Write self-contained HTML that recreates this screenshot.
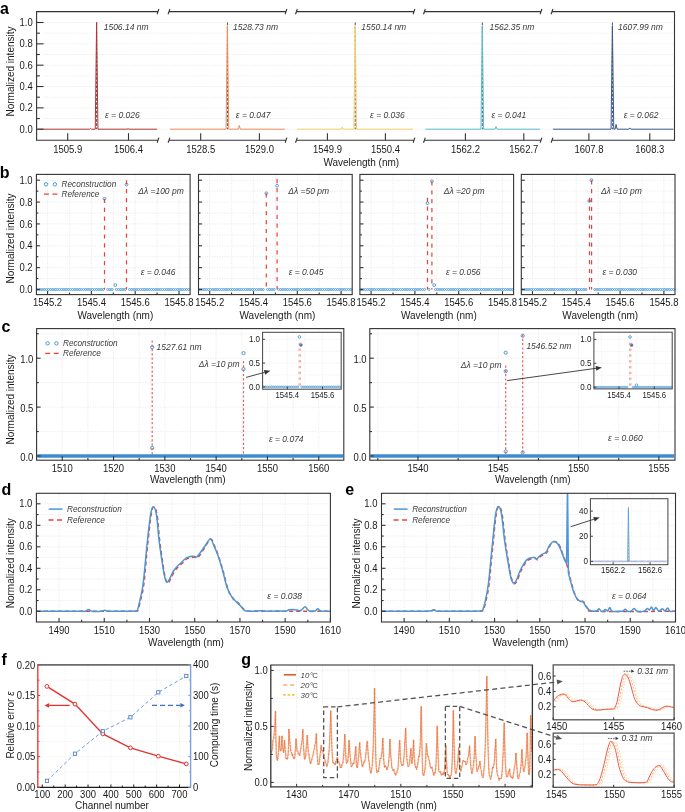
<!DOCTYPE html>
<html><head><meta charset="utf-8"><style>
html,body{margin:0;padding:0;background:#fff;}
svg{display:block;font-family:"Liberation Sans", sans-serif;will-change:transform;}
</style></head><body>
<svg width="685" height="812" viewBox="0 0 685 812">
<rect width="685" height="812" fill="#fff"/>
<line x1="44.6" y1="129.2" x2="673.5" y2="129.2" stroke="#d8d8d8" stroke-width="0.6" stroke-dasharray="1 1.5" />
<line x1="44.6" y1="118.53" x2="673.5" y2="118.53" stroke="#d8d8d8" stroke-width="0.6" stroke-dasharray="1 1.5" />
<line x1="44.6" y1="107.86" x2="673.5" y2="107.86" stroke="#d8d8d8" stroke-width="0.6" stroke-dasharray="1 1.5" />
<line x1="44.6" y1="97.19" x2="673.5" y2="97.19" stroke="#d8d8d8" stroke-width="0.6" stroke-dasharray="1 1.5" />
<line x1="44.6" y1="86.52" x2="673.5" y2="86.52" stroke="#d8d8d8" stroke-width="0.6" stroke-dasharray="1 1.5" />
<line x1="44.6" y1="75.85" x2="673.5" y2="75.85" stroke="#d8d8d8" stroke-width="0.6" stroke-dasharray="1 1.5" />
<line x1="44.6" y1="65.18" x2="673.5" y2="65.18" stroke="#d8d8d8" stroke-width="0.6" stroke-dasharray="1 1.5" />
<line x1="44.6" y1="54.51" x2="673.5" y2="54.51" stroke="#d8d8d8" stroke-width="0.6" stroke-dasharray="1 1.5" />
<line x1="44.6" y1="43.84" x2="673.5" y2="43.84" stroke="#d8d8d8" stroke-width="0.6" stroke-dasharray="1 1.5" />
<line x1="44.6" y1="33.17" x2="673.5" y2="33.17" stroke="#d8d8d8" stroke-width="0.6" stroke-dasharray="1 1.5" />
<line x1="44.6" y1="22.5" x2="673.5" y2="22.5" stroke="#d8d8d8" stroke-width="0.6" stroke-dasharray="1 1.5" />
<line x1="96.6" y1="22.5" x2="96.6" y2="129.2" stroke="#3a3a3a" stroke-width="0.9" stroke-dasharray="2.6 1.6" />
<line x1="227.4" y1="22.5" x2="227.4" y2="129.2" stroke="#3a3a3a" stroke-width="0.9" stroke-dasharray="2.6 1.6" />
<line x1="355.2" y1="22.5" x2="355.2" y2="129.2" stroke="#3a3a3a" stroke-width="0.9" stroke-dasharray="2.6 1.6" />
<line x1="482.3" y1="22.5" x2="482.3" y2="129.2" stroke="#3a3a3a" stroke-width="0.9" stroke-dasharray="2.6 1.6" />
<line x1="612.4" y1="22.5" x2="612.4" y2="129.2" stroke="#3a3a3a" stroke-width="0.9" stroke-dasharray="2.6 1.6" />
<path d="M37.6 129.2 L89.4 129.2 L90.4 128.35 L91.4 129.2 L95.25 129.2 L96.6 22.5 L97.95 129.2 L127 129.2 L128 128.77 L129 129.2 L157 129.2" stroke="#b23535" stroke-width="1.0" fill="none" stroke-linejoin="miter" stroke-miterlimit="30"/>
<path d="M170 129.2 L226.05 129.2 L227.4 25.7 L228.75 129.2 L238.3 129.2 L239.3 125.47 L240.3 129.2 L285 129.2" stroke="#f28c5a" stroke-width="1.0" fill="none" stroke-linejoin="miter" stroke-miterlimit="30"/>
<path d="M297.4 129.2 L341.3 129.2 L342.3 127.07 L343.3 129.2 L353.85 129.2 L355.2 25.7 L356.55 129.2 L413 129.2" stroke="#f6cd6a" stroke-width="1.0" fill="none" stroke-linejoin="miter" stroke-miterlimit="30"/>
<path d="M425.4 129.2 L480.95 129.2 L482.3 25.7 L483.65 129.2 L495 129.2 L496 126.53 L497 129.2 L540 129.2" stroke="#5bbad6" stroke-width="1.0" fill="none" stroke-linejoin="miter" stroke-miterlimit="30"/>
<path d="M553 129.2 L611.05 129.2 L612.4 25.7 L613.75 129.2 L615.1 129.2 L616.1 124.4 L617.1 129.2 L628.8 129.2 L629.8 127.92 L630.8 129.2 L673.5 129.2" stroke="#3a5894" stroke-width="1.0" fill="none" stroke-linejoin="miter" stroke-miterlimit="30"/>
<text x="103.7" y="30.46" font-size="8.5" text-anchor="start" fill="#3a3a3a" font-style="italic" >1506.14 nm</text>
<text x="233.1" y="30.46" font-size="8.5" text-anchor="start" fill="#3a3a3a" font-style="italic" >1528.73 nm</text>
<text x="361.3" y="30.46" font-size="8.5" text-anchor="start" fill="#3a3a3a" font-style="italic" >1550.14 nm</text>
<text x="489.5" y="30.46" font-size="8.5" text-anchor="start" fill="#3a3a3a" font-style="italic" >1562.35 nm</text>
<text x="618" y="30.46" font-size="8.5" text-anchor="start" fill="#3a3a3a" font-style="italic" >1607.99 nm</text>
<text x="105" y="117.66" font-size="8.5" text-anchor="start" fill="#3a3a3a" font-style="italic" >&#949; = 0.026</text>
<text x="235.8" y="117.66" font-size="8.5" text-anchor="start" fill="#3a3a3a" font-style="italic" >&#949; = 0.047</text>
<text x="370.1" y="117.66" font-size="8.5" text-anchor="start" fill="#3a3a3a" font-style="italic" >&#949; = 0.036</text>
<text x="491.5" y="117.66" font-size="8.5" text-anchor="start" fill="#3a3a3a" font-style="italic" >&#949; = 0.041</text>
<text x="623.7" y="117.66" font-size="8.5" text-anchor="start" fill="#3a3a3a" font-style="italic" >&#949; = 0.062</text>
<line x1="36.6" y1="11.1" x2="36.6" y2="140.7" stroke="#333333" stroke-width="1.1" />
<line x1="674.5" y1="11.1" x2="674.5" y2="140.7" stroke="#333333" stroke-width="1.1" />
<line x1="36.6" y1="11.6" x2="158" y2="11.6" stroke="#333333" stroke-width="1.1" />
<line x1="36.6" y1="140.2" x2="158" y2="140.2" stroke="#333333" stroke-width="1.1" />
<line x1="169" y1="11.6" x2="286" y2="11.6" stroke="#333333" stroke-width="1.1" />
<line x1="169" y1="140.2" x2="286" y2="140.2" stroke="#333333" stroke-width="1.1" />
<line x1="296.4" y1="11.6" x2="414" y2="11.6" stroke="#333333" stroke-width="1.1" />
<line x1="296.4" y1="140.2" x2="414" y2="140.2" stroke="#333333" stroke-width="1.1" />
<line x1="424.4" y1="11.6" x2="541" y2="11.6" stroke="#333333" stroke-width="1.1" />
<line x1="424.4" y1="140.2" x2="541" y2="140.2" stroke="#333333" stroke-width="1.1" />
<line x1="552" y1="11.6" x2="674.5" y2="11.6" stroke="#333333" stroke-width="1.1" />
<line x1="552" y1="140.2" x2="674.5" y2="140.2" stroke="#333333" stroke-width="1.1" />
<line x1="157.1" y1="14.2" x2="158.9" y2="9" stroke="#333333" stroke-width="1.1" />
<line x1="157.1" y1="142.8" x2="158.9" y2="137.6" stroke="#333333" stroke-width="1.1" />
<line x1="168.1" y1="14.2" x2="169.9" y2="9" stroke="#333333" stroke-width="1.1" />
<line x1="168.1" y1="142.8" x2="169.9" y2="137.6" stroke="#333333" stroke-width="1.1" />
<line x1="285.1" y1="14.2" x2="286.9" y2="9" stroke="#333333" stroke-width="1.1" />
<line x1="285.1" y1="142.8" x2="286.9" y2="137.6" stroke="#333333" stroke-width="1.1" />
<line x1="295.5" y1="14.2" x2="297.3" y2="9" stroke="#333333" stroke-width="1.1" />
<line x1="295.5" y1="142.8" x2="297.3" y2="137.6" stroke="#333333" stroke-width="1.1" />
<line x1="413.1" y1="14.2" x2="414.9" y2="9" stroke="#333333" stroke-width="1.1" />
<line x1="413.1" y1="142.8" x2="414.9" y2="137.6" stroke="#333333" stroke-width="1.1" />
<line x1="423.5" y1="14.2" x2="425.3" y2="9" stroke="#333333" stroke-width="1.1" />
<line x1="423.5" y1="142.8" x2="425.3" y2="137.6" stroke="#333333" stroke-width="1.1" />
<line x1="540.1" y1="14.2" x2="541.9" y2="9" stroke="#333333" stroke-width="1.1" />
<line x1="540.1" y1="142.8" x2="541.9" y2="137.6" stroke="#333333" stroke-width="1.1" />
<line x1="551.1" y1="14.2" x2="552.9" y2="9" stroke="#333333" stroke-width="1.1" />
<line x1="551.1" y1="142.8" x2="552.9" y2="137.6" stroke="#333333" stroke-width="1.1" />
<line x1="36.6" y1="129.2" x2="43.6" y2="129.2" stroke="#333333" stroke-width="1.1" />
<text transform="translate(32.8 132.8) scale(0.95 1)" font-size="10.0" text-anchor="end" fill="#1a1a1a" >0.0</text>
<line x1="36.6" y1="118.53" x2="39.9" y2="118.53" stroke="#333333" stroke-width="1.1" />
<line x1="36.6" y1="107.86" x2="43.6" y2="107.86" stroke="#333333" stroke-width="1.1" />
<text transform="translate(32.8 111.46) scale(0.95 1)" font-size="10.0" text-anchor="end" fill="#1a1a1a" >0.2</text>
<line x1="36.6" y1="97.19" x2="39.9" y2="97.19" stroke="#333333" stroke-width="1.1" />
<line x1="36.6" y1="86.52" x2="43.6" y2="86.52" stroke="#333333" stroke-width="1.1" />
<text transform="translate(32.8 90.12) scale(0.95 1)" font-size="10.0" text-anchor="end" fill="#1a1a1a" >0.4</text>
<line x1="36.6" y1="75.85" x2="39.9" y2="75.85" stroke="#333333" stroke-width="1.1" />
<line x1="36.6" y1="65.18" x2="43.6" y2="65.18" stroke="#333333" stroke-width="1.1" />
<text transform="translate(32.8 68.78) scale(0.95 1)" font-size="10.0" text-anchor="end" fill="#1a1a1a" >0.6</text>
<line x1="36.6" y1="54.51" x2="39.9" y2="54.51" stroke="#333333" stroke-width="1.1" />
<line x1="36.6" y1="43.84" x2="43.6" y2="43.84" stroke="#333333" stroke-width="1.1" />
<text transform="translate(32.8 47.44) scale(0.95 1)" font-size="10.0" text-anchor="end" fill="#1a1a1a" >0.8</text>
<line x1="36.6" y1="33.17" x2="39.9" y2="33.17" stroke="#333333" stroke-width="1.1" />
<line x1="36.6" y1="22.5" x2="43.6" y2="22.5" stroke="#333333" stroke-width="1.1" />
<text transform="translate(32.8 26.1) scale(0.95 1)" font-size="10.0" text-anchor="end" fill="#1a1a1a" >1.0</text>
<line x1="67.7" y1="140.2" x2="67.7" y2="133.2" stroke="#333333" stroke-width="1.1" />
<text transform="translate(67.7 152.7) scale(0.95 1)" font-size="10.0" text-anchor="middle" fill="#1a1a1a" >1505.9</text>
<line x1="128.5" y1="140.2" x2="128.5" y2="133.2" stroke="#333333" stroke-width="1.1" />
<text transform="translate(128.5 152.7) scale(0.95 1)" font-size="10.0" text-anchor="middle" fill="#1a1a1a" >1506.4</text>
<line x1="200.7" y1="140.2" x2="200.7" y2="133.2" stroke="#333333" stroke-width="1.1" />
<text transform="translate(200.7 152.7) scale(0.95 1)" font-size="10.0" text-anchor="middle" fill="#1a1a1a" >1528.5</text>
<line x1="259.4" y1="140.2" x2="259.4" y2="133.2" stroke="#333333" stroke-width="1.1" />
<text transform="translate(259.4 152.7) scale(0.95 1)" font-size="10.0" text-anchor="middle" fill="#1a1a1a" >1529.0</text>
<line x1="327.4" y1="140.2" x2="327.4" y2="133.2" stroke="#333333" stroke-width="1.1" />
<text transform="translate(327.4 152.7) scale(0.95 1)" font-size="10.0" text-anchor="middle" fill="#1a1a1a" >1549.9</text>
<line x1="385.4" y1="140.2" x2="385.4" y2="133.2" stroke="#333333" stroke-width="1.1" />
<text transform="translate(385.4 152.7) scale(0.95 1)" font-size="10.0" text-anchor="middle" fill="#1a1a1a" >1550.4</text>
<line x1="465.4" y1="140.2" x2="465.4" y2="133.2" stroke="#333333" stroke-width="1.1" />
<text transform="translate(465.4 152.7) scale(0.95 1)" font-size="10.0" text-anchor="middle" fill="#1a1a1a" >1562.2</text>
<line x1="523.8" y1="140.2" x2="523.8" y2="133.2" stroke="#333333" stroke-width="1.1" />
<text transform="translate(523.8 152.7) scale(0.95 1)" font-size="10.0" text-anchor="middle" fill="#1a1a1a" >1562.7</text>
<line x1="588.9" y1="140.2" x2="588.9" y2="133.2" stroke="#333333" stroke-width="1.1" />
<text transform="translate(588.9 152.7) scale(0.95 1)" font-size="10.0" text-anchor="middle" fill="#1a1a1a" >1607.8</text>
<line x1="649.8" y1="140.2" x2="649.8" y2="133.2" stroke="#333333" stroke-width="1.1" />
<text transform="translate(649.8 152.7) scale(0.95 1)" font-size="10.0" text-anchor="middle" fill="#1a1a1a" >1608.3</text>
<text x="361.3" y="165.8" font-size="10" text-anchor="middle" fill="#1a1a1a" >Wavelength (nm)</text>
<text transform="translate(13.8 71.5) rotate(-90)" x="0" y="0" font-size="10" text-anchor="middle" fill="#1a1a1a">Normalized intensity</text>
<text x="0" y="14" font-size="16" text-anchor="start" fill="#000" font-weight="bold" >a</text>
<line x1="47.6" y1="175.4" x2="47.6" y2="293.6" stroke="#d8d8d8" stroke-width="0.6" stroke-dasharray="1 1.5" />
<line x1="69.5" y1="175.4" x2="69.5" y2="293.6" stroke="#d8d8d8" stroke-width="0.6" stroke-dasharray="1 1.5" />
<line x1="91.4" y1="175.4" x2="91.4" y2="293.6" stroke="#d8d8d8" stroke-width="0.6" stroke-dasharray="1 1.5" />
<line x1="113.3" y1="175.4" x2="113.3" y2="293.6" stroke="#d8d8d8" stroke-width="0.6" stroke-dasharray="1 1.5" />
<line x1="135.2" y1="175.4" x2="135.2" y2="293.6" stroke="#d8d8d8" stroke-width="0.6" stroke-dasharray="1 1.5" />
<line x1="157.1" y1="175.4" x2="157.1" y2="293.6" stroke="#d8d8d8" stroke-width="0.6" stroke-dasharray="1 1.5" />
<line x1="179" y1="175.4" x2="179" y2="293.6" stroke="#d8d8d8" stroke-width="0.6" stroke-dasharray="1 1.5" />
<line x1="37.4" y1="278.57" x2="189.1" y2="278.57" stroke="#d8d8d8" stroke-width="0.6" stroke-dasharray="1 1.5" />
<line x1="37.4" y1="267.64" x2="189.1" y2="267.64" stroke="#d8d8d8" stroke-width="0.6" stroke-dasharray="1 1.5" />
<line x1="37.4" y1="256.71" x2="189.1" y2="256.71" stroke="#d8d8d8" stroke-width="0.6" stroke-dasharray="1 1.5" />
<line x1="37.4" y1="245.78" x2="189.1" y2="245.78" stroke="#d8d8d8" stroke-width="0.6" stroke-dasharray="1 1.5" />
<line x1="37.4" y1="234.85" x2="189.1" y2="234.85" stroke="#d8d8d8" stroke-width="0.6" stroke-dasharray="1 1.5" />
<line x1="37.4" y1="223.92" x2="189.1" y2="223.92" stroke="#d8d8d8" stroke-width="0.6" stroke-dasharray="1 1.5" />
<line x1="37.4" y1="212.99" x2="189.1" y2="212.99" stroke="#d8d8d8" stroke-width="0.6" stroke-dasharray="1 1.5" />
<line x1="37.4" y1="202.06" x2="189.1" y2="202.06" stroke="#d8d8d8" stroke-width="0.6" stroke-dasharray="1 1.5" />
<line x1="37.4" y1="191.13" x2="189.1" y2="191.13" stroke="#d8d8d8" stroke-width="0.6" stroke-dasharray="1 1.5" />
<line x1="37.4" y1="180.2" x2="189.1" y2="180.2" stroke="#d8d8d8" stroke-width="0.6" stroke-dasharray="1 1.5" />
<circle cx="37.6" cy="289.5" r="1.05" stroke="#4a98d8" stroke-width="0.85" fill="none"/>
<circle cx="39.79" cy="289.5" r="1.05" stroke="#4a98d8" stroke-width="0.85" fill="none"/>
<circle cx="41.98" cy="289.5" r="1.05" stroke="#4a98d8" stroke-width="0.85" fill="none"/>
<circle cx="44.17" cy="289.5" r="1.05" stroke="#4a98d8" stroke-width="0.85" fill="none"/>
<circle cx="46.36" cy="289.5" r="1.05" stroke="#4a98d8" stroke-width="0.85" fill="none"/>
<circle cx="48.55" cy="289.5" r="1.05" stroke="#4a98d8" stroke-width="0.85" fill="none"/>
<circle cx="50.74" cy="289.5" r="1.05" stroke="#4a98d8" stroke-width="0.85" fill="none"/>
<circle cx="52.93" cy="289.5" r="1.05" stroke="#4a98d8" stroke-width="0.85" fill="none"/>
<circle cx="55.12" cy="289.5" r="1.05" stroke="#4a98d8" stroke-width="0.85" fill="none"/>
<circle cx="57.31" cy="289.5" r="1.05" stroke="#4a98d8" stroke-width="0.85" fill="none"/>
<circle cx="59.5" cy="289.5" r="1.05" stroke="#4a98d8" stroke-width="0.85" fill="none"/>
<circle cx="61.69" cy="289.5" r="1.05" stroke="#4a98d8" stroke-width="0.85" fill="none"/>
<circle cx="63.88" cy="289.5" r="1.05" stroke="#4a98d8" stroke-width="0.85" fill="none"/>
<circle cx="66.07" cy="289.5" r="1.05" stroke="#4a98d8" stroke-width="0.85" fill="none"/>
<circle cx="68.26" cy="289.5" r="1.05" stroke="#4a98d8" stroke-width="0.85" fill="none"/>
<circle cx="70.45" cy="289.5" r="1.05" stroke="#4a98d8" stroke-width="0.85" fill="none"/>
<circle cx="72.64" cy="289.5" r="1.05" stroke="#4a98d8" stroke-width="0.85" fill="none"/>
<circle cx="74.83" cy="289.5" r="1.05" stroke="#4a98d8" stroke-width="0.85" fill="none"/>
<circle cx="77.02" cy="289.5" r="1.05" stroke="#4a98d8" stroke-width="0.85" fill="none"/>
<circle cx="79.21" cy="289.5" r="1.05" stroke="#4a98d8" stroke-width="0.85" fill="none"/>
<circle cx="81.4" cy="289.5" r="1.05" stroke="#4a98d8" stroke-width="0.85" fill="none"/>
<circle cx="83.59" cy="289.5" r="1.05" stroke="#4a98d8" stroke-width="0.85" fill="none"/>
<circle cx="85.78" cy="289.5" r="1.05" stroke="#4a98d8" stroke-width="0.85" fill="none"/>
<circle cx="87.97" cy="289.5" r="1.05" stroke="#4a98d8" stroke-width="0.85" fill="none"/>
<circle cx="90.16" cy="289.5" r="1.05" stroke="#4a98d8" stroke-width="0.85" fill="none"/>
<circle cx="92.35" cy="289.5" r="1.05" stroke="#4a98d8" stroke-width="0.85" fill="none"/>
<circle cx="94.54" cy="289.5" r="1.05" stroke="#4a98d8" stroke-width="0.85" fill="none"/>
<circle cx="96.73" cy="289.5" r="1.05" stroke="#4a98d8" stroke-width="0.85" fill="none"/>
<circle cx="98.92" cy="289.5" r="1.05" stroke="#4a98d8" stroke-width="0.85" fill="none"/>
<circle cx="101.11" cy="289.5" r="1.05" stroke="#4a98d8" stroke-width="0.85" fill="none"/>
<circle cx="103.3" cy="289.5" r="1.05" stroke="#4a98d8" stroke-width="0.85" fill="none"/>
<circle cx="107.68" cy="289.5" r="1.05" stroke="#4a98d8" stroke-width="0.85" fill="none"/>
<circle cx="109.87" cy="289.5" r="1.05" stroke="#4a98d8" stroke-width="0.85" fill="none"/>
<circle cx="112.06" cy="289.5" r="1.05" stroke="#4a98d8" stroke-width="0.85" fill="none"/>
<circle cx="116.44" cy="289.5" r="1.05" stroke="#4a98d8" stroke-width="0.85" fill="none"/>
<circle cx="118.63" cy="289.5" r="1.05" stroke="#4a98d8" stroke-width="0.85" fill="none"/>
<circle cx="120.82" cy="289.5" r="1.05" stroke="#4a98d8" stroke-width="0.85" fill="none"/>
<circle cx="123.01" cy="289.5" r="1.05" stroke="#4a98d8" stroke-width="0.85" fill="none"/>
<circle cx="125.2" cy="289.5" r="1.05" stroke="#4a98d8" stroke-width="0.85" fill="none"/>
<circle cx="129.58" cy="289.5" r="1.05" stroke="#4a98d8" stroke-width="0.85" fill="none"/>
<circle cx="131.77" cy="289.5" r="1.05" stroke="#4a98d8" stroke-width="0.85" fill="none"/>
<circle cx="133.96" cy="289.5" r="1.05" stroke="#4a98d8" stroke-width="0.85" fill="none"/>
<circle cx="136.15" cy="289.5" r="1.05" stroke="#4a98d8" stroke-width="0.85" fill="none"/>
<circle cx="138.34" cy="289.5" r="1.05" stroke="#4a98d8" stroke-width="0.85" fill="none"/>
<circle cx="140.53" cy="289.5" r="1.05" stroke="#4a98d8" stroke-width="0.85" fill="none"/>
<circle cx="142.72" cy="289.5" r="1.05" stroke="#4a98d8" stroke-width="0.85" fill="none"/>
<circle cx="144.91" cy="289.5" r="1.05" stroke="#4a98d8" stroke-width="0.85" fill="none"/>
<circle cx="147.1" cy="289.5" r="1.05" stroke="#4a98d8" stroke-width="0.85" fill="none"/>
<circle cx="149.29" cy="289.5" r="1.05" stroke="#4a98d8" stroke-width="0.85" fill="none"/>
<circle cx="151.48" cy="289.5" r="1.05" stroke="#4a98d8" stroke-width="0.85" fill="none"/>
<circle cx="153.67" cy="289.5" r="1.05" stroke="#4a98d8" stroke-width="0.85" fill="none"/>
<circle cx="155.86" cy="289.5" r="1.05" stroke="#4a98d8" stroke-width="0.85" fill="none"/>
<circle cx="158.05" cy="289.5" r="1.05" stroke="#4a98d8" stroke-width="0.85" fill="none"/>
<circle cx="160.24" cy="289.5" r="1.05" stroke="#4a98d8" stroke-width="0.85" fill="none"/>
<circle cx="162.43" cy="289.5" r="1.05" stroke="#4a98d8" stroke-width="0.85" fill="none"/>
<circle cx="164.62" cy="289.5" r="1.05" stroke="#4a98d8" stroke-width="0.85" fill="none"/>
<circle cx="166.81" cy="289.5" r="1.05" stroke="#4a98d8" stroke-width="0.85" fill="none"/>
<circle cx="169" cy="289.5" r="1.05" stroke="#4a98d8" stroke-width="0.85" fill="none"/>
<circle cx="171.19" cy="289.5" r="1.05" stroke="#4a98d8" stroke-width="0.85" fill="none"/>
<circle cx="173.38" cy="289.5" r="1.05" stroke="#4a98d8" stroke-width="0.85" fill="none"/>
<circle cx="175.57" cy="289.5" r="1.05" stroke="#4a98d8" stroke-width="0.85" fill="none"/>
<circle cx="177.76" cy="289.5" r="1.05" stroke="#4a98d8" stroke-width="0.85" fill="none"/>
<circle cx="179.95" cy="289.5" r="1.05" stroke="#4a98d8" stroke-width="0.85" fill="none"/>
<circle cx="182.14" cy="289.5" r="1.05" stroke="#4a98d8" stroke-width="0.85" fill="none"/>
<circle cx="184.33" cy="289.5" r="1.05" stroke="#4a98d8" stroke-width="0.85" fill="none"/>
<circle cx="186.52" cy="289.5" r="1.05" stroke="#4a98d8" stroke-width="0.85" fill="none"/>
<circle cx="188.71" cy="289.5" r="1.05" stroke="#4a98d8" stroke-width="0.85" fill="none"/>
<circle cx="104.5" cy="198.78" r="1.4" stroke="#4a98d8" stroke-width="0.95" fill="none"/>
<circle cx="126.5" cy="184.57" r="1.4" stroke="#4a98d8" stroke-width="0.95" fill="none"/>
<circle cx="115.3" cy="285.13" r="1.4" stroke="#4a98d8" stroke-width="0.95" fill="none"/>
<line x1="104.5" y1="198.78" x2="104.5" y2="289.5" stroke="#e8413c" stroke-width="1.2" stroke-dasharray="4.2 4.7" />
<line x1="126.5" y1="180.2" x2="126.5" y2="289.5" stroke="#e8413c" stroke-width="1.2" stroke-dasharray="4.2 4.7" />
<text x="138.2" y="194.26" font-size="8.5" text-anchor="start" fill="#3a3a3a" font-style="italic" >&#916;&#955; =100 pm</text>
<text x="140.7" y="274.56" font-size="8.5" text-anchor="start" fill="#3a3a3a" font-style="italic" >&#949; = 0.046</text>
<rect x="36.4" y="174.4" width="153.7" height="120.2" stroke="#333333" stroke-width="1.1" fill="none"/>
<line x1="36.4" y1="289.5" x2="39.9" y2="289.5" stroke="#333333" stroke-width="1.1" />
<line x1="36.4" y1="278.57" x2="38.4" y2="278.57" stroke="#333333" stroke-width="1.1" />
<line x1="36.4" y1="267.64" x2="39.9" y2="267.64" stroke="#333333" stroke-width="1.1" />
<line x1="36.4" y1="256.71" x2="38.4" y2="256.71" stroke="#333333" stroke-width="1.1" />
<line x1="36.4" y1="245.78" x2="39.9" y2="245.78" stroke="#333333" stroke-width="1.1" />
<line x1="36.4" y1="234.85" x2="38.4" y2="234.85" stroke="#333333" stroke-width="1.1" />
<line x1="36.4" y1="223.92" x2="39.9" y2="223.92" stroke="#333333" stroke-width="1.1" />
<line x1="36.4" y1="212.99" x2="38.4" y2="212.99" stroke="#333333" stroke-width="1.1" />
<line x1="36.4" y1="202.06" x2="39.9" y2="202.06" stroke="#333333" stroke-width="1.1" />
<line x1="36.4" y1="191.13" x2="38.4" y2="191.13" stroke="#333333" stroke-width="1.1" />
<line x1="36.4" y1="180.2" x2="39.9" y2="180.2" stroke="#333333" stroke-width="1.1" />
<line x1="47.6" y1="294.6" x2="47.6" y2="291.1" stroke="#333333" stroke-width="1.1" />
<line x1="69.5" y1="294.6" x2="69.5" y2="292.6" stroke="#333333" stroke-width="1.1" />
<line x1="91.4" y1="294.6" x2="91.4" y2="291.1" stroke="#333333" stroke-width="1.1" />
<line x1="113.3" y1="294.6" x2="113.3" y2="292.6" stroke="#333333" stroke-width="1.1" />
<line x1="135.2" y1="294.6" x2="135.2" y2="291.1" stroke="#333333" stroke-width="1.1" />
<line x1="157.1" y1="294.6" x2="157.1" y2="292.6" stroke="#333333" stroke-width="1.1" />
<line x1="179" y1="294.6" x2="179" y2="291.1" stroke="#333333" stroke-width="1.1" />
<text transform="translate(47.6 306.2) scale(0.95 1)" font-size="10.0" text-anchor="middle" fill="#1a1a1a" >1545.2</text>
<text transform="translate(91.4 306.2) scale(0.95 1)" font-size="10.0" text-anchor="middle" fill="#1a1a1a" >1545.4</text>
<text transform="translate(135.2 306.2) scale(0.95 1)" font-size="10.0" text-anchor="middle" fill="#1a1a1a" >1545.6</text>
<text transform="translate(179 306.2) scale(0.95 1)" font-size="10.0" text-anchor="middle" fill="#1a1a1a" >1545.8</text>
<text x="115.35" y="318.8" font-size="10" text-anchor="middle" fill="#1a1a1a" >Wavelength (nm)</text>
<line x1="209.7" y1="175.4" x2="209.7" y2="293.6" stroke="#d8d8d8" stroke-width="0.6" stroke-dasharray="1 1.5" />
<line x1="231.6" y1="175.4" x2="231.6" y2="293.6" stroke="#d8d8d8" stroke-width="0.6" stroke-dasharray="1 1.5" />
<line x1="253.5" y1="175.4" x2="253.5" y2="293.6" stroke="#d8d8d8" stroke-width="0.6" stroke-dasharray="1 1.5" />
<line x1="275.4" y1="175.4" x2="275.4" y2="293.6" stroke="#d8d8d8" stroke-width="0.6" stroke-dasharray="1 1.5" />
<line x1="297.3" y1="175.4" x2="297.3" y2="293.6" stroke="#d8d8d8" stroke-width="0.6" stroke-dasharray="1 1.5" />
<line x1="319.2" y1="175.4" x2="319.2" y2="293.6" stroke="#d8d8d8" stroke-width="0.6" stroke-dasharray="1 1.5" />
<line x1="341.1" y1="175.4" x2="341.1" y2="293.6" stroke="#d8d8d8" stroke-width="0.6" stroke-dasharray="1 1.5" />
<line x1="199.5" y1="278.57" x2="351.2" y2="278.57" stroke="#d8d8d8" stroke-width="0.6" stroke-dasharray="1 1.5" />
<line x1="199.5" y1="267.64" x2="351.2" y2="267.64" stroke="#d8d8d8" stroke-width="0.6" stroke-dasharray="1 1.5" />
<line x1="199.5" y1="256.71" x2="351.2" y2="256.71" stroke="#d8d8d8" stroke-width="0.6" stroke-dasharray="1 1.5" />
<line x1="199.5" y1="245.78" x2="351.2" y2="245.78" stroke="#d8d8d8" stroke-width="0.6" stroke-dasharray="1 1.5" />
<line x1="199.5" y1="234.85" x2="351.2" y2="234.85" stroke="#d8d8d8" stroke-width="0.6" stroke-dasharray="1 1.5" />
<line x1="199.5" y1="223.92" x2="351.2" y2="223.92" stroke="#d8d8d8" stroke-width="0.6" stroke-dasharray="1 1.5" />
<line x1="199.5" y1="212.99" x2="351.2" y2="212.99" stroke="#d8d8d8" stroke-width="0.6" stroke-dasharray="1 1.5" />
<line x1="199.5" y1="202.06" x2="351.2" y2="202.06" stroke="#d8d8d8" stroke-width="0.6" stroke-dasharray="1 1.5" />
<line x1="199.5" y1="191.13" x2="351.2" y2="191.13" stroke="#d8d8d8" stroke-width="0.6" stroke-dasharray="1 1.5" />
<line x1="199.5" y1="180.2" x2="351.2" y2="180.2" stroke="#d8d8d8" stroke-width="0.6" stroke-dasharray="1 1.5" />
<circle cx="199.7" cy="289.5" r="1.05" stroke="#4a98d8" stroke-width="0.85" fill="none"/>
<circle cx="201.89" cy="289.5" r="1.05" stroke="#4a98d8" stroke-width="0.85" fill="none"/>
<circle cx="204.08" cy="289.5" r="1.05" stroke="#4a98d8" stroke-width="0.85" fill="none"/>
<circle cx="206.27" cy="289.5" r="1.05" stroke="#4a98d8" stroke-width="0.85" fill="none"/>
<circle cx="208.46" cy="289.5" r="1.05" stroke="#4a98d8" stroke-width="0.85" fill="none"/>
<circle cx="210.65" cy="289.5" r="1.05" stroke="#4a98d8" stroke-width="0.85" fill="none"/>
<circle cx="212.84" cy="289.5" r="1.05" stroke="#4a98d8" stroke-width="0.85" fill="none"/>
<circle cx="215.03" cy="289.5" r="1.05" stroke="#4a98d8" stroke-width="0.85" fill="none"/>
<circle cx="217.22" cy="289.5" r="1.05" stroke="#4a98d8" stroke-width="0.85" fill="none"/>
<circle cx="219.41" cy="289.5" r="1.05" stroke="#4a98d8" stroke-width="0.85" fill="none"/>
<circle cx="221.6" cy="289.5" r="1.05" stroke="#4a98d8" stroke-width="0.85" fill="none"/>
<circle cx="223.79" cy="289.5" r="1.05" stroke="#4a98d8" stroke-width="0.85" fill="none"/>
<circle cx="225.98" cy="289.5" r="1.05" stroke="#4a98d8" stroke-width="0.85" fill="none"/>
<circle cx="228.17" cy="289.5" r="1.05" stroke="#4a98d8" stroke-width="0.85" fill="none"/>
<circle cx="230.36" cy="289.5" r="1.05" stroke="#4a98d8" stroke-width="0.85" fill="none"/>
<circle cx="232.55" cy="289.5" r="1.05" stroke="#4a98d8" stroke-width="0.85" fill="none"/>
<circle cx="234.74" cy="289.5" r="1.05" stroke="#4a98d8" stroke-width="0.85" fill="none"/>
<circle cx="236.93" cy="289.5" r="1.05" stroke="#4a98d8" stroke-width="0.85" fill="none"/>
<circle cx="239.12" cy="289.5" r="1.05" stroke="#4a98d8" stroke-width="0.85" fill="none"/>
<circle cx="241.31" cy="289.5" r="1.05" stroke="#4a98d8" stroke-width="0.85" fill="none"/>
<circle cx="243.5" cy="289.5" r="1.05" stroke="#4a98d8" stroke-width="0.85" fill="none"/>
<circle cx="245.69" cy="289.5" r="1.05" stroke="#4a98d8" stroke-width="0.85" fill="none"/>
<circle cx="247.88" cy="289.5" r="1.05" stroke="#4a98d8" stroke-width="0.85" fill="none"/>
<circle cx="250.07" cy="289.5" r="1.05" stroke="#4a98d8" stroke-width="0.85" fill="none"/>
<circle cx="252.26" cy="289.5" r="1.05" stroke="#4a98d8" stroke-width="0.85" fill="none"/>
<circle cx="254.45" cy="289.5" r="1.05" stroke="#4a98d8" stroke-width="0.85" fill="none"/>
<circle cx="256.64" cy="289.5" r="1.05" stroke="#4a98d8" stroke-width="0.85" fill="none"/>
<circle cx="258.83" cy="289.5" r="1.05" stroke="#4a98d8" stroke-width="0.85" fill="none"/>
<circle cx="261.02" cy="289.5" r="1.05" stroke="#4a98d8" stroke-width="0.85" fill="none"/>
<circle cx="263.21" cy="289.5" r="1.05" stroke="#4a98d8" stroke-width="0.85" fill="none"/>
<circle cx="267.59" cy="289.5" r="1.05" stroke="#4a98d8" stroke-width="0.85" fill="none"/>
<circle cx="269.78" cy="289.5" r="1.05" stroke="#4a98d8" stroke-width="0.85" fill="none"/>
<circle cx="271.97" cy="289.5" r="1.05" stroke="#4a98d8" stroke-width="0.85" fill="none"/>
<circle cx="274.16" cy="289.5" r="1.05" stroke="#4a98d8" stroke-width="0.85" fill="none"/>
<circle cx="278.54" cy="289.5" r="1.05" stroke="#4a98d8" stroke-width="0.85" fill="none"/>
<circle cx="280.73" cy="289.5" r="1.05" stroke="#4a98d8" stroke-width="0.85" fill="none"/>
<circle cx="282.92" cy="289.5" r="1.05" stroke="#4a98d8" stroke-width="0.85" fill="none"/>
<circle cx="285.11" cy="289.5" r="1.05" stroke="#4a98d8" stroke-width="0.85" fill="none"/>
<circle cx="287.3" cy="289.5" r="1.05" stroke="#4a98d8" stroke-width="0.85" fill="none"/>
<circle cx="289.49" cy="289.5" r="1.05" stroke="#4a98d8" stroke-width="0.85" fill="none"/>
<circle cx="291.68" cy="289.5" r="1.05" stroke="#4a98d8" stroke-width="0.85" fill="none"/>
<circle cx="293.87" cy="289.5" r="1.05" stroke="#4a98d8" stroke-width="0.85" fill="none"/>
<circle cx="296.06" cy="289.5" r="1.05" stroke="#4a98d8" stroke-width="0.85" fill="none"/>
<circle cx="298.25" cy="289.5" r="1.05" stroke="#4a98d8" stroke-width="0.85" fill="none"/>
<circle cx="300.44" cy="289.5" r="1.05" stroke="#4a98d8" stroke-width="0.85" fill="none"/>
<circle cx="302.63" cy="289.5" r="1.05" stroke="#4a98d8" stroke-width="0.85" fill="none"/>
<circle cx="304.82" cy="289.5" r="1.05" stroke="#4a98d8" stroke-width="0.85" fill="none"/>
<circle cx="307.01" cy="289.5" r="1.05" stroke="#4a98d8" stroke-width="0.85" fill="none"/>
<circle cx="309.2" cy="289.5" r="1.05" stroke="#4a98d8" stroke-width="0.85" fill="none"/>
<circle cx="311.39" cy="289.5" r="1.05" stroke="#4a98d8" stroke-width="0.85" fill="none"/>
<circle cx="313.58" cy="289.5" r="1.05" stroke="#4a98d8" stroke-width="0.85" fill="none"/>
<circle cx="315.77" cy="289.5" r="1.05" stroke="#4a98d8" stroke-width="0.85" fill="none"/>
<circle cx="317.96" cy="289.5" r="1.05" stroke="#4a98d8" stroke-width="0.85" fill="none"/>
<circle cx="320.15" cy="289.5" r="1.05" stroke="#4a98d8" stroke-width="0.85" fill="none"/>
<circle cx="322.34" cy="289.5" r="1.05" stroke="#4a98d8" stroke-width="0.85" fill="none"/>
<circle cx="324.53" cy="289.5" r="1.05" stroke="#4a98d8" stroke-width="0.85" fill="none"/>
<circle cx="326.72" cy="289.5" r="1.05" stroke="#4a98d8" stroke-width="0.85" fill="none"/>
<circle cx="328.91" cy="289.5" r="1.05" stroke="#4a98d8" stroke-width="0.85" fill="none"/>
<circle cx="331.1" cy="289.5" r="1.05" stroke="#4a98d8" stroke-width="0.85" fill="none"/>
<circle cx="333.29" cy="289.5" r="1.05" stroke="#4a98d8" stroke-width="0.85" fill="none"/>
<circle cx="335.48" cy="289.5" r="1.05" stroke="#4a98d8" stroke-width="0.85" fill="none"/>
<circle cx="337.67" cy="289.5" r="1.05" stroke="#4a98d8" stroke-width="0.85" fill="none"/>
<circle cx="339.86" cy="289.5" r="1.05" stroke="#4a98d8" stroke-width="0.85" fill="none"/>
<circle cx="342.05" cy="289.5" r="1.05" stroke="#4a98d8" stroke-width="0.85" fill="none"/>
<circle cx="344.24" cy="289.5" r="1.05" stroke="#4a98d8" stroke-width="0.85" fill="none"/>
<circle cx="346.43" cy="289.5" r="1.05" stroke="#4a98d8" stroke-width="0.85" fill="none"/>
<circle cx="348.62" cy="289.5" r="1.05" stroke="#4a98d8" stroke-width="0.85" fill="none"/>
<circle cx="350.81" cy="289.5" r="1.05" stroke="#4a98d8" stroke-width="0.85" fill="none"/>
<circle cx="266.3" cy="193.32" r="1.4" stroke="#4a98d8" stroke-width="0.95" fill="none"/>
<circle cx="277.1" cy="185.67" r="1.4" stroke="#4a98d8" stroke-width="0.95" fill="none"/>
<line x1="266.3" y1="193.32" x2="266.3" y2="289.5" stroke="#e8413c" stroke-width="1.2" stroke-dasharray="4.2 4.7" />
<line x1="277.1" y1="179.11" x2="277.1" y2="289.5" stroke="#e8413c" stroke-width="1.2" stroke-dasharray="4.2 4.7" />
<text x="288.2" y="194.26" font-size="8.5" text-anchor="start" fill="#3a3a3a" font-style="italic" >&#916;&#955; =50 pm</text>
<text x="288.7" y="274.56" font-size="8.5" text-anchor="start" fill="#3a3a3a" font-style="italic" >&#949; = 0.045</text>
<rect x="198.5" y="174.4" width="153.7" height="120.2" stroke="#333333" stroke-width="1.1" fill="none"/>
<line x1="198.5" y1="289.5" x2="202" y2="289.5" stroke="#333333" stroke-width="1.1" />
<line x1="198.5" y1="278.57" x2="200.5" y2="278.57" stroke="#333333" stroke-width="1.1" />
<line x1="198.5" y1="267.64" x2="202" y2="267.64" stroke="#333333" stroke-width="1.1" />
<line x1="198.5" y1="256.71" x2="200.5" y2="256.71" stroke="#333333" stroke-width="1.1" />
<line x1="198.5" y1="245.78" x2="202" y2="245.78" stroke="#333333" stroke-width="1.1" />
<line x1="198.5" y1="234.85" x2="200.5" y2="234.85" stroke="#333333" stroke-width="1.1" />
<line x1="198.5" y1="223.92" x2="202" y2="223.92" stroke="#333333" stroke-width="1.1" />
<line x1="198.5" y1="212.99" x2="200.5" y2="212.99" stroke="#333333" stroke-width="1.1" />
<line x1="198.5" y1="202.06" x2="202" y2="202.06" stroke="#333333" stroke-width="1.1" />
<line x1="198.5" y1="191.13" x2="200.5" y2="191.13" stroke="#333333" stroke-width="1.1" />
<line x1="198.5" y1="180.2" x2="202" y2="180.2" stroke="#333333" stroke-width="1.1" />
<line x1="209.7" y1="294.6" x2="209.7" y2="291.1" stroke="#333333" stroke-width="1.1" />
<line x1="231.6" y1="294.6" x2="231.6" y2="292.6" stroke="#333333" stroke-width="1.1" />
<line x1="253.5" y1="294.6" x2="253.5" y2="291.1" stroke="#333333" stroke-width="1.1" />
<line x1="275.4" y1="294.6" x2="275.4" y2="292.6" stroke="#333333" stroke-width="1.1" />
<line x1="297.3" y1="294.6" x2="297.3" y2="291.1" stroke="#333333" stroke-width="1.1" />
<line x1="319.2" y1="294.6" x2="319.2" y2="292.6" stroke="#333333" stroke-width="1.1" />
<line x1="341.1" y1="294.6" x2="341.1" y2="291.1" stroke="#333333" stroke-width="1.1" />
<text transform="translate(209.7 306.2) scale(0.95 1)" font-size="10.0" text-anchor="middle" fill="#1a1a1a" >1545.2</text>
<text transform="translate(253.5 306.2) scale(0.95 1)" font-size="10.0" text-anchor="middle" fill="#1a1a1a" >1545.4</text>
<text transform="translate(297.3 306.2) scale(0.95 1)" font-size="10.0" text-anchor="middle" fill="#1a1a1a" >1545.6</text>
<text transform="translate(341.1 306.2) scale(0.95 1)" font-size="10.0" text-anchor="middle" fill="#1a1a1a" >1545.8</text>
<text x="277.45" y="318.8" font-size="10" text-anchor="middle" fill="#1a1a1a" >Wavelength (nm)</text>
<line x1="371.1" y1="175.4" x2="371.1" y2="293.6" stroke="#d8d8d8" stroke-width="0.6" stroke-dasharray="1 1.5" />
<line x1="393" y1="175.4" x2="393" y2="293.6" stroke="#d8d8d8" stroke-width="0.6" stroke-dasharray="1 1.5" />
<line x1="414.9" y1="175.4" x2="414.9" y2="293.6" stroke="#d8d8d8" stroke-width="0.6" stroke-dasharray="1 1.5" />
<line x1="436.8" y1="175.4" x2="436.8" y2="293.6" stroke="#d8d8d8" stroke-width="0.6" stroke-dasharray="1 1.5" />
<line x1="458.7" y1="175.4" x2="458.7" y2="293.6" stroke="#d8d8d8" stroke-width="0.6" stroke-dasharray="1 1.5" />
<line x1="480.6" y1="175.4" x2="480.6" y2="293.6" stroke="#d8d8d8" stroke-width="0.6" stroke-dasharray="1 1.5" />
<line x1="502.5" y1="175.4" x2="502.5" y2="293.6" stroke="#d8d8d8" stroke-width="0.6" stroke-dasharray="1 1.5" />
<line x1="360.9" y1="278.57" x2="512.6" y2="278.57" stroke="#d8d8d8" stroke-width="0.6" stroke-dasharray="1 1.5" />
<line x1="360.9" y1="267.64" x2="512.6" y2="267.64" stroke="#d8d8d8" stroke-width="0.6" stroke-dasharray="1 1.5" />
<line x1="360.9" y1="256.71" x2="512.6" y2="256.71" stroke="#d8d8d8" stroke-width="0.6" stroke-dasharray="1 1.5" />
<line x1="360.9" y1="245.78" x2="512.6" y2="245.78" stroke="#d8d8d8" stroke-width="0.6" stroke-dasharray="1 1.5" />
<line x1="360.9" y1="234.85" x2="512.6" y2="234.85" stroke="#d8d8d8" stroke-width="0.6" stroke-dasharray="1 1.5" />
<line x1="360.9" y1="223.92" x2="512.6" y2="223.92" stroke="#d8d8d8" stroke-width="0.6" stroke-dasharray="1 1.5" />
<line x1="360.9" y1="212.99" x2="512.6" y2="212.99" stroke="#d8d8d8" stroke-width="0.6" stroke-dasharray="1 1.5" />
<line x1="360.9" y1="202.06" x2="512.6" y2="202.06" stroke="#d8d8d8" stroke-width="0.6" stroke-dasharray="1 1.5" />
<line x1="360.9" y1="191.13" x2="512.6" y2="191.13" stroke="#d8d8d8" stroke-width="0.6" stroke-dasharray="1 1.5" />
<line x1="360.9" y1="180.2" x2="512.6" y2="180.2" stroke="#d8d8d8" stroke-width="0.6" stroke-dasharray="1 1.5" />
<circle cx="361.1" cy="289.5" r="1.05" stroke="#4a98d8" stroke-width="0.85" fill="none"/>
<circle cx="363.29" cy="289.5" r="1.05" stroke="#4a98d8" stroke-width="0.85" fill="none"/>
<circle cx="365.48" cy="289.5" r="1.05" stroke="#4a98d8" stroke-width="0.85" fill="none"/>
<circle cx="367.67" cy="289.5" r="1.05" stroke="#4a98d8" stroke-width="0.85" fill="none"/>
<circle cx="369.86" cy="289.5" r="1.05" stroke="#4a98d8" stroke-width="0.85" fill="none"/>
<circle cx="372.05" cy="289.5" r="1.05" stroke="#4a98d8" stroke-width="0.85" fill="none"/>
<circle cx="374.24" cy="289.5" r="1.05" stroke="#4a98d8" stroke-width="0.85" fill="none"/>
<circle cx="376.43" cy="289.5" r="1.05" stroke="#4a98d8" stroke-width="0.85" fill="none"/>
<circle cx="378.62" cy="289.5" r="1.05" stroke="#4a98d8" stroke-width="0.85" fill="none"/>
<circle cx="380.81" cy="289.5" r="1.05" stroke="#4a98d8" stroke-width="0.85" fill="none"/>
<circle cx="383" cy="289.5" r="1.05" stroke="#4a98d8" stroke-width="0.85" fill="none"/>
<circle cx="385.19" cy="289.5" r="1.05" stroke="#4a98d8" stroke-width="0.85" fill="none"/>
<circle cx="387.38" cy="289.5" r="1.05" stroke="#4a98d8" stroke-width="0.85" fill="none"/>
<circle cx="389.57" cy="289.5" r="1.05" stroke="#4a98d8" stroke-width="0.85" fill="none"/>
<circle cx="391.76" cy="289.5" r="1.05" stroke="#4a98d8" stroke-width="0.85" fill="none"/>
<circle cx="393.95" cy="289.5" r="1.05" stroke="#4a98d8" stroke-width="0.85" fill="none"/>
<circle cx="396.14" cy="289.5" r="1.05" stroke="#4a98d8" stroke-width="0.85" fill="none"/>
<circle cx="398.33" cy="289.5" r="1.05" stroke="#4a98d8" stroke-width="0.85" fill="none"/>
<circle cx="400.52" cy="289.5" r="1.05" stroke="#4a98d8" stroke-width="0.85" fill="none"/>
<circle cx="402.71" cy="289.5" r="1.05" stroke="#4a98d8" stroke-width="0.85" fill="none"/>
<circle cx="404.9" cy="289.5" r="1.05" stroke="#4a98d8" stroke-width="0.85" fill="none"/>
<circle cx="407.09" cy="289.5" r="1.05" stroke="#4a98d8" stroke-width="0.85" fill="none"/>
<circle cx="409.28" cy="289.5" r="1.05" stroke="#4a98d8" stroke-width="0.85" fill="none"/>
<circle cx="411.47" cy="289.5" r="1.05" stroke="#4a98d8" stroke-width="0.85" fill="none"/>
<circle cx="413.66" cy="289.5" r="1.05" stroke="#4a98d8" stroke-width="0.85" fill="none"/>
<circle cx="415.85" cy="289.5" r="1.05" stroke="#4a98d8" stroke-width="0.85" fill="none"/>
<circle cx="418.04" cy="289.5" r="1.05" stroke="#4a98d8" stroke-width="0.85" fill="none"/>
<circle cx="420.23" cy="289.5" r="1.05" stroke="#4a98d8" stroke-width="0.85" fill="none"/>
<circle cx="422.42" cy="289.5" r="1.05" stroke="#4a98d8" stroke-width="0.85" fill="none"/>
<circle cx="424.61" cy="289.5" r="1.05" stroke="#4a98d8" stroke-width="0.85" fill="none"/>
<circle cx="428.99" cy="289.5" r="1.05" stroke="#4a98d8" stroke-width="0.85" fill="none"/>
<circle cx="435.56" cy="289.5" r="1.05" stroke="#4a98d8" stroke-width="0.85" fill="none"/>
<circle cx="437.75" cy="289.5" r="1.05" stroke="#4a98d8" stroke-width="0.85" fill="none"/>
<circle cx="439.94" cy="289.5" r="1.05" stroke="#4a98d8" stroke-width="0.85" fill="none"/>
<circle cx="442.13" cy="289.5" r="1.05" stroke="#4a98d8" stroke-width="0.85" fill="none"/>
<circle cx="444.32" cy="289.5" r="1.05" stroke="#4a98d8" stroke-width="0.85" fill="none"/>
<circle cx="446.51" cy="289.5" r="1.05" stroke="#4a98d8" stroke-width="0.85" fill="none"/>
<circle cx="448.7" cy="289.5" r="1.05" stroke="#4a98d8" stroke-width="0.85" fill="none"/>
<circle cx="450.89" cy="289.5" r="1.05" stroke="#4a98d8" stroke-width="0.85" fill="none"/>
<circle cx="453.08" cy="289.5" r="1.05" stroke="#4a98d8" stroke-width="0.85" fill="none"/>
<circle cx="455.27" cy="289.5" r="1.05" stroke="#4a98d8" stroke-width="0.85" fill="none"/>
<circle cx="457.46" cy="289.5" r="1.05" stroke="#4a98d8" stroke-width="0.85" fill="none"/>
<circle cx="459.65" cy="289.5" r="1.05" stroke="#4a98d8" stroke-width="0.85" fill="none"/>
<circle cx="461.84" cy="289.5" r="1.05" stroke="#4a98d8" stroke-width="0.85" fill="none"/>
<circle cx="464.03" cy="289.5" r="1.05" stroke="#4a98d8" stroke-width="0.85" fill="none"/>
<circle cx="466.22" cy="289.5" r="1.05" stroke="#4a98d8" stroke-width="0.85" fill="none"/>
<circle cx="468.41" cy="289.5" r="1.05" stroke="#4a98d8" stroke-width="0.85" fill="none"/>
<circle cx="470.6" cy="289.5" r="1.05" stroke="#4a98d8" stroke-width="0.85" fill="none"/>
<circle cx="472.79" cy="289.5" r="1.05" stroke="#4a98d8" stroke-width="0.85" fill="none"/>
<circle cx="474.98" cy="289.5" r="1.05" stroke="#4a98d8" stroke-width="0.85" fill="none"/>
<circle cx="477.17" cy="289.5" r="1.05" stroke="#4a98d8" stroke-width="0.85" fill="none"/>
<circle cx="479.36" cy="289.5" r="1.05" stroke="#4a98d8" stroke-width="0.85" fill="none"/>
<circle cx="481.55" cy="289.5" r="1.05" stroke="#4a98d8" stroke-width="0.85" fill="none"/>
<circle cx="483.74" cy="289.5" r="1.05" stroke="#4a98d8" stroke-width="0.85" fill="none"/>
<circle cx="485.93" cy="289.5" r="1.05" stroke="#4a98d8" stroke-width="0.85" fill="none"/>
<circle cx="488.12" cy="289.5" r="1.05" stroke="#4a98d8" stroke-width="0.85" fill="none"/>
<circle cx="490.31" cy="289.5" r="1.05" stroke="#4a98d8" stroke-width="0.85" fill="none"/>
<circle cx="492.5" cy="289.5" r="1.05" stroke="#4a98d8" stroke-width="0.85" fill="none"/>
<circle cx="494.69" cy="289.5" r="1.05" stroke="#4a98d8" stroke-width="0.85" fill="none"/>
<circle cx="496.88" cy="289.5" r="1.05" stroke="#4a98d8" stroke-width="0.85" fill="none"/>
<circle cx="499.07" cy="289.5" r="1.05" stroke="#4a98d8" stroke-width="0.85" fill="none"/>
<circle cx="501.26" cy="289.5" r="1.05" stroke="#4a98d8" stroke-width="0.85" fill="none"/>
<circle cx="503.45" cy="289.5" r="1.05" stroke="#4a98d8" stroke-width="0.85" fill="none"/>
<circle cx="505.64" cy="289.5" r="1.05" stroke="#4a98d8" stroke-width="0.85" fill="none"/>
<circle cx="507.83" cy="289.5" r="1.05" stroke="#4a98d8" stroke-width="0.85" fill="none"/>
<circle cx="510.02" cy="289.5" r="1.05" stroke="#4a98d8" stroke-width="0.85" fill="none"/>
<circle cx="512.21" cy="289.5" r="1.05" stroke="#4a98d8" stroke-width="0.85" fill="none"/>
<circle cx="427.5" cy="203.15" r="1.4" stroke="#4a98d8" stroke-width="0.95" fill="none"/>
<circle cx="431.9" cy="181.29" r="1.4" stroke="#4a98d8" stroke-width="0.95" fill="none"/>
<circle cx="434.2" cy="285.13" r="1.4" stroke="#4a98d8" stroke-width="0.95" fill="none"/>
<line x1="427.5" y1="197.69" x2="427.5" y2="289.5" stroke="#e8413c" stroke-width="1.2" stroke-dasharray="4.2 4.7" />
<line x1="431.9" y1="181.29" x2="431.9" y2="289.5" stroke="#e8413c" stroke-width="1.2" stroke-dasharray="4.2 4.7" />
<text x="443.8" y="194.26" font-size="8.5" text-anchor="start" fill="#3a3a3a" font-style="italic" >&#916;&#955; =20 pm</text>
<text x="445.9" y="274.56" font-size="8.5" text-anchor="start" fill="#3a3a3a" font-style="italic" >&#949; = 0.056</text>
<rect x="359.9" y="174.4" width="153.7" height="120.2" stroke="#333333" stroke-width="1.1" fill="none"/>
<line x1="359.9" y1="289.5" x2="363.4" y2="289.5" stroke="#333333" stroke-width="1.1" />
<line x1="359.9" y1="278.57" x2="361.9" y2="278.57" stroke="#333333" stroke-width="1.1" />
<line x1="359.9" y1="267.64" x2="363.4" y2="267.64" stroke="#333333" stroke-width="1.1" />
<line x1="359.9" y1="256.71" x2="361.9" y2="256.71" stroke="#333333" stroke-width="1.1" />
<line x1="359.9" y1="245.78" x2="363.4" y2="245.78" stroke="#333333" stroke-width="1.1" />
<line x1="359.9" y1="234.85" x2="361.9" y2="234.85" stroke="#333333" stroke-width="1.1" />
<line x1="359.9" y1="223.92" x2="363.4" y2="223.92" stroke="#333333" stroke-width="1.1" />
<line x1="359.9" y1="212.99" x2="361.9" y2="212.99" stroke="#333333" stroke-width="1.1" />
<line x1="359.9" y1="202.06" x2="363.4" y2="202.06" stroke="#333333" stroke-width="1.1" />
<line x1="359.9" y1="191.13" x2="361.9" y2="191.13" stroke="#333333" stroke-width="1.1" />
<line x1="359.9" y1="180.2" x2="363.4" y2="180.2" stroke="#333333" stroke-width="1.1" />
<line x1="371.1" y1="294.6" x2="371.1" y2="291.1" stroke="#333333" stroke-width="1.1" />
<line x1="393" y1="294.6" x2="393" y2="292.6" stroke="#333333" stroke-width="1.1" />
<line x1="414.9" y1="294.6" x2="414.9" y2="291.1" stroke="#333333" stroke-width="1.1" />
<line x1="436.8" y1="294.6" x2="436.8" y2="292.6" stroke="#333333" stroke-width="1.1" />
<line x1="458.7" y1="294.6" x2="458.7" y2="291.1" stroke="#333333" stroke-width="1.1" />
<line x1="480.6" y1="294.6" x2="480.6" y2="292.6" stroke="#333333" stroke-width="1.1" />
<line x1="502.5" y1="294.6" x2="502.5" y2="291.1" stroke="#333333" stroke-width="1.1" />
<text transform="translate(371.1 306.2) scale(0.95 1)" font-size="10.0" text-anchor="middle" fill="#1a1a1a" >1545.2</text>
<text transform="translate(414.9 306.2) scale(0.95 1)" font-size="10.0" text-anchor="middle" fill="#1a1a1a" >1545.4</text>
<text transform="translate(458.7 306.2) scale(0.95 1)" font-size="10.0" text-anchor="middle" fill="#1a1a1a" >1545.6</text>
<text transform="translate(502.5 306.2) scale(0.95 1)" font-size="10.0" text-anchor="middle" fill="#1a1a1a" >1545.8</text>
<text x="438.85" y="318.8" font-size="10" text-anchor="middle" fill="#1a1a1a" >Wavelength (nm)</text>
<line x1="532.5" y1="175.4" x2="532.5" y2="293.6" stroke="#d8d8d8" stroke-width="0.6" stroke-dasharray="1 1.5" />
<line x1="554.4" y1="175.4" x2="554.4" y2="293.6" stroke="#d8d8d8" stroke-width="0.6" stroke-dasharray="1 1.5" />
<line x1="576.3" y1="175.4" x2="576.3" y2="293.6" stroke="#d8d8d8" stroke-width="0.6" stroke-dasharray="1 1.5" />
<line x1="598.2" y1="175.4" x2="598.2" y2="293.6" stroke="#d8d8d8" stroke-width="0.6" stroke-dasharray="1 1.5" />
<line x1="620.1" y1="175.4" x2="620.1" y2="293.6" stroke="#d8d8d8" stroke-width="0.6" stroke-dasharray="1 1.5" />
<line x1="642" y1="175.4" x2="642" y2="293.6" stroke="#d8d8d8" stroke-width="0.6" stroke-dasharray="1 1.5" />
<line x1="663.9" y1="175.4" x2="663.9" y2="293.6" stroke="#d8d8d8" stroke-width="0.6" stroke-dasharray="1 1.5" />
<line x1="522.3" y1="278.57" x2="674" y2="278.57" stroke="#d8d8d8" stroke-width="0.6" stroke-dasharray="1 1.5" />
<line x1="522.3" y1="267.64" x2="674" y2="267.64" stroke="#d8d8d8" stroke-width="0.6" stroke-dasharray="1 1.5" />
<line x1="522.3" y1="256.71" x2="674" y2="256.71" stroke="#d8d8d8" stroke-width="0.6" stroke-dasharray="1 1.5" />
<line x1="522.3" y1="245.78" x2="674" y2="245.78" stroke="#d8d8d8" stroke-width="0.6" stroke-dasharray="1 1.5" />
<line x1="522.3" y1="234.85" x2="674" y2="234.85" stroke="#d8d8d8" stroke-width="0.6" stroke-dasharray="1 1.5" />
<line x1="522.3" y1="223.92" x2="674" y2="223.92" stroke="#d8d8d8" stroke-width="0.6" stroke-dasharray="1 1.5" />
<line x1="522.3" y1="212.99" x2="674" y2="212.99" stroke="#d8d8d8" stroke-width="0.6" stroke-dasharray="1 1.5" />
<line x1="522.3" y1="202.06" x2="674" y2="202.06" stroke="#d8d8d8" stroke-width="0.6" stroke-dasharray="1 1.5" />
<line x1="522.3" y1="191.13" x2="674" y2="191.13" stroke="#d8d8d8" stroke-width="0.6" stroke-dasharray="1 1.5" />
<line x1="522.3" y1="180.2" x2="674" y2="180.2" stroke="#d8d8d8" stroke-width="0.6" stroke-dasharray="1 1.5" />
<circle cx="522.5" cy="289.5" r="1.05" stroke="#4a98d8" stroke-width="0.85" fill="none"/>
<circle cx="524.69" cy="289.5" r="1.05" stroke="#4a98d8" stroke-width="0.85" fill="none"/>
<circle cx="526.88" cy="289.5" r="1.05" stroke="#4a98d8" stroke-width="0.85" fill="none"/>
<circle cx="529.07" cy="289.5" r="1.05" stroke="#4a98d8" stroke-width="0.85" fill="none"/>
<circle cx="531.26" cy="289.5" r="1.05" stroke="#4a98d8" stroke-width="0.85" fill="none"/>
<circle cx="533.45" cy="289.5" r="1.05" stroke="#4a98d8" stroke-width="0.85" fill="none"/>
<circle cx="535.64" cy="289.5" r="1.05" stroke="#4a98d8" stroke-width="0.85" fill="none"/>
<circle cx="537.83" cy="289.5" r="1.05" stroke="#4a98d8" stroke-width="0.85" fill="none"/>
<circle cx="540.02" cy="289.5" r="1.05" stroke="#4a98d8" stroke-width="0.85" fill="none"/>
<circle cx="542.21" cy="289.5" r="1.05" stroke="#4a98d8" stroke-width="0.85" fill="none"/>
<circle cx="544.4" cy="289.5" r="1.05" stroke="#4a98d8" stroke-width="0.85" fill="none"/>
<circle cx="546.59" cy="289.5" r="1.05" stroke="#4a98d8" stroke-width="0.85" fill="none"/>
<circle cx="548.78" cy="289.5" r="1.05" stroke="#4a98d8" stroke-width="0.85" fill="none"/>
<circle cx="550.97" cy="289.5" r="1.05" stroke="#4a98d8" stroke-width="0.85" fill="none"/>
<circle cx="553.16" cy="289.5" r="1.05" stroke="#4a98d8" stroke-width="0.85" fill="none"/>
<circle cx="555.35" cy="289.5" r="1.05" stroke="#4a98d8" stroke-width="0.85" fill="none"/>
<circle cx="557.54" cy="289.5" r="1.05" stroke="#4a98d8" stroke-width="0.85" fill="none"/>
<circle cx="559.73" cy="289.5" r="1.05" stroke="#4a98d8" stroke-width="0.85" fill="none"/>
<circle cx="561.92" cy="289.5" r="1.05" stroke="#4a98d8" stroke-width="0.85" fill="none"/>
<circle cx="564.11" cy="289.5" r="1.05" stroke="#4a98d8" stroke-width="0.85" fill="none"/>
<circle cx="566.3" cy="289.5" r="1.05" stroke="#4a98d8" stroke-width="0.85" fill="none"/>
<circle cx="568.49" cy="289.5" r="1.05" stroke="#4a98d8" stroke-width="0.85" fill="none"/>
<circle cx="570.68" cy="289.5" r="1.05" stroke="#4a98d8" stroke-width="0.85" fill="none"/>
<circle cx="572.87" cy="289.5" r="1.05" stroke="#4a98d8" stroke-width="0.85" fill="none"/>
<circle cx="575.06" cy="289.5" r="1.05" stroke="#4a98d8" stroke-width="0.85" fill="none"/>
<circle cx="577.25" cy="289.5" r="1.05" stroke="#4a98d8" stroke-width="0.85" fill="none"/>
<circle cx="579.44" cy="289.5" r="1.05" stroke="#4a98d8" stroke-width="0.85" fill="none"/>
<circle cx="581.63" cy="289.5" r="1.05" stroke="#4a98d8" stroke-width="0.85" fill="none"/>
<circle cx="583.82" cy="289.5" r="1.05" stroke="#4a98d8" stroke-width="0.85" fill="none"/>
<circle cx="586.01" cy="289.5" r="1.05" stroke="#4a98d8" stroke-width="0.85" fill="none"/>
<circle cx="594.77" cy="289.5" r="1.05" stroke="#4a98d8" stroke-width="0.85" fill="none"/>
<circle cx="596.96" cy="289.5" r="1.05" stroke="#4a98d8" stroke-width="0.85" fill="none"/>
<circle cx="599.15" cy="289.5" r="1.05" stroke="#4a98d8" stroke-width="0.85" fill="none"/>
<circle cx="601.34" cy="289.5" r="1.05" stroke="#4a98d8" stroke-width="0.85" fill="none"/>
<circle cx="603.53" cy="289.5" r="1.05" stroke="#4a98d8" stroke-width="0.85" fill="none"/>
<circle cx="605.72" cy="289.5" r="1.05" stroke="#4a98d8" stroke-width="0.85" fill="none"/>
<circle cx="607.91" cy="289.5" r="1.05" stroke="#4a98d8" stroke-width="0.85" fill="none"/>
<circle cx="610.1" cy="289.5" r="1.05" stroke="#4a98d8" stroke-width="0.85" fill="none"/>
<circle cx="612.29" cy="289.5" r="1.05" stroke="#4a98d8" stroke-width="0.85" fill="none"/>
<circle cx="614.48" cy="289.5" r="1.05" stroke="#4a98d8" stroke-width="0.85" fill="none"/>
<circle cx="616.67" cy="289.5" r="1.05" stroke="#4a98d8" stroke-width="0.85" fill="none"/>
<circle cx="618.86" cy="289.5" r="1.05" stroke="#4a98d8" stroke-width="0.85" fill="none"/>
<circle cx="621.05" cy="289.5" r="1.05" stroke="#4a98d8" stroke-width="0.85" fill="none"/>
<circle cx="623.24" cy="289.5" r="1.05" stroke="#4a98d8" stroke-width="0.85" fill="none"/>
<circle cx="625.43" cy="289.5" r="1.05" stroke="#4a98d8" stroke-width="0.85" fill="none"/>
<circle cx="627.62" cy="289.5" r="1.05" stroke="#4a98d8" stroke-width="0.85" fill="none"/>
<circle cx="629.81" cy="289.5" r="1.05" stroke="#4a98d8" stroke-width="0.85" fill="none"/>
<circle cx="632" cy="289.5" r="1.05" stroke="#4a98d8" stroke-width="0.85" fill="none"/>
<circle cx="634.19" cy="289.5" r="1.05" stroke="#4a98d8" stroke-width="0.85" fill="none"/>
<circle cx="636.38" cy="289.5" r="1.05" stroke="#4a98d8" stroke-width="0.85" fill="none"/>
<circle cx="638.57" cy="289.5" r="1.05" stroke="#4a98d8" stroke-width="0.85" fill="none"/>
<circle cx="640.76" cy="289.5" r="1.05" stroke="#4a98d8" stroke-width="0.85" fill="none"/>
<circle cx="642.95" cy="289.5" r="1.05" stroke="#4a98d8" stroke-width="0.85" fill="none"/>
<circle cx="645.14" cy="289.5" r="1.05" stroke="#4a98d8" stroke-width="0.85" fill="none"/>
<circle cx="647.33" cy="289.5" r="1.05" stroke="#4a98d8" stroke-width="0.85" fill="none"/>
<circle cx="649.52" cy="289.5" r="1.05" stroke="#4a98d8" stroke-width="0.85" fill="none"/>
<circle cx="651.71" cy="289.5" r="1.05" stroke="#4a98d8" stroke-width="0.85" fill="none"/>
<circle cx="653.9" cy="289.5" r="1.05" stroke="#4a98d8" stroke-width="0.85" fill="none"/>
<circle cx="656.09" cy="289.5" r="1.05" stroke="#4a98d8" stroke-width="0.85" fill="none"/>
<circle cx="658.28" cy="289.5" r="1.05" stroke="#4a98d8" stroke-width="0.85" fill="none"/>
<circle cx="660.47" cy="289.5" r="1.05" stroke="#4a98d8" stroke-width="0.85" fill="none"/>
<circle cx="662.66" cy="289.5" r="1.05" stroke="#4a98d8" stroke-width="0.85" fill="none"/>
<circle cx="664.85" cy="289.5" r="1.05" stroke="#4a98d8" stroke-width="0.85" fill="none"/>
<circle cx="667.04" cy="289.5" r="1.05" stroke="#4a98d8" stroke-width="0.85" fill="none"/>
<circle cx="669.23" cy="289.5" r="1.05" stroke="#4a98d8" stroke-width="0.85" fill="none"/>
<circle cx="671.42" cy="289.5" r="1.05" stroke="#4a98d8" stroke-width="0.85" fill="none"/>
<circle cx="673.61" cy="289.5" r="1.05" stroke="#4a98d8" stroke-width="0.85" fill="none"/>
<circle cx="591.4" cy="180.2" r="1.4" stroke="#4a98d8" stroke-width="0.95" fill="none"/>
<circle cx="589.3" cy="200.97" r="1.4" stroke="#4a98d8" stroke-width="0.95" fill="none"/>
<line x1="589.5" y1="197.69" x2="589.5" y2="289.5" stroke="#e8413c" stroke-width="1.2" stroke-dasharray="4.2 4.7" />
<line x1="591.6" y1="180.2" x2="591.6" y2="289.5" stroke="#e8413c" stroke-width="1.2" stroke-dasharray="4.2 4.7" />
<text x="600.9" y="194.26" font-size="8.5" text-anchor="start" fill="#3a3a3a" font-style="italic" >&#916;&#955; =10 pm</text>
<text x="602.4" y="274.56" font-size="8.5" text-anchor="start" fill="#3a3a3a" font-style="italic" >&#949; = 0.030</text>
<rect x="521.3" y="174.4" width="153.7" height="120.2" stroke="#333333" stroke-width="1.1" fill="none"/>
<line x1="521.3" y1="289.5" x2="524.8" y2="289.5" stroke="#333333" stroke-width="1.1" />
<line x1="521.3" y1="278.57" x2="523.3" y2="278.57" stroke="#333333" stroke-width="1.1" />
<line x1="521.3" y1="267.64" x2="524.8" y2="267.64" stroke="#333333" stroke-width="1.1" />
<line x1="521.3" y1="256.71" x2="523.3" y2="256.71" stroke="#333333" stroke-width="1.1" />
<line x1="521.3" y1="245.78" x2="524.8" y2="245.78" stroke="#333333" stroke-width="1.1" />
<line x1="521.3" y1="234.85" x2="523.3" y2="234.85" stroke="#333333" stroke-width="1.1" />
<line x1="521.3" y1="223.92" x2="524.8" y2="223.92" stroke="#333333" stroke-width="1.1" />
<line x1="521.3" y1="212.99" x2="523.3" y2="212.99" stroke="#333333" stroke-width="1.1" />
<line x1="521.3" y1="202.06" x2="524.8" y2="202.06" stroke="#333333" stroke-width="1.1" />
<line x1="521.3" y1="191.13" x2="523.3" y2="191.13" stroke="#333333" stroke-width="1.1" />
<line x1="521.3" y1="180.2" x2="524.8" y2="180.2" stroke="#333333" stroke-width="1.1" />
<line x1="532.5" y1="294.6" x2="532.5" y2="291.1" stroke="#333333" stroke-width="1.1" />
<line x1="554.4" y1="294.6" x2="554.4" y2="292.6" stroke="#333333" stroke-width="1.1" />
<line x1="576.3" y1="294.6" x2="576.3" y2="291.1" stroke="#333333" stroke-width="1.1" />
<line x1="598.2" y1="294.6" x2="598.2" y2="292.6" stroke="#333333" stroke-width="1.1" />
<line x1="620.1" y1="294.6" x2="620.1" y2="291.1" stroke="#333333" stroke-width="1.1" />
<line x1="642" y1="294.6" x2="642" y2="292.6" stroke="#333333" stroke-width="1.1" />
<line x1="663.9" y1="294.6" x2="663.9" y2="291.1" stroke="#333333" stroke-width="1.1" />
<text transform="translate(532.5 306.2) scale(0.95 1)" font-size="10.0" text-anchor="middle" fill="#1a1a1a" >1545.2</text>
<text transform="translate(576.3 306.2) scale(0.95 1)" font-size="10.0" text-anchor="middle" fill="#1a1a1a" >1545.4</text>
<text transform="translate(620.1 306.2) scale(0.95 1)" font-size="10.0" text-anchor="middle" fill="#1a1a1a" >1545.6</text>
<text transform="translate(663.9 306.2) scale(0.95 1)" font-size="10.0" text-anchor="middle" fill="#1a1a1a" >1545.8</text>
<text x="600.25" y="318.8" font-size="10" text-anchor="middle" fill="#1a1a1a" >Wavelength (nm)</text>
<text transform="translate(32.6 293.1) scale(0.95 1)" font-size="10.0" text-anchor="end" fill="#1a1a1a" >0.0</text>
<text transform="translate(32.6 271.24) scale(0.95 1)" font-size="10.0" text-anchor="end" fill="#1a1a1a" >0.2</text>
<text transform="translate(32.6 249.38) scale(0.95 1)" font-size="10.0" text-anchor="end" fill="#1a1a1a" >0.4</text>
<text transform="translate(32.6 227.52) scale(0.95 1)" font-size="10.0" text-anchor="end" fill="#1a1a1a" >0.6</text>
<text transform="translate(32.6 205.66) scale(0.95 1)" font-size="10.0" text-anchor="end" fill="#1a1a1a" >0.8</text>
<text transform="translate(32.6 183.8) scale(0.95 1)" font-size="10.0" text-anchor="end" fill="#1a1a1a" >1.0</text>
<circle cx="46" cy="184.3" r="1.7" stroke="#4a98d8" stroke-width="1.0" fill="none"/>
<circle cx="54.9" cy="184.3" r="1.7" stroke="#4a98d8" stroke-width="1.0" fill="none"/>
<text x="61.6" y="187.25" font-size="8.2" text-anchor="start" fill="#3a3a3a" font-style="italic" >Reconstruction</text>
<line x1="43.9" y1="194.2" x2="57.4" y2="194.2" stroke="#e8413c" stroke-width="1.2" stroke-dasharray="5 3.5" />
<text x="61.6" y="197.15" font-size="8.2" text-anchor="start" fill="#3a3a3a" font-style="italic" >Reference</text>
<text transform="translate(13.8 238.5) rotate(-90)" x="0" y="0" font-size="10" text-anchor="middle" fill="#1a1a1a">Normalized intensity</text>
<text x="-0.2" y="178" font-size="16" text-anchor="start" fill="#000" font-weight="bold" >b</text>
<line x1="62.25" y1="329.6" x2="62.25" y2="459.2" stroke="#d8d8d8" stroke-width="0.6" stroke-dasharray="1 1.5" />
<line x1="87.9" y1="329.6" x2="87.9" y2="459.2" stroke="#d8d8d8" stroke-width="0.6" stroke-dasharray="1 1.5" />
<line x1="113.55" y1="329.6" x2="113.55" y2="459.2" stroke="#d8d8d8" stroke-width="0.6" stroke-dasharray="1 1.5" />
<line x1="139.2" y1="329.6" x2="139.2" y2="459.2" stroke="#d8d8d8" stroke-width="0.6" stroke-dasharray="1 1.5" />
<line x1="164.85" y1="329.6" x2="164.85" y2="459.2" stroke="#d8d8d8" stroke-width="0.6" stroke-dasharray="1 1.5" />
<line x1="190.5" y1="329.6" x2="190.5" y2="459.2" stroke="#d8d8d8" stroke-width="0.6" stroke-dasharray="1 1.5" />
<line x1="216.15" y1="329.6" x2="216.15" y2="459.2" stroke="#d8d8d8" stroke-width="0.6" stroke-dasharray="1 1.5" />
<line x1="241.8" y1="329.6" x2="241.8" y2="459.2" stroke="#d8d8d8" stroke-width="0.6" stroke-dasharray="1 1.5" />
<line x1="267.45" y1="329.6" x2="267.45" y2="459.2" stroke="#d8d8d8" stroke-width="0.6" stroke-dasharray="1 1.5" />
<line x1="293.1" y1="329.6" x2="293.1" y2="459.2" stroke="#d8d8d8" stroke-width="0.6" stroke-dasharray="1 1.5" />
<line x1="318.75" y1="329.6" x2="318.75" y2="459.2" stroke="#d8d8d8" stroke-width="0.6" stroke-dasharray="1 1.5" />
<line x1="37.6" y1="431.55" x2="342.8" y2="431.55" stroke="#d8d8d8" stroke-width="0.6" stroke-dasharray="1 1.5" />
<line x1="37.6" y1="407.1" x2="342.8" y2="407.1" stroke="#d8d8d8" stroke-width="0.6" stroke-dasharray="1 1.5" />
<line x1="37.6" y1="382.65" x2="342.8" y2="382.65" stroke="#d8d8d8" stroke-width="0.6" stroke-dasharray="1 1.5" />
<line x1="37.6" y1="358.2" x2="342.8" y2="358.2" stroke="#d8d8d8" stroke-width="0.6" stroke-dasharray="1 1.5" />
<line x1="37.6" y1="333.75" x2="342.8" y2="333.75" stroke="#d8d8d8" stroke-width="0.6" stroke-dasharray="1 1.5" />
<line x1="37.4" y1="456" x2="343" y2="456" stroke="#3d8bd3" stroke-width="3.4" />
<rect x="36.6" y="328.6" width="307.2" height="131.6" stroke="#333333" stroke-width="1.1" fill="none"/>
<line x1="36.6" y1="456" x2="40.6" y2="456" stroke="#333333" stroke-width="1.1" />
<line x1="36.6" y1="431.55" x2="38.8" y2="431.55" stroke="#333333" stroke-width="1.1" />
<line x1="36.6" y1="407.1" x2="40.6" y2="407.1" stroke="#333333" stroke-width="1.1" />
<line x1="36.6" y1="382.65" x2="38.8" y2="382.65" stroke="#333333" stroke-width="1.1" />
<line x1="36.6" y1="358.2" x2="40.6" y2="358.2" stroke="#333333" stroke-width="1.1" />
<line x1="36.6" y1="333.75" x2="38.8" y2="333.75" stroke="#333333" stroke-width="1.1" />
<text transform="translate(33.4 460.9) scale(0.95 1)" font-size="10.0" text-anchor="end" fill="#1a1a1a" >0.0</text>
<text transform="translate(33.4 412) scale(0.95 1)" font-size="10.0" text-anchor="end" fill="#1a1a1a" >0.5</text>
<text transform="translate(33.4 363.1) scale(0.95 1)" font-size="10.0" text-anchor="end" fill="#1a1a1a" >1.0</text>
<line x1="62.25" y1="460.2" x2="62.25" y2="456.2" stroke="#333333" stroke-width="1.1" />
<line x1="87.9" y1="460.2" x2="87.9" y2="458" stroke="#333333" stroke-width="1.1" />
<line x1="113.55" y1="460.2" x2="113.55" y2="456.2" stroke="#333333" stroke-width="1.1" />
<line x1="139.2" y1="460.2" x2="139.2" y2="458" stroke="#333333" stroke-width="1.1" />
<line x1="164.85" y1="460.2" x2="164.85" y2="456.2" stroke="#333333" stroke-width="1.1" />
<line x1="190.5" y1="460.2" x2="190.5" y2="458" stroke="#333333" stroke-width="1.1" />
<line x1="216.15" y1="460.2" x2="216.15" y2="456.2" stroke="#333333" stroke-width="1.1" />
<line x1="241.8" y1="460.2" x2="241.8" y2="458" stroke="#333333" stroke-width="1.1" />
<line x1="267.45" y1="460.2" x2="267.45" y2="456.2" stroke="#333333" stroke-width="1.1" />
<line x1="293.1" y1="460.2" x2="293.1" y2="458" stroke="#333333" stroke-width="1.1" />
<line x1="318.75" y1="460.2" x2="318.75" y2="456.2" stroke="#333333" stroke-width="1.1" />
<text transform="translate(62.25 471.7) scale(0.95 1)" font-size="10.0" text-anchor="middle" fill="#1a1a1a" >1510</text>
<text transform="translate(113.55 471.7) scale(0.95 1)" font-size="10.0" text-anchor="middle" fill="#1a1a1a" >1520</text>
<text transform="translate(164.85 471.7) scale(0.95 1)" font-size="10.0" text-anchor="middle" fill="#1a1a1a" >1530</text>
<text transform="translate(216.15 471.7) scale(0.95 1)" font-size="10.0" text-anchor="middle" fill="#1a1a1a" >1540</text>
<text transform="translate(267.45 471.7) scale(0.95 1)" font-size="10.0" text-anchor="middle" fill="#1a1a1a" >1550</text>
<text transform="translate(318.75 471.7) scale(0.95 1)" font-size="10.0" text-anchor="middle" fill="#1a1a1a" >1560</text>
<text x="187.8" y="483.3" font-size="10" text-anchor="middle" fill="#1a1a1a" >Wavelength (nm)</text>
<line x1="377.83" y1="329.6" x2="377.83" y2="459.2" stroke="#d8d8d8" stroke-width="0.6" stroke-dasharray="1 1.5" />
<line x1="417.98" y1="329.6" x2="417.98" y2="459.2" stroke="#d8d8d8" stroke-width="0.6" stroke-dasharray="1 1.5" />
<line x1="458.13" y1="329.6" x2="458.13" y2="459.2" stroke="#d8d8d8" stroke-width="0.6" stroke-dasharray="1 1.5" />
<line x1="498.28" y1="329.6" x2="498.28" y2="459.2" stroke="#d8d8d8" stroke-width="0.6" stroke-dasharray="1 1.5" />
<line x1="538.43" y1="329.6" x2="538.43" y2="459.2" stroke="#d8d8d8" stroke-width="0.6" stroke-dasharray="1 1.5" />
<line x1="578.58" y1="329.6" x2="578.58" y2="459.2" stroke="#d8d8d8" stroke-width="0.6" stroke-dasharray="1 1.5" />
<line x1="618.73" y1="329.6" x2="618.73" y2="459.2" stroke="#d8d8d8" stroke-width="0.6" stroke-dasharray="1 1.5" />
<line x1="658.88" y1="329.6" x2="658.88" y2="459.2" stroke="#d8d8d8" stroke-width="0.6" stroke-dasharray="1 1.5" />
<line x1="370.8" y1="431.55" x2="674" y2="431.55" stroke="#d8d8d8" stroke-width="0.6" stroke-dasharray="1 1.5" />
<line x1="370.8" y1="407.1" x2="674" y2="407.1" stroke="#d8d8d8" stroke-width="0.6" stroke-dasharray="1 1.5" />
<line x1="370.8" y1="382.65" x2="674" y2="382.65" stroke="#d8d8d8" stroke-width="0.6" stroke-dasharray="1 1.5" />
<line x1="370.8" y1="358.2" x2="674" y2="358.2" stroke="#d8d8d8" stroke-width="0.6" stroke-dasharray="1 1.5" />
<line x1="370.8" y1="333.75" x2="674" y2="333.75" stroke="#d8d8d8" stroke-width="0.6" stroke-dasharray="1 1.5" />
<line x1="370.6" y1="456" x2="674.2" y2="456" stroke="#3d8bd3" stroke-width="3.4" />
<rect x="369.8" y="328.6" width="305.2" height="131.6" stroke="#333333" stroke-width="1.1" fill="none"/>
<line x1="369.8" y1="456" x2="373.8" y2="456" stroke="#333333" stroke-width="1.1" />
<line x1="369.8" y1="431.55" x2="372" y2="431.55" stroke="#333333" stroke-width="1.1" />
<line x1="369.8" y1="407.1" x2="373.8" y2="407.1" stroke="#333333" stroke-width="1.1" />
<line x1="369.8" y1="382.65" x2="372" y2="382.65" stroke="#333333" stroke-width="1.1" />
<line x1="369.8" y1="358.2" x2="373.8" y2="358.2" stroke="#333333" stroke-width="1.1" />
<line x1="369.8" y1="333.75" x2="372" y2="333.75" stroke="#333333" stroke-width="1.1" />
<text transform="translate(366.6 460.9) scale(0.95 1)" font-size="10.0" text-anchor="end" fill="#1a1a1a" >0.0</text>
<text transform="translate(366.6 412) scale(0.95 1)" font-size="10.0" text-anchor="end" fill="#1a1a1a" >0.5</text>
<text transform="translate(366.6 363.1) scale(0.95 1)" font-size="10.0" text-anchor="end" fill="#1a1a1a" >1.0</text>
<line x1="377.83" y1="460.2" x2="377.83" y2="458" stroke="#333333" stroke-width="1.1" />
<line x1="417.98" y1="460.2" x2="417.98" y2="456.2" stroke="#333333" stroke-width="1.1" />
<line x1="458.13" y1="460.2" x2="458.13" y2="458" stroke="#333333" stroke-width="1.1" />
<line x1="498.28" y1="460.2" x2="498.28" y2="456.2" stroke="#333333" stroke-width="1.1" />
<line x1="538.43" y1="460.2" x2="538.43" y2="458" stroke="#333333" stroke-width="1.1" />
<line x1="578.58" y1="460.2" x2="578.58" y2="456.2" stroke="#333333" stroke-width="1.1" />
<line x1="618.73" y1="460.2" x2="618.73" y2="458" stroke="#333333" stroke-width="1.1" />
<line x1="658.88" y1="460.2" x2="658.88" y2="456.2" stroke="#333333" stroke-width="1.1" />
<text transform="translate(417.98 471.7) scale(0.95 1)" font-size="10.0" text-anchor="middle" fill="#1a1a1a" >1540</text>
<text transform="translate(498.28 471.7) scale(0.95 1)" font-size="10.0" text-anchor="middle" fill="#1a1a1a" >1545</text>
<text transform="translate(578.58 471.7) scale(0.95 1)" font-size="10.0" text-anchor="middle" fill="#1a1a1a" >1550</text>
<text transform="translate(658.88 471.7) scale(0.95 1)" font-size="10.0" text-anchor="middle" fill="#1a1a1a" >1555</text>
<text x="532.8" y="483.3" font-size="10" text-anchor="middle" fill="#1a1a1a" >Wavelength (nm)</text>
<circle cx="152.2" cy="347.1" r="1.6" stroke="#4a98d8" stroke-width="1.0" fill="none"/>
<circle cx="152.2" cy="448" r="1.6" stroke="#4a98d8" stroke-width="1.0" fill="none"/>
<line x1="152.2" y1="340.4" x2="152.2" y2="456" stroke="#ee5c58" stroke-width="1.2" stroke-dasharray="2.2 2.1" />
<circle cx="243.5" cy="353.1" r="1.6" stroke="#4a98d8" stroke-width="1.0" fill="none"/>
<circle cx="243.5" cy="369.1" r="1.6" stroke="#4a98d8" stroke-width="1.0" fill="none"/>
<line x1="243.5" y1="361" x2="243.5" y2="456" stroke="#ee5c58" stroke-width="1.2" stroke-dasharray="2.2 2.1" />
<text x="156.6" y="350.16" font-size="8.5" text-anchor="start" fill="#3a3a3a" font-style="italic" >1527.61 nm</text>
<text x="198.7" y="367.26" font-size="8.5" text-anchor="start" fill="#3a3a3a" font-style="italic" >&#916;&#955; =10 pm</text>
<text x="268.9" y="442.06" font-size="8.5" text-anchor="start" fill="#3a3a3a" font-style="italic" >&#949; = 0.074</text>
<circle cx="505.7" cy="352.7" r="1.6" stroke="#4a98d8" stroke-width="1.0" fill="none"/>
<circle cx="505.7" cy="371.2" r="1.6" stroke="#4a98d8" stroke-width="1.0" fill="none"/>
<circle cx="505.7" cy="451.5" r="1.6" stroke="#4a98d8" stroke-width="1.0" fill="none"/>
<line x1="505.7" y1="365.5" x2="505.7" y2="456" stroke="#ee5c58" stroke-width="1.2" stroke-dasharray="2.2 2.1" />
<circle cx="522.7" cy="335.7" r="1.6" stroke="#4a98d8" stroke-width="1.0" fill="none"/>
<circle cx="522.7" cy="452.4" r="1.6" stroke="#4a98d8" stroke-width="1.0" fill="none"/>
<line x1="522.7" y1="334.5" x2="522.7" y2="456" stroke="#ee5c58" stroke-width="1.2" stroke-dasharray="2.2 2.1" />
<text x="526.4" y="349.26" font-size="8.5" text-anchor="start" fill="#3a3a3a" font-style="italic" >1546.52 nm</text>
<text x="460.8" y="367.86" font-size="8.5" text-anchor="start" fill="#3a3a3a" font-style="italic" >&#916;&#955; =10 pm</text>
<text x="608.1" y="441.16" font-size="8.5" text-anchor="start" fill="#3a3a3a" font-style="italic" >&#949; = 0.060</text>
<rect x="262.6" y="332.3" width="78.6" height="56.9" fill="#fff" stroke="none"/>
<line x1="269.7" y1="333.3" x2="269.7" y2="388.2" stroke="#e0e0e0" stroke-width="0.6" stroke-dasharray="1 1.5" />
<line x1="287.3" y1="333.3" x2="287.3" y2="388.2" stroke="#e0e0e0" stroke-width="0.6" stroke-dasharray="1 1.5" />
<line x1="304.9" y1="333.3" x2="304.9" y2="388.2" stroke="#e0e0e0" stroke-width="0.6" stroke-dasharray="1 1.5" />
<line x1="322.5" y1="333.3" x2="322.5" y2="388.2" stroke="#e0e0e0" stroke-width="0.6" stroke-dasharray="1 1.5" />
<line x1="340.1" y1="333.3" x2="340.1" y2="388.2" stroke="#e0e0e0" stroke-width="0.6" stroke-dasharray="1 1.5" />
<line x1="263.6" y1="375" x2="340.2" y2="375" stroke="#e0e0e0" stroke-width="0.6" stroke-dasharray="1 1.5" />
<line x1="263.6" y1="363.1" x2="340.2" y2="363.1" stroke="#e0e0e0" stroke-width="0.6" stroke-dasharray="1 1.5" />
<line x1="263.6" y1="351.2" x2="340.2" y2="351.2" stroke="#e0e0e0" stroke-width="0.6" stroke-dasharray="1 1.5" />
<line x1="263.6" y1="339.3" x2="340.2" y2="339.3" stroke="#e0e0e0" stroke-width="0.6" stroke-dasharray="1 1.5" />
<circle cx="263.8" cy="386.9" r="0.95" stroke="#4a98d8" stroke-width="0.75" fill="none"/>
<circle cx="265.8" cy="386.9" r="0.95" stroke="#4a98d8" stroke-width="0.75" fill="none"/>
<circle cx="267.8" cy="386.9" r="0.95" stroke="#4a98d8" stroke-width="0.75" fill="none"/>
<circle cx="269.8" cy="386.9" r="0.95" stroke="#4a98d8" stroke-width="0.75" fill="none"/>
<circle cx="271.8" cy="386.9" r="0.95" stroke="#4a98d8" stroke-width="0.75" fill="none"/>
<circle cx="273.8" cy="386.9" r="0.95" stroke="#4a98d8" stroke-width="0.75" fill="none"/>
<circle cx="275.8" cy="386.9" r="0.95" stroke="#4a98d8" stroke-width="0.75" fill="none"/>
<circle cx="277.8" cy="386.9" r="0.95" stroke="#4a98d8" stroke-width="0.75" fill="none"/>
<circle cx="279.8" cy="386.9" r="0.95" stroke="#4a98d8" stroke-width="0.75" fill="none"/>
<circle cx="281.8" cy="386.9" r="0.95" stroke="#4a98d8" stroke-width="0.75" fill="none"/>
<circle cx="283.8" cy="386.9" r="0.95" stroke="#4a98d8" stroke-width="0.75" fill="none"/>
<circle cx="285.8" cy="386.9" r="0.95" stroke="#4a98d8" stroke-width="0.75" fill="none"/>
<circle cx="287.8" cy="386.9" r="0.95" stroke="#4a98d8" stroke-width="0.75" fill="none"/>
<circle cx="289.8" cy="386.9" r="0.95" stroke="#4a98d8" stroke-width="0.75" fill="none"/>
<circle cx="291.8" cy="386.9" r="0.95" stroke="#4a98d8" stroke-width="0.75" fill="none"/>
<circle cx="293.8" cy="386.9" r="0.95" stroke="#4a98d8" stroke-width="0.75" fill="none"/>
<circle cx="295.8" cy="386.9" r="0.95" stroke="#4a98d8" stroke-width="0.75" fill="none"/>
<circle cx="297.8" cy="386.9" r="0.95" stroke="#4a98d8" stroke-width="0.75" fill="none"/>
<circle cx="301.8" cy="386.9" r="0.95" stroke="#4a98d8" stroke-width="0.75" fill="none"/>
<circle cx="303.8" cy="386.9" r="0.95" stroke="#4a98d8" stroke-width="0.75" fill="none"/>
<circle cx="305.8" cy="386.9" r="0.95" stroke="#4a98d8" stroke-width="0.75" fill="none"/>
<circle cx="307.8" cy="386.9" r="0.95" stroke="#4a98d8" stroke-width="0.75" fill="none"/>
<circle cx="309.8" cy="386.9" r="0.95" stroke="#4a98d8" stroke-width="0.75" fill="none"/>
<circle cx="311.8" cy="386.9" r="0.95" stroke="#4a98d8" stroke-width="0.75" fill="none"/>
<circle cx="313.8" cy="386.9" r="0.95" stroke="#4a98d8" stroke-width="0.75" fill="none"/>
<circle cx="315.8" cy="386.9" r="0.95" stroke="#4a98d8" stroke-width="0.75" fill="none"/>
<circle cx="317.8" cy="386.9" r="0.95" stroke="#4a98d8" stroke-width="0.75" fill="none"/>
<circle cx="319.8" cy="386.9" r="0.95" stroke="#4a98d8" stroke-width="0.75" fill="none"/>
<circle cx="321.8" cy="386.9" r="0.95" stroke="#4a98d8" stroke-width="0.75" fill="none"/>
<circle cx="323.8" cy="386.9" r="0.95" stroke="#4a98d8" stroke-width="0.75" fill="none"/>
<circle cx="325.8" cy="386.9" r="0.95" stroke="#4a98d8" stroke-width="0.75" fill="none"/>
<circle cx="327.8" cy="386.9" r="0.95" stroke="#4a98d8" stroke-width="0.75" fill="none"/>
<circle cx="329.8" cy="386.9" r="0.95" stroke="#4a98d8" stroke-width="0.75" fill="none"/>
<circle cx="331.8" cy="386.9" r="0.95" stroke="#4a98d8" stroke-width="0.75" fill="none"/>
<circle cx="333.8" cy="386.9" r="0.95" stroke="#4a98d8" stroke-width="0.75" fill="none"/>
<circle cx="335.8" cy="386.9" r="0.95" stroke="#4a98d8" stroke-width="0.75" fill="none"/>
<circle cx="337.8" cy="386.9" r="0.95" stroke="#4a98d8" stroke-width="0.75" fill="none"/>
<circle cx="339.8" cy="386.9" r="0.95" stroke="#4a98d8" stroke-width="0.75" fill="none"/>
<circle cx="299.4" cy="336.92" r="1.3" stroke="#4a98d8" stroke-width="0.9" fill="none"/>
<circle cx="300.9" cy="345.01" r="1.3" stroke="#4b74b8" stroke-width="0.9" fill="#4b74b8"/>
<line x1="299.1" y1="342.63" x2="299.1" y2="386.9" stroke="#f07c7c" stroke-width="0.8" stroke-dasharray="2.4 3.4" />
<line x1="300.3" y1="342.63" x2="300.3" y2="386.9" stroke="#f07c7c" stroke-width="0.8" stroke-dasharray="2.4 3.4" />
<rect x="262.6" y="332.3" width="78.6" height="56.9" stroke="#444" stroke-width="1.0" fill="none"/>
<line x1="262.6" y1="386.9" x2="265.1" y2="386.9" stroke="#333333" stroke-width="0.9" />
<text transform="translate(260.1 389.96) scale(0.95 1)" font-size="8.49" text-anchor="end" fill="#1a1a1a" >0.0</text>
<line x1="262.6" y1="363.1" x2="265.1" y2="363.1" stroke="#333333" stroke-width="0.9" />
<text transform="translate(260.1 366.16) scale(0.95 1)" font-size="8.49" text-anchor="end" fill="#1a1a1a" >0.5</text>
<line x1="262.6" y1="339.3" x2="265.1" y2="339.3" stroke="#333333" stroke-width="0.9" />
<text transform="translate(260.1 342.36) scale(0.95 1)" font-size="8.49" text-anchor="end" fill="#1a1a1a" >1.0</text>
<line x1="287.3" y1="389.2" x2="287.3" y2="386.7" stroke="#333333" stroke-width="0.9" />
<text transform="translate(287.3 398.24) scale(0.95 1)" font-size="8.17" text-anchor="middle" fill="#1a1a1a" >1545.4</text>
<line x1="322.5" y1="389.2" x2="322.5" y2="386.7" stroke="#333333" stroke-width="0.9" />
<text transform="translate(322.5 398.24) scale(0.95 1)" font-size="8.17" text-anchor="middle" fill="#1a1a1a" >1545.6</text>
<rect x="593.9" y="332.2" width="78.3" height="56.7" fill="#fff" stroke="none"/>
<line x1="601.35" y1="333.2" x2="601.35" y2="387.9" stroke="#e0e0e0" stroke-width="0.6" stroke-dasharray="1 1.5" />
<line x1="619" y1="333.2" x2="619" y2="387.9" stroke="#e0e0e0" stroke-width="0.6" stroke-dasharray="1 1.5" />
<line x1="636.65" y1="333.2" x2="636.65" y2="387.9" stroke="#e0e0e0" stroke-width="0.6" stroke-dasharray="1 1.5" />
<line x1="654.3" y1="333.2" x2="654.3" y2="387.9" stroke="#e0e0e0" stroke-width="0.6" stroke-dasharray="1 1.5" />
<line x1="671.95" y1="333.2" x2="671.95" y2="387.9" stroke="#e0e0e0" stroke-width="0.6" stroke-dasharray="1 1.5" />
<line x1="594.9" y1="375.25" x2="671.2" y2="375.25" stroke="#e0e0e0" stroke-width="0.6" stroke-dasharray="1 1.5" />
<line x1="594.9" y1="363.3" x2="671.2" y2="363.3" stroke="#e0e0e0" stroke-width="0.6" stroke-dasharray="1 1.5" />
<line x1="594.9" y1="351.35" x2="671.2" y2="351.35" stroke="#e0e0e0" stroke-width="0.6" stroke-dasharray="1 1.5" />
<line x1="594.9" y1="339.4" x2="671.2" y2="339.4" stroke="#e0e0e0" stroke-width="0.6" stroke-dasharray="1 1.5" />
<circle cx="595.1" cy="387.2" r="0.95" stroke="#4a98d8" stroke-width="0.75" fill="none"/>
<circle cx="597.1" cy="387.2" r="0.95" stroke="#4a98d8" stroke-width="0.75" fill="none"/>
<circle cx="599.1" cy="387.2" r="0.95" stroke="#4a98d8" stroke-width="0.75" fill="none"/>
<circle cx="601.1" cy="387.2" r="0.95" stroke="#4a98d8" stroke-width="0.75" fill="none"/>
<circle cx="603.1" cy="387.2" r="0.95" stroke="#4a98d8" stroke-width="0.75" fill="none"/>
<circle cx="605.1" cy="387.2" r="0.95" stroke="#4a98d8" stroke-width="0.75" fill="none"/>
<circle cx="607.1" cy="387.2" r="0.95" stroke="#4a98d8" stroke-width="0.75" fill="none"/>
<circle cx="609.1" cy="387.2" r="0.95" stroke="#4a98d8" stroke-width="0.75" fill="none"/>
<circle cx="611.1" cy="387.2" r="0.95" stroke="#4a98d8" stroke-width="0.75" fill="none"/>
<circle cx="613.1" cy="387.2" r="0.95" stroke="#4a98d8" stroke-width="0.75" fill="none"/>
<circle cx="615.1" cy="387.2" r="0.95" stroke="#4a98d8" stroke-width="0.75" fill="none"/>
<circle cx="617.1" cy="387.2" r="0.95" stroke="#4a98d8" stroke-width="0.75" fill="none"/>
<circle cx="619.1" cy="387.2" r="0.95" stroke="#4a98d8" stroke-width="0.75" fill="none"/>
<circle cx="621.1" cy="387.2" r="0.95" stroke="#4a98d8" stroke-width="0.75" fill="none"/>
<circle cx="623.1" cy="387.2" r="0.95" stroke="#4a98d8" stroke-width="0.75" fill="none"/>
<circle cx="625.1" cy="387.2" r="0.95" stroke="#4a98d8" stroke-width="0.75" fill="none"/>
<circle cx="627.1" cy="387.2" r="0.95" stroke="#4a98d8" stroke-width="0.75" fill="none"/>
<circle cx="633.1" cy="387.2" r="0.95" stroke="#4a98d8" stroke-width="0.75" fill="none"/>
<circle cx="635.1" cy="387.2" r="0.95" stroke="#4a98d8" stroke-width="0.75" fill="none"/>
<circle cx="637.1" cy="387.2" r="0.95" stroke="#4a98d8" stroke-width="0.75" fill="none"/>
<circle cx="639.1" cy="387.2" r="0.95" stroke="#4a98d8" stroke-width="0.75" fill="none"/>
<circle cx="641.1" cy="387.2" r="0.95" stroke="#4a98d8" stroke-width="0.75" fill="none"/>
<circle cx="643.1" cy="387.2" r="0.95" stroke="#4a98d8" stroke-width="0.75" fill="none"/>
<circle cx="645.1" cy="387.2" r="0.95" stroke="#4a98d8" stroke-width="0.75" fill="none"/>
<circle cx="647.1" cy="387.2" r="0.95" stroke="#4a98d8" stroke-width="0.75" fill="none"/>
<circle cx="649.1" cy="387.2" r="0.95" stroke="#4a98d8" stroke-width="0.75" fill="none"/>
<circle cx="651.1" cy="387.2" r="0.95" stroke="#4a98d8" stroke-width="0.75" fill="none"/>
<circle cx="653.1" cy="387.2" r="0.95" stroke="#4a98d8" stroke-width="0.75" fill="none"/>
<circle cx="655.1" cy="387.2" r="0.95" stroke="#4a98d8" stroke-width="0.75" fill="none"/>
<circle cx="657.1" cy="387.2" r="0.95" stroke="#4a98d8" stroke-width="0.75" fill="none"/>
<circle cx="659.1" cy="387.2" r="0.95" stroke="#4a98d8" stroke-width="0.75" fill="none"/>
<circle cx="661.1" cy="387.2" r="0.95" stroke="#4a98d8" stroke-width="0.75" fill="none"/>
<circle cx="663.1" cy="387.2" r="0.95" stroke="#4a98d8" stroke-width="0.75" fill="none"/>
<circle cx="665.1" cy="387.2" r="0.95" stroke="#4a98d8" stroke-width="0.75" fill="none"/>
<circle cx="667.1" cy="387.2" r="0.95" stroke="#4a98d8" stroke-width="0.75" fill="none"/>
<circle cx="669.1" cy="387.2" r="0.95" stroke="#4a98d8" stroke-width="0.75" fill="none"/>
<circle cx="671.1" cy="387.2" r="0.95" stroke="#4a98d8" stroke-width="0.75" fill="none"/>
<circle cx="630" cy="337.01" r="1.3" stroke="#4a98d8" stroke-width="0.9" fill="none"/>
<circle cx="631.6" cy="345.14" r="1.3" stroke="#4b74b8" stroke-width="0.9" fill="#4b74b8"/>
<circle cx="636.5" cy="385.29" r="1.3" stroke="#4a98d8" stroke-width="0.9" fill="none"/>
<line x1="629.7" y1="342.75" x2="629.7" y2="387.2" stroke="#f07c7c" stroke-width="0.8" stroke-dasharray="2.4 3.4" />
<line x1="630.9" y1="342.75" x2="630.9" y2="387.2" stroke="#f07c7c" stroke-width="0.8" stroke-dasharray="2.4 3.4" />
<rect x="593.9" y="332.2" width="78.3" height="56.7" stroke="#444" stroke-width="1.0" fill="none"/>
<line x1="593.9" y1="387.2" x2="596.4" y2="387.2" stroke="#333333" stroke-width="0.9" />
<text transform="translate(591.4 390.26) scale(0.95 1)" font-size="8.49" text-anchor="end" fill="#1a1a1a" >0.0</text>
<line x1="593.9" y1="363.3" x2="596.4" y2="363.3" stroke="#333333" stroke-width="0.9" />
<text transform="translate(591.4 366.36) scale(0.95 1)" font-size="8.49" text-anchor="end" fill="#1a1a1a" >0.5</text>
<line x1="593.9" y1="339.4" x2="596.4" y2="339.4" stroke="#333333" stroke-width="0.9" />
<text transform="translate(591.4 342.46) scale(0.95 1)" font-size="8.49" text-anchor="end" fill="#1a1a1a" >1.0</text>
<line x1="619" y1="388.9" x2="619" y2="386.4" stroke="#333333" stroke-width="0.9" />
<text transform="translate(619 398.24) scale(0.95 1)" font-size="8.17" text-anchor="middle" fill="#1a1a1a" >1545.4</text>
<line x1="654.3" y1="388.9" x2="654.3" y2="386.4" stroke="#333333" stroke-width="0.9" />
<text transform="translate(654.3 398.24) scale(0.95 1)" font-size="8.17" text-anchor="middle" fill="#1a1a1a" >1545.6</text>
<line x1="246.1" y1="377.4" x2="264.51" y2="372.38" stroke="#333333" stroke-width="0.9" />
<path d="M270.3 370.8 L265.14 374.69 L263.88 370.06 Z" stroke="none" stroke-width="0" fill="#333333" />
<line x1="507.1" y1="380.6" x2="595.96" y2="368.32" stroke="#333333" stroke-width="0.9" />
<path d="M601.9 367.5 L596.29 370.7 L595.63 365.94 Z" stroke="none" stroke-width="0" fill="#333333" />
<circle cx="47.6" cy="343.3" r="1.7" stroke="#4a98d8" stroke-width="1.0" fill="none"/>
<circle cx="56.4" cy="343.3" r="1.7" stroke="#4a98d8" stroke-width="1.0" fill="none"/>
<text x="63" y="346.25" font-size="8.2" text-anchor="start" fill="#3a3a3a" font-style="italic" >Reconstruction</text>
<line x1="45.2" y1="353.3" x2="58.7" y2="353.3" stroke="#e8413c" stroke-width="1.2" stroke-dasharray="5 3.5" />
<text x="63" y="356.25" font-size="8.2" text-anchor="start" fill="#3a3a3a" font-style="italic" >Reference</text>
<text transform="translate(13.8 399.5) rotate(-90)" x="0" y="0" font-size="10" text-anchor="middle" fill="#1a1a1a">Normalized intensity</text>
<text x="1.4" y="332.3" font-size="16" text-anchor="start" fill="#000" font-weight="bold" >c</text>
<line x1="59.02" y1="494.3" x2="59.02" y2="621" stroke="#d8d8d8" stroke-width="0.6" stroke-dasharray="1 1.5" />
<line x1="81.63" y1="494.3" x2="81.63" y2="621" stroke="#d8d8d8" stroke-width="0.6" stroke-dasharray="1 1.5" />
<line x1="104.25" y1="494.3" x2="104.25" y2="621" stroke="#d8d8d8" stroke-width="0.6" stroke-dasharray="1 1.5" />
<line x1="126.86" y1="494.3" x2="126.86" y2="621" stroke="#d8d8d8" stroke-width="0.6" stroke-dasharray="1 1.5" />
<line x1="149.47" y1="494.3" x2="149.47" y2="621" stroke="#d8d8d8" stroke-width="0.6" stroke-dasharray="1 1.5" />
<line x1="172.09" y1="494.3" x2="172.09" y2="621" stroke="#d8d8d8" stroke-width="0.6" stroke-dasharray="1 1.5" />
<line x1="194.7" y1="494.3" x2="194.7" y2="621" stroke="#d8d8d8" stroke-width="0.6" stroke-dasharray="1 1.5" />
<line x1="217.32" y1="494.3" x2="217.32" y2="621" stroke="#d8d8d8" stroke-width="0.6" stroke-dasharray="1 1.5" />
<line x1="239.94" y1="494.3" x2="239.94" y2="621" stroke="#d8d8d8" stroke-width="0.6" stroke-dasharray="1 1.5" />
<line x1="262.55" y1="494.3" x2="262.55" y2="621" stroke="#d8d8d8" stroke-width="0.6" stroke-dasharray="1 1.5" />
<line x1="285.16" y1="494.3" x2="285.16" y2="621" stroke="#d8d8d8" stroke-width="0.6" stroke-dasharray="1 1.5" />
<line x1="307.78" y1="494.3" x2="307.78" y2="621" stroke="#d8d8d8" stroke-width="0.6" stroke-dasharray="1 1.5" />
<line x1="37.4" y1="600.55" x2="329.4" y2="600.55" stroke="#d8d8d8" stroke-width="0.6" stroke-dasharray="1 1.5" />
<line x1="37.4" y1="589.8" x2="329.4" y2="589.8" stroke="#d8d8d8" stroke-width="0.6" stroke-dasharray="1 1.5" />
<line x1="37.4" y1="579.05" x2="329.4" y2="579.05" stroke="#d8d8d8" stroke-width="0.6" stroke-dasharray="1 1.5" />
<line x1="37.4" y1="568.3" x2="329.4" y2="568.3" stroke="#d8d8d8" stroke-width="0.6" stroke-dasharray="1 1.5" />
<line x1="37.4" y1="557.55" x2="329.4" y2="557.55" stroke="#d8d8d8" stroke-width="0.6" stroke-dasharray="1 1.5" />
<line x1="37.4" y1="546.8" x2="329.4" y2="546.8" stroke="#d8d8d8" stroke-width="0.6" stroke-dasharray="1 1.5" />
<line x1="37.4" y1="536.05" x2="329.4" y2="536.05" stroke="#d8d8d8" stroke-width="0.6" stroke-dasharray="1 1.5" />
<line x1="37.4" y1="525.3" x2="329.4" y2="525.3" stroke="#d8d8d8" stroke-width="0.6" stroke-dasharray="1 1.5" />
<line x1="37.4" y1="514.55" x2="329.4" y2="514.55" stroke="#d8d8d8" stroke-width="0.6" stroke-dasharray="1 1.5" />
<line x1="37.4" y1="503.8" x2="329.4" y2="503.8" stroke="#d8d8d8" stroke-width="0.6" stroke-dasharray="1 1.5" />
<path d="M37 611.3 C40.93 611.3 53.33 611.3 60.6 611.3 C67.87 611.3 76.43 611.3 80.6 611.3 C84.77 611.3 84.13 611.3 85.6 611.3 C87.07 611.3 88.23 611.3 89.4 611.3 C90.57 611.3 90.57 611.3 92.6 611.3 C94.63 611.3 99.48 611.3 101.6 611.3 C103.72 611.3 104.13 611.3 105.3 611.3 C106.47 611.3 107.22 611.3 108.6 611.3 C109.98 611.3 111.6 611.3 113.6 611.3 C115.6 611.3 117.77 611.3 120.6 611.3 C123.43 611.3 128.1 611.3 130.6 611.3 C133.1 611.3 134.37 611.48 135.6 611.3 C136.83 611.12 137.17 612.08 138 610.2 C138.83 608.32 139.63 604.3 140.6 600 C141.57 595.7 142.63 593.57 143.8 584.4 C144.97 575.23 146.38 556.57 147.6 545 C148.82 533.43 150.05 521.37 151.1 515 C152.15 508.63 152.9 506.8 153.9 506.8 C154.9 506.8 156.15 509.47 157.1 515 C158.05 520.53 158.7 532.32 159.6 540 C160.5 547.68 161.58 554.93 162.5 561.1 C163.42 567.27 164.25 573.3 165.1 577 C165.95 580.7 166.68 582.97 167.6 583.3 C168.52 583.63 169.52 580.88 170.6 579 C171.68 577.12 172.92 573.92 174.1 572 C175.28 570.08 176.28 569 177.7 567.5 C179.12 566 181.12 564.42 182.6 563 C184.08 561.58 185.28 559.9 186.6 559 C187.92 558.1 189.25 557.88 190.5 557.6 C191.75 557.32 192.93 557.27 194.1 557.3 C195.27 557.33 196.42 558.35 197.5 557.8 C198.58 557.25 199.25 555.97 200.6 554 C201.95 552.03 203.88 548.48 205.6 546 C207.32 543.52 209.4 539.1 210.9 539.1 C212.4 539.1 213.32 543.12 214.6 546 C215.88 548.88 217.18 552.23 218.6 556.4 C220.02 560.57 221.55 565.55 223.1 571 C224.65 576.45 226.32 584.6 227.9 589.1 C229.48 593.6 231.15 595.93 232.6 598 C234.05 600.07 235.23 600.23 236.6 601.5 C237.97 602.77 239.63 604.35 240.8 605.6 C241.97 606.85 242.63 608.1 243.6 609 C244.57 609.9 245.1 610.62 246.6 611 C248.1 611.38 250.27 611.25 252.6 611.3 C254.93 611.35 257.6 611.3 260.6 611.3 C263.6 611.3 267.27 611.3 270.6 611.3 C273.93 611.3 277.93 611.3 280.6 611.3 C283.27 611.3 285.1 611.3 286.6 611.3 C288.1 611.3 288.43 611.3 289.6 611.3 C290.77 611.3 292.27 611.3 293.6 611.3 C294.93 611.3 296.43 611.3 297.6 611.3 C298.77 611.3 299.68 611.3 300.6 611.3 C301.52 611.3 302.25 611.3 303.1 611.3 C303.95 611.3 304.87 611.3 305.7 611.3 C306.53 611.3 307.28 611.3 308.1 611.3 C308.92 611.3 309.35 611.3 310.6 611.3 C311.85 611.3 314.32 611.3 315.6 611.3 C316.88 611.3 317.47 611.3 318.3 611.3 C319.13 611.3 319.72 611.3 320.6 611.3 C321.48 611.3 321.87 611.3 323.6 611.3 C325.33 611.3 329.77 611.3 331 611.3" stroke="#e8413c" stroke-width="1.5" fill="none" stroke-dasharray="4 3" />
<path d="M36.4 611.3 C40.33 611.3 52.73 611.32 60 611.3 C67.27 611.28 75.83 611.2 80 611.2 C84.17 611.2 83.53 611.57 85 611.3 C86.47 611.03 87.63 609.6 88.8 609.6 C89.97 609.6 89.97 611.03 92 611.3 C94.03 611.57 98.88 611.38 101 611.2 C103.12 611.02 103.53 610.18 104.7 610.2 C105.87 610.22 106.62 611.13 108 611.3 C109.38 611.47 111 611.2 113 611.2 C115 611.2 117.17 611.28 120 611.3 C122.83 611.32 127.5 611.35 130 611.3 C132.5 611.25 133.77 611.18 135 611 C136.23 610.82 136.57 612.03 137.4 610.2 C138.23 608.37 139.03 604.47 140 600 C140.97 595.53 142.03 592.57 143.2 583.4 C144.37 574.23 145.78 556.4 147 545 C148.22 533.6 149.45 521.37 150.5 515 C151.55 508.63 152.3 506.8 153.3 506.8 C154.3 506.8 155.55 509.47 156.5 515 C157.45 520.53 158.1 532.48 159 540 C159.9 547.52 160.98 554.1 161.9 560.1 C162.82 566.1 163.65 572.3 164.5 576 C165.35 579.7 166.08 581.97 167 582.3 C167.92 582.63 168.92 579.88 170 578 C171.08 576.12 172.32 572.92 173.5 571 C174.68 569.08 175.68 568 177.1 566.5 C178.52 565 180.52 563.42 182 562 C183.48 560.58 184.68 558.9 186 558 C187.32 557.1 188.65 556.88 189.9 556.6 C191.15 556.32 192.33 556.27 193.5 556.3 C194.67 556.33 195.82 557.35 196.9 556.8 C197.98 556.25 198.65 554.8 200 553 C201.35 551.2 203.28 548.32 205 546 C206.72 543.68 208.8 539.1 210.3 539.1 C211.8 539.1 212.72 543.28 214 546 C215.28 548.72 216.58 551.4 218 555.4 C219.42 559.4 220.95 564.55 222.5 570 C224.05 575.45 225.72 583.6 227.3 588.1 C228.88 592.6 230.55 594.77 232 597 C233.45 599.23 234.63 600.07 236 601.5 C237.37 602.93 239.03 604.35 240.2 605.6 C241.37 606.85 242.03 608.1 243 609 C243.97 609.9 244.5 610.62 246 611 C247.5 611.38 249.67 611.33 252 611.3 C254.33 611.27 257 610.82 260 610.8 C263 610.78 266.67 611.17 270 611.2 C273.33 611.23 277.33 611 280 611 C282.67 611 284.5 611.4 286 611.2 C287.5 611 287.83 610.07 289 609.8 C290.17 609.53 291.67 609.58 293 609.6 C294.33 609.62 295.83 609.7 297 609.9 C298.17 610.1 299.08 610.95 300 610.8 C300.92 610.65 301.65 609.67 302.5 609 C303.35 608.33 304.27 606.72 305.1 606.8 C305.93 606.88 306.68 608.77 307.5 609.5 C308.32 610.23 308.75 610.95 310 611.2 C311.25 611.45 313.72 611.4 315 611 C316.28 610.6 316.87 608.83 317.7 608.8 C318.53 608.77 319.12 610.4 320 610.8 C320.88 611.2 321.27 611.12 323 611.2 C324.73 611.28 329.17 611.28 330.4 611.3" stroke="#4a98d8" stroke-width="1.5" fill="none" />
<rect x="36.4" y="493.3" width="294" height="128.7" stroke="#333333" stroke-width="1.1" fill="none"/>
<line x1="36.4" y1="611.3" x2="40.4" y2="611.3" stroke="#333333" stroke-width="1.1" />
<text transform="translate(32.4 614.9) scale(0.95 1)" font-size="10.0" text-anchor="end" fill="#1a1a1a" >0.0</text>
<line x1="36.4" y1="600.55" x2="38.6" y2="600.55" stroke="#333333" stroke-width="1.1" />
<line x1="36.4" y1="589.8" x2="40.4" y2="589.8" stroke="#333333" stroke-width="1.1" />
<text transform="translate(32.4 593.4) scale(0.95 1)" font-size="10.0" text-anchor="end" fill="#1a1a1a" >0.2</text>
<line x1="36.4" y1="579.05" x2="38.6" y2="579.05" stroke="#333333" stroke-width="1.1" />
<line x1="36.4" y1="568.3" x2="40.4" y2="568.3" stroke="#333333" stroke-width="1.1" />
<text transform="translate(32.4 571.9) scale(0.95 1)" font-size="10.0" text-anchor="end" fill="#1a1a1a" >0.4</text>
<line x1="36.4" y1="557.55" x2="38.6" y2="557.55" stroke="#333333" stroke-width="1.1" />
<line x1="36.4" y1="546.8" x2="40.4" y2="546.8" stroke="#333333" stroke-width="1.1" />
<text transform="translate(32.4 550.4) scale(0.95 1)" font-size="10.0" text-anchor="end" fill="#1a1a1a" >0.6</text>
<line x1="36.4" y1="536.05" x2="38.6" y2="536.05" stroke="#333333" stroke-width="1.1" />
<line x1="36.4" y1="525.3" x2="40.4" y2="525.3" stroke="#333333" stroke-width="1.1" />
<text transform="translate(32.4 528.9) scale(0.95 1)" font-size="10.0" text-anchor="end" fill="#1a1a1a" >0.8</text>
<line x1="36.4" y1="514.55" x2="38.6" y2="514.55" stroke="#333333" stroke-width="1.1" />
<line x1="36.4" y1="503.8" x2="40.4" y2="503.8" stroke="#333333" stroke-width="1.1" />
<text transform="translate(32.4 507.4) scale(0.95 1)" font-size="10.0" text-anchor="end" fill="#1a1a1a" >1.0</text>
<line x1="59.02" y1="622" x2="59.02" y2="618" stroke="#333333" stroke-width="1.1" />
<text transform="translate(59.02 633.8) scale(0.95 1)" font-size="10.0" text-anchor="middle" fill="#1a1a1a" >1490</text>
<line x1="81.63" y1="622" x2="81.63" y2="619.8" stroke="#333333" stroke-width="1.1" />
<line x1="104.25" y1="622" x2="104.25" y2="618" stroke="#333333" stroke-width="1.1" />
<text transform="translate(104.25 633.8) scale(0.95 1)" font-size="10.0" text-anchor="middle" fill="#1a1a1a" >1510</text>
<line x1="126.86" y1="622" x2="126.86" y2="619.8" stroke="#333333" stroke-width="1.1" />
<line x1="149.47" y1="622" x2="149.47" y2="618" stroke="#333333" stroke-width="1.1" />
<text transform="translate(149.47 633.8) scale(0.95 1)" font-size="10.0" text-anchor="middle" fill="#1a1a1a" >1530</text>
<line x1="172.09" y1="622" x2="172.09" y2="619.8" stroke="#333333" stroke-width="1.1" />
<line x1="194.7" y1="622" x2="194.7" y2="618" stroke="#333333" stroke-width="1.1" />
<text transform="translate(194.7 633.8) scale(0.95 1)" font-size="10.0" text-anchor="middle" fill="#1a1a1a" >1550</text>
<line x1="217.32" y1="622" x2="217.32" y2="619.8" stroke="#333333" stroke-width="1.1" />
<line x1="239.94" y1="622" x2="239.94" y2="618" stroke="#333333" stroke-width="1.1" />
<text transform="translate(239.94 633.8) scale(0.95 1)" font-size="10.0" text-anchor="middle" fill="#1a1a1a" >1570</text>
<line x1="262.55" y1="622" x2="262.55" y2="619.8" stroke="#333333" stroke-width="1.1" />
<line x1="285.16" y1="622" x2="285.16" y2="618" stroke="#333333" stroke-width="1.1" />
<text transform="translate(285.16 633.8) scale(0.95 1)" font-size="10.0" text-anchor="middle" fill="#1a1a1a" >1590</text>
<line x1="307.78" y1="622" x2="307.78" y2="619.8" stroke="#333333" stroke-width="1.1" />
<line x1="330.39" y1="622" x2="330.39" y2="618" stroke="#333333" stroke-width="1.1" />
<text transform="translate(330.39 633.8) scale(0.95 1)" font-size="10.0" text-anchor="middle" fill="#1a1a1a" >1610</text>
<text x="186" y="646.1" font-size="10" text-anchor="middle" fill="#1a1a1a" >Wavelength (nm)</text>
<line x1="48.7" y1="509.1" x2="62.5" y2="509.1" stroke="#4a98d8" stroke-width="1.5" />
<text x="67.1" y="512.05" font-size="8.2" text-anchor="start" fill="#3a3a3a" font-style="italic" >Reconstruction</text>
<line x1="48.5" y1="519.9" x2="62" y2="519.9" stroke="#e8413c" stroke-width="1.5" stroke-dasharray="5 3.5" />
<text x="67.1" y="522.85" font-size="8.2" text-anchor="start" fill="#3a3a3a" font-style="italic" >Reference</text>
<line x1="404.12" y1="494.3" x2="404.12" y2="621" stroke="#d8d8d8" stroke-width="0.6" stroke-dasharray="1 1.5" />
<line x1="426.73" y1="494.3" x2="426.73" y2="621" stroke="#d8d8d8" stroke-width="0.6" stroke-dasharray="1 1.5" />
<line x1="449.35" y1="494.3" x2="449.35" y2="621" stroke="#d8d8d8" stroke-width="0.6" stroke-dasharray="1 1.5" />
<line x1="471.96" y1="494.3" x2="471.96" y2="621" stroke="#d8d8d8" stroke-width="0.6" stroke-dasharray="1 1.5" />
<line x1="494.57" y1="494.3" x2="494.57" y2="621" stroke="#d8d8d8" stroke-width="0.6" stroke-dasharray="1 1.5" />
<line x1="517.19" y1="494.3" x2="517.19" y2="621" stroke="#d8d8d8" stroke-width="0.6" stroke-dasharray="1 1.5" />
<line x1="539.8" y1="494.3" x2="539.8" y2="621" stroke="#d8d8d8" stroke-width="0.6" stroke-dasharray="1 1.5" />
<line x1="562.42" y1="494.3" x2="562.42" y2="621" stroke="#d8d8d8" stroke-width="0.6" stroke-dasharray="1 1.5" />
<line x1="585.03" y1="494.3" x2="585.03" y2="621" stroke="#d8d8d8" stroke-width="0.6" stroke-dasharray="1 1.5" />
<line x1="607.65" y1="494.3" x2="607.65" y2="621" stroke="#d8d8d8" stroke-width="0.6" stroke-dasharray="1 1.5" />
<line x1="630.26" y1="494.3" x2="630.26" y2="621" stroke="#d8d8d8" stroke-width="0.6" stroke-dasharray="1 1.5" />
<line x1="652.88" y1="494.3" x2="652.88" y2="621" stroke="#d8d8d8" stroke-width="0.6" stroke-dasharray="1 1.5" />
<line x1="382.5" y1="600.55" x2="674.5" y2="600.55" stroke="#d8d8d8" stroke-width="0.6" stroke-dasharray="1 1.5" />
<line x1="382.5" y1="589.8" x2="674.5" y2="589.8" stroke="#d8d8d8" stroke-width="0.6" stroke-dasharray="1 1.5" />
<line x1="382.5" y1="579.05" x2="674.5" y2="579.05" stroke="#d8d8d8" stroke-width="0.6" stroke-dasharray="1 1.5" />
<line x1="382.5" y1="568.3" x2="674.5" y2="568.3" stroke="#d8d8d8" stroke-width="0.6" stroke-dasharray="1 1.5" />
<line x1="382.5" y1="557.55" x2="674.5" y2="557.55" stroke="#d8d8d8" stroke-width="0.6" stroke-dasharray="1 1.5" />
<line x1="382.5" y1="546.8" x2="674.5" y2="546.8" stroke="#d8d8d8" stroke-width="0.6" stroke-dasharray="1 1.5" />
<line x1="382.5" y1="536.05" x2="674.5" y2="536.05" stroke="#d8d8d8" stroke-width="0.6" stroke-dasharray="1 1.5" />
<line x1="382.5" y1="525.3" x2="674.5" y2="525.3" stroke="#d8d8d8" stroke-width="0.6" stroke-dasharray="1 1.5" />
<line x1="382.5" y1="514.55" x2="674.5" y2="514.55" stroke="#d8d8d8" stroke-width="0.6" stroke-dasharray="1 1.5" />
<line x1="382.5" y1="503.8" x2="674.5" y2="503.8" stroke="#d8d8d8" stroke-width="0.6" stroke-dasharray="1 1.5" />
<path d="M382.1 611.3 C385.18 611.28 394.18 611.2 400.6 611.2 C407.02 611.2 415.6 611.33 420.6 611.3 C425.6 611.27 428.27 611.25 430.6 611 C432.93 610.75 433.43 609.77 434.6 609.8 C435.77 609.83 434.93 610.95 437.6 611.2 C440.27 611.45 445.1 611.3 450.6 611.3 C456.1 611.3 465.6 611.25 470.6 611.2 C475.6 611.15 478.48 611.2 480.6 611 C482.72 610.8 482.38 611.83 483.3 610 C484.22 608.17 485.13 604.37 486.1 600 C487.07 595.63 488.02 592.47 489.1 583.8 C490.18 575.13 491.43 559.47 492.6 548 C493.77 536.53 495.03 521.93 496.1 515 C497.17 508.07 498 506.57 499 506.4 C500 506.23 501.08 508.4 502.1 514 C503.12 519.6 504.02 531.87 505.1 540 C506.18 548.13 507.52 556.33 508.6 562.8 C509.68 569.27 510.68 575.3 511.6 578.8 C512.52 582.3 513.18 583.47 514.1 583.8 C515.02 584.13 516.02 582.8 517.1 580.8 C518.18 578.8 519.23 574.73 520.6 571.8 C521.97 568.87 523.97 565.2 525.3 563.2 C526.63 561.2 527.42 560.58 528.6 559.8 C529.78 559.02 531.32 558.77 532.4 558.5 C533.48 558.23 534.25 558 535.1 558.2 C535.95 558.4 536.67 559.93 537.5 559.7 C538.33 559.47 539.2 557.58 540.1 556.8 C541 556.02 541.75 555.73 542.9 555 C544.05 554.27 545.78 554.03 547 552.4 C548.22 550.77 549 547.02 550.2 545.2 C551.4 543.38 552.87 541.77 554.2 541.5 C555.53 541.23 557.13 542.52 558.2 543.6 C559.27 544.68 559.8 546.13 560.6 548 C561.4 549.87 562.25 552.75 563 554.8 C563.75 556.85 564.4 558.47 565.1 560.3 C565.8 562.13 566.55 563.72 567.2 565.8 C567.85 567.88 568.7 571.47 569 572.8 C569.3 574.13 568.65 572.3 569 573.8 C569.35 575.3 570.37 579.1 571.1 581.8 C571.83 584.5 572.65 587.67 573.4 590 C574.15 592.33 574.8 594.07 575.6 595.8 C576.4 597.53 577.28 599.5 578.2 600.4 C579.12 601.3 580.17 600.93 581.1 601.2 C582.03 601.47 582.95 601.2 583.8 602 C584.65 602.8 585.4 604.83 586.2 606 C587 607.17 587.03 608.12 588.6 609 C590.17 609.88 581.17 610.92 595.6 611.3 C610.03 611.68 661.93 611.3 675.2 611.3" stroke="#e8413c" stroke-width="1.5" fill="none" stroke-dasharray="4 3" />
<path d="M381.5 611.3 C384.58 611.28 393.58 611.2 400 611.2 C406.42 611.2 415 611.33 420 611.3 C425 611.27 427.67 611.25 430 611 C432.33 610.75 432.83 609.77 434 609.8 C435.17 609.83 434.33 610.95 437 611.2 C439.67 611.45 444.5 611.3 450 611.3 C455.5 611.3 465 611.25 470 611.2 C475 611.15 477.88 611.2 480 611 C482.12 610.8 481.78 611.83 482.7 610 C483.62 608.17 484.53 604.5 485.5 600 C486.47 595.5 487.42 591.67 488.5 583 C489.58 574.33 490.83 559.33 492 548 C493.17 536.67 494.43 521.93 495.5 515 C496.57 508.07 497.4 506.57 498.4 506.4 C499.4 506.23 500.48 508.4 501.5 514 C502.52 519.6 503.42 532 504.5 540 C505.58 548 506.92 555.67 508 562 C509.08 568.33 510.08 574.5 511 578 C511.92 581.5 512.58 582.67 513.5 583 C514.42 583.33 515.42 582 516.5 580 C517.58 578 518.63 573.93 520 571 C521.37 568.07 523.37 564.4 524.7 562.4 C526.03 560.4 526.82 559.78 528 559 C529.18 558.22 530.72 557.97 531.8 557.7 C532.88 557.43 533.65 557.2 534.5 557.4 C535.35 557.6 536.07 559.13 536.9 558.9 C537.73 558.67 538.6 556.78 539.5 556 C540.4 555.22 541.15 554.93 542.3 554.2 C543.45 553.47 545.18 553.1 546.4 551.6 C547.62 550.1 548.4 546.88 549.6 545.2 C550.8 543.52 552.27 541.77 553.6 541.5 C554.93 541.23 556.53 542.52 557.6 543.6 C558.67 544.68 559.2 546.27 560 548 C560.8 549.73 561.65 552.08 562.4 554 C563.15 555.92 563.8 557.9 564.5 559.5 C565.2 561.1 566.25 562.92 566.6 563.6" stroke="#4a98d8" stroke-width="1.5" fill="none" />
<path d="M566.6 563.6 L567.4 493.8 L567.6 493.8 L568.4 573" stroke="#4a98d8" stroke-width="1.5" fill="none" />
<path d="M568.4 573 C568.75 574.33 569.77 578.3 570.5 581 C571.23 583.7 572.05 586.87 572.8 589.2 C573.55 591.53 574.2 593.27 575 595 C575.8 596.73 576.68 598.57 577.6 599.6 C578.52 600.63 579.57 600.8 580.5 601.2 C581.43 601.6 582.35 601.2 583.2 602 C584.05 602.8 584.8 604.83 585.6 606 C586.4 607.17 587.07 608.2 588 609 C588.93 609.8 590.2 610.42 591.2 610.8 C592.2 611.18 593.03 611.3 594 611.3 C594.97 611.3 596.17 611.23 597 610.8 C597.83 610.37 598.33 608.63 599 608.7 C599.67 608.77 600.33 610.77 601 611.2 C601.67 611.63 602.25 611.58 603 611.3 C603.75 611.02 604.75 609.55 605.5 609.5 C606.25 609.45 606.77 611.33 607.5 611 C608.23 610.67 609.15 607.47 609.9 607.5 C610.65 607.53 610.32 610.57 612 611.2 C613.68 611.83 618.17 611.33 620 611.3 C621.83 611.27 622.12 611.35 623 611 C623.88 610.65 624.55 609.17 625.3 609.2 C626.05 609.23 626.55 610.85 627.5 611.2 C628.45 611.55 629.92 611.75 631 611.3 C632.08 610.85 633 608.52 634 608.5 C635 608.48 635.33 610.73 637 611.2 C638.67 611.67 642.3 611.75 644 611.3 C645.7 610.85 646.28 608.72 647.2 608.5 C648.12 608.28 648.78 610.25 649.5 610 C650.22 609.75 650.83 606.92 651.5 607 C652.17 607.08 652.77 610.42 653.5 610.5 C654.23 610.58 655.07 607.38 655.9 607.5 C656.73 607.62 657.73 610.75 658.5 611.2 C659.27 611.65 659.83 610.62 660.5 610.2 C661.17 609.78 661.75 608.57 662.5 608.7 C663.25 608.83 664.15 611.12 665 611 C665.85 610.88 666.77 607.97 667.6 608 C668.43 608.03 668.83 610.65 670 611.2 C671.17 611.75 673.83 611.28 674.6 611.3" stroke="#4a98d8" stroke-width="1.5" fill="none" />
<rect x="381.5" y="493.3" width="294" height="128.7" stroke="#333333" stroke-width="1.1" fill="none"/>
<line x1="381.5" y1="611.3" x2="385.5" y2="611.3" stroke="#333333" stroke-width="1.1" />
<text transform="translate(377.5 614.9) scale(0.95 1)" font-size="10.0" text-anchor="end" fill="#1a1a1a" >0.0</text>
<line x1="381.5" y1="600.55" x2="383.7" y2="600.55" stroke="#333333" stroke-width="1.1" />
<line x1="381.5" y1="589.8" x2="385.5" y2="589.8" stroke="#333333" stroke-width="1.1" />
<text transform="translate(377.5 593.4) scale(0.95 1)" font-size="10.0" text-anchor="end" fill="#1a1a1a" >0.2</text>
<line x1="381.5" y1="579.05" x2="383.7" y2="579.05" stroke="#333333" stroke-width="1.1" />
<line x1="381.5" y1="568.3" x2="385.5" y2="568.3" stroke="#333333" stroke-width="1.1" />
<text transform="translate(377.5 571.9) scale(0.95 1)" font-size="10.0" text-anchor="end" fill="#1a1a1a" >0.4</text>
<line x1="381.5" y1="557.55" x2="383.7" y2="557.55" stroke="#333333" stroke-width="1.1" />
<line x1="381.5" y1="546.8" x2="385.5" y2="546.8" stroke="#333333" stroke-width="1.1" />
<text transform="translate(377.5 550.4) scale(0.95 1)" font-size="10.0" text-anchor="end" fill="#1a1a1a" >0.6</text>
<line x1="381.5" y1="536.05" x2="383.7" y2="536.05" stroke="#333333" stroke-width="1.1" />
<line x1="381.5" y1="525.3" x2="385.5" y2="525.3" stroke="#333333" stroke-width="1.1" />
<text transform="translate(377.5 528.9) scale(0.95 1)" font-size="10.0" text-anchor="end" fill="#1a1a1a" >0.8</text>
<line x1="381.5" y1="514.55" x2="383.7" y2="514.55" stroke="#333333" stroke-width="1.1" />
<line x1="381.5" y1="503.8" x2="385.5" y2="503.8" stroke="#333333" stroke-width="1.1" />
<text transform="translate(377.5 507.4) scale(0.95 1)" font-size="10.0" text-anchor="end" fill="#1a1a1a" >1.0</text>
<line x1="404.12" y1="622" x2="404.12" y2="618" stroke="#333333" stroke-width="1.1" />
<text transform="translate(404.12 633.8) scale(0.95 1)" font-size="10.0" text-anchor="middle" fill="#1a1a1a" >1490</text>
<line x1="426.73" y1="622" x2="426.73" y2="619.8" stroke="#333333" stroke-width="1.1" />
<line x1="449.35" y1="622" x2="449.35" y2="618" stroke="#333333" stroke-width="1.1" />
<text transform="translate(449.35 633.8) scale(0.95 1)" font-size="10.0" text-anchor="middle" fill="#1a1a1a" >1510</text>
<line x1="471.96" y1="622" x2="471.96" y2="619.8" stroke="#333333" stroke-width="1.1" />
<line x1="494.57" y1="622" x2="494.57" y2="618" stroke="#333333" stroke-width="1.1" />
<text transform="translate(494.57 633.8) scale(0.95 1)" font-size="10.0" text-anchor="middle" fill="#1a1a1a" >1530</text>
<line x1="517.19" y1="622" x2="517.19" y2="619.8" stroke="#333333" stroke-width="1.1" />
<line x1="539.8" y1="622" x2="539.8" y2="618" stroke="#333333" stroke-width="1.1" />
<text transform="translate(539.8 633.8) scale(0.95 1)" font-size="10.0" text-anchor="middle" fill="#1a1a1a" >1550</text>
<line x1="562.42" y1="622" x2="562.42" y2="619.8" stroke="#333333" stroke-width="1.1" />
<line x1="585.03" y1="622" x2="585.03" y2="618" stroke="#333333" stroke-width="1.1" />
<text transform="translate(585.03 633.8) scale(0.95 1)" font-size="10.0" text-anchor="middle" fill="#1a1a1a" >1570</text>
<line x1="607.65" y1="622" x2="607.65" y2="619.8" stroke="#333333" stroke-width="1.1" />
<line x1="630.26" y1="622" x2="630.26" y2="618" stroke="#333333" stroke-width="1.1" />
<text transform="translate(630.26 633.8) scale(0.95 1)" font-size="10.0" text-anchor="middle" fill="#1a1a1a" >1590</text>
<line x1="652.88" y1="622" x2="652.88" y2="619.8" stroke="#333333" stroke-width="1.1" />
<line x1="675.5" y1="622" x2="675.5" y2="618" stroke="#333333" stroke-width="1.1" />
<text transform="translate(675.5 633.8) scale(0.95 1)" font-size="10.0" text-anchor="middle" fill="#1a1a1a" >1610</text>
<text x="530.4" y="646.1" font-size="10" text-anchor="middle" fill="#1a1a1a" >Wavelength (nm)</text>
<line x1="393.8" y1="509.1" x2="407.6" y2="509.1" stroke="#4a98d8" stroke-width="1.5" />
<text x="412.2" y="512.05" font-size="8.2" text-anchor="start" fill="#3a3a3a" font-style="italic" >Reconstruction</text>
<line x1="393.6" y1="519.9" x2="407.1" y2="519.9" stroke="#e8413c" stroke-width="1.5" stroke-dasharray="5 3.5" />
<text x="412.2" y="522.85" font-size="8.2" text-anchor="start" fill="#3a3a3a" font-style="italic" >Reference</text>
<text x="267.3" y="598.86" font-size="8.5" text-anchor="start" fill="#3a3a3a" font-style="italic" >&#949; = 0.038</text>
<text x="611.9" y="598.96" font-size="8.5" text-anchor="start" fill="#3a3a3a" font-style="italic" >&#949; = 0.064</text>
<text transform="translate(13.8 563.3) rotate(-90)" x="0" y="0" font-size="10" text-anchor="middle" fill="#1a1a1a">Normalized intensity</text>
<text transform="translate(359.8 563.6) rotate(-90)" x="0" y="0" font-size="10" text-anchor="middle" fill="#1a1a1a">Normalized intensity</text>
<text x="1.4" y="494.7" font-size="16" text-anchor="start" fill="#000" font-weight="bold" >d</text>
<text x="345.2" y="494.5" font-size="16" text-anchor="start" fill="#000" font-weight="bold" >e</text>
<rect x="590.4" y="498.7" width="77.5" height="66" fill="#fff" stroke="none"/>
<line x1="603.85" y1="499.7" x2="603.85" y2="563.7" stroke="#ebebeb" stroke-width="0.6" stroke-dasharray="1 1.5" />
<line x1="613.1" y1="499.7" x2="613.1" y2="563.7" stroke="#ebebeb" stroke-width="0.6" stroke-dasharray="1 1.5" />
<line x1="622.35" y1="499.7" x2="622.35" y2="563.7" stroke="#ebebeb" stroke-width="0.6" stroke-dasharray="1 1.5" />
<line x1="631.6" y1="499.7" x2="631.6" y2="563.7" stroke="#ebebeb" stroke-width="0.6" stroke-dasharray="1 1.5" />
<line x1="640.85" y1="499.7" x2="640.85" y2="563.7" stroke="#ebebeb" stroke-width="0.6" stroke-dasharray="1 1.5" />
<line x1="650.1" y1="499.7" x2="650.1" y2="563.7" stroke="#ebebeb" stroke-width="0.6" stroke-dasharray="1 1.5" />
<line x1="659.35" y1="499.7" x2="659.35" y2="563.7" stroke="#ebebeb" stroke-width="0.6" stroke-dasharray="1 1.5" />
<line x1="591.4" y1="548.83" x2="666.9" y2="548.83" stroke="#ebebeb" stroke-width="0.6" stroke-dasharray="1 1.5" />
<line x1="591.4" y1="536.25" x2="666.9" y2="536.25" stroke="#ebebeb" stroke-width="0.6" stroke-dasharray="1 1.5" />
<line x1="591.4" y1="523.67" x2="666.9" y2="523.67" stroke="#ebebeb" stroke-width="0.6" stroke-dasharray="1 1.5" />
<line x1="591.4" y1="511.1" x2="666.9" y2="511.1" stroke="#ebebeb" stroke-width="0.6" stroke-dasharray="1 1.5" />
<line x1="591.4" y1="498.53" x2="666.9" y2="498.53" stroke="#ebebeb" stroke-width="0.6" stroke-dasharray="1 1.5" />
<line x1="591.4" y1="561.4" x2="666.9" y2="561.4" stroke="#a6cdef" stroke-width="1.6" />
<line x1="591.4" y1="561.4" x2="666.9" y2="561.4" stroke="#f2a2a2" stroke-width="0.9" stroke-dasharray="3 4" />
<line x1="628.5" y1="561.4" x2="628.5" y2="505.44" stroke="#f08a8a" stroke-width="0.9" stroke-dasharray="2 1.5" />
<path d="M627.6 561.4 L628.4 508.58500000000004 L629.2 561.4" stroke="#5aa2de" stroke-width="0.9" fill="none" />
<rect x="590.4" y="498.7" width="77.5" height="66" stroke="#444" stroke-width="1.0" fill="none"/>
<line x1="590.4" y1="561.4" x2="592.9" y2="561.4" stroke="#333333" stroke-width="0.9" />
<text transform="translate(587.9 564.46) scale(0.95 1)" font-size="8.49" text-anchor="end" fill="#1a1a1a" >0</text>
<line x1="590.4" y1="536.25" x2="592.9" y2="536.25" stroke="#333333" stroke-width="0.9" />
<text transform="translate(587.9 539.31) scale(0.95 1)" font-size="8.49" text-anchor="end" fill="#1a1a1a" >20</text>
<line x1="590.4" y1="511.1" x2="592.9" y2="511.1" stroke="#333333" stroke-width="0.9" />
<text transform="translate(587.9 514.16) scale(0.95 1)" font-size="8.49" text-anchor="end" fill="#1a1a1a" >40</text>
<line x1="613.1" y1="564.7" x2="613.1" y2="562.2" stroke="#333333" stroke-width="0.9" />
<text transform="translate(613.1 572.88) scale(0.95 1)" font-size="8.28" text-anchor="middle" fill="#1a1a1a" >1562.2</text>
<line x1="650.1" y1="564.7" x2="650.1" y2="562.2" stroke="#333333" stroke-width="0.9" />
<text transform="translate(650.1 572.88) scale(0.95 1)" font-size="8.28" text-anchor="middle" fill="#1a1a1a" >1562.6</text>
<line x1="570.7" y1="526.7" x2="593.99" y2="519.23" stroke="#333333" stroke-width="0.9" />
<path d="M599.7 517.4 L594.72 521.52 L593.25 516.95 Z" stroke="none" stroke-width="0" fill="#333333" />
<line x1="42.3" y1="665.9" x2="42.3" y2="786.3" stroke="#e2e2e2" stroke-width="0.6" stroke-dasharray="1 1.5" />
<line x1="65.17" y1="665.9" x2="65.17" y2="786.3" stroke="#e2e2e2" stroke-width="0.6" stroke-dasharray="1 1.5" />
<line x1="88.04" y1="665.9" x2="88.04" y2="786.3" stroke="#e2e2e2" stroke-width="0.6" stroke-dasharray="1 1.5" />
<line x1="110.91" y1="665.9" x2="110.91" y2="786.3" stroke="#e2e2e2" stroke-width="0.6" stroke-dasharray="1 1.5" />
<line x1="133.78" y1="665.9" x2="133.78" y2="786.3" stroke="#e2e2e2" stroke-width="0.6" stroke-dasharray="1 1.5" />
<line x1="156.65" y1="665.9" x2="156.65" y2="786.3" stroke="#e2e2e2" stroke-width="0.6" stroke-dasharray="1 1.5" />
<line x1="179.52" y1="665.9" x2="179.52" y2="786.3" stroke="#e2e2e2" stroke-width="0.6" stroke-dasharray="1 1.5" />
<line x1="38.8" y1="772" x2="189.6" y2="772" stroke="#e2e2e2" stroke-width="0.6" stroke-dasharray="1 1.5" />
<line x1="38.8" y1="756.7" x2="189.6" y2="756.7" stroke="#e2e2e2" stroke-width="0.6" stroke-dasharray="1 1.5" />
<line x1="38.8" y1="741.4" x2="189.6" y2="741.4" stroke="#e2e2e2" stroke-width="0.6" stroke-dasharray="1 1.5" />
<line x1="38.8" y1="726.1" x2="189.6" y2="726.1" stroke="#e2e2e2" stroke-width="0.6" stroke-dasharray="1 1.5" />
<line x1="38.8" y1="710.8" x2="189.6" y2="710.8" stroke="#e2e2e2" stroke-width="0.6" stroke-dasharray="1 1.5" />
<line x1="38.8" y1="695.5" x2="189.6" y2="695.5" stroke="#e2e2e2" stroke-width="0.6" stroke-dasharray="1 1.5" />
<line x1="38.8" y1="680.2" x2="189.6" y2="680.2" stroke="#e2e2e2" stroke-width="0.6" stroke-dasharray="1 1.5" />
<path d="M46.9 686.4 L75 704.1 L102.8 733.9 L130.4 747.8 L158.3 756.2 L186.3 763.9" stroke="#e2342f" stroke-width="1.4" fill="none" />
<circle cx="46.9" cy="686.4" r="1.9" stroke="#e2342f" stroke-width="1.0" fill="#fff"/>
<circle cx="75" cy="704.1" r="1.9" stroke="#e2342f" stroke-width="1.0" fill="#fff"/>
<circle cx="102.8" cy="733.9" r="1.9" stroke="#e2342f" stroke-width="1.0" fill="#fff"/>
<circle cx="130.4" cy="747.8" r="1.9" stroke="#e2342f" stroke-width="1.0" fill="#fff"/>
<circle cx="158.3" cy="756.2" r="1.9" stroke="#e2342f" stroke-width="1.0" fill="#fff"/>
<circle cx="186.3" cy="763.9" r="1.9" stroke="#e2342f" stroke-width="1.0" fill="#fff"/>
<path d="M47 780.9 L75 753.7 L102.8 731.2 L130.4 717.3 L158.3 692.3 L186.3 676" stroke="#6c9fe0" stroke-width="1.0" fill="none" stroke-dasharray="3.5 2.5" />
<rect x="45.4" y="779.3" width="3.2" height="3.2" stroke="#4f7fc8" stroke-width="0.9" fill="#fff"/>
<rect x="73.4" y="752.1" width="3.2" height="3.2" stroke="#4f7fc8" stroke-width="0.9" fill="#fff"/>
<rect x="101.2" y="729.6" width="3.2" height="3.2" stroke="#4f7fc8" stroke-width="0.9" fill="#fff"/>
<rect x="128.8" y="715.7" width="3.2" height="3.2" stroke="#4f7fc8" stroke-width="0.9" fill="#fff"/>
<rect x="156.7" y="690.7" width="3.2" height="3.2" stroke="#4f7fc8" stroke-width="0.9" fill="#fff"/>
<rect x="184.7" y="674.4" width="3.2" height="3.2" stroke="#4f7fc8" stroke-width="0.9" fill="#fff"/>
<line x1="69.7" y1="705.4" x2="49.1" y2="705.4" stroke="#e2342f" stroke-width="1.3" />
<path d="M44.6 705.4 L49.1 703.1 L49.1 707.7 Z" stroke="none" stroke-width="0" fill="#e2342f" />
<line x1="152" y1="705.3" x2="180.4" y2="705.3" stroke="#3d6fb8" stroke-width="1.3" stroke-dasharray="5 3" />
<path d="M184.9 705.3 L180.4 707.6 L180.4 703 Z" stroke="none" stroke-width="0" fill="#3d6fb8" />
<line x1="37.3" y1="664.9" x2="191.1" y2="664.9" stroke="#6b6b6b" stroke-width="1.6" />
<line x1="37.2" y1="787.3" x2="190.6" y2="787.3" stroke="#1a1a1a" stroke-width="1.3" />
<line x1="37.8" y1="664.9" x2="37.8" y2="787.8" stroke="#e2342f" stroke-width="1.3" />
<line x1="190.6" y1="664.9" x2="190.6" y2="787.8" stroke="#7aa3dc" stroke-width="1.4" />
<line x1="37.8" y1="787.3" x2="40.2" y2="787.3" stroke="#e2342f" stroke-width="1.0" />
<text transform="translate(35.2 790.9) scale(0.95 1)" font-size="10.0" text-anchor="end" fill="#1a1a1a" >0.00</text>
<line x1="37.8" y1="772" x2="39.4" y2="772" stroke="#e2342f" stroke-width="1.0" />
<line x1="37.8" y1="756.7" x2="40.2" y2="756.7" stroke="#e2342f" stroke-width="1.0" />
<text transform="translate(35.2 760.3) scale(0.95 1)" font-size="10.0" text-anchor="end" fill="#1a1a1a" >0.05</text>
<line x1="37.8" y1="741.4" x2="39.4" y2="741.4" stroke="#e2342f" stroke-width="1.0" />
<line x1="37.8" y1="726.1" x2="40.2" y2="726.1" stroke="#e2342f" stroke-width="1.0" />
<text transform="translate(35.2 729.7) scale(0.95 1)" font-size="10.0" text-anchor="end" fill="#1a1a1a" >0.10</text>
<line x1="37.8" y1="710.8" x2="39.4" y2="710.8" stroke="#e2342f" stroke-width="1.0" />
<line x1="37.8" y1="695.5" x2="40.2" y2="695.5" stroke="#e2342f" stroke-width="1.0" />
<text transform="translate(35.2 699.1) scale(0.95 1)" font-size="10.0" text-anchor="end" fill="#1a1a1a" >0.15</text>
<line x1="37.8" y1="680.2" x2="39.4" y2="680.2" stroke="#e2342f" stroke-width="1.0" />
<line x1="37.8" y1="664.9" x2="40.2" y2="664.9" stroke="#e2342f" stroke-width="1.0" />
<text transform="translate(35.2 668.5) scale(0.95 1)" font-size="10.0" text-anchor="end" fill="#1a1a1a" >0.20</text>
<line x1="190.6" y1="787.3" x2="188.2" y2="787.3" stroke="#7aa3dc" stroke-width="1.0" />
<text transform="translate(193 790.9) scale(0.95 1)" font-size="10.0" text-anchor="start" fill="#1a1a1a" >0</text>
<line x1="190.6" y1="771.97" x2="189" y2="771.97" stroke="#7aa3dc" stroke-width="1.0" />
<line x1="190.6" y1="756.65" x2="188.2" y2="756.65" stroke="#7aa3dc" stroke-width="1.0" />
<text transform="translate(193 760.25) scale(0.95 1)" font-size="10.0" text-anchor="start" fill="#1a1a1a" >100</text>
<line x1="190.6" y1="741.32" x2="189" y2="741.32" stroke="#7aa3dc" stroke-width="1.0" />
<line x1="190.6" y1="726" x2="188.2" y2="726" stroke="#7aa3dc" stroke-width="1.0" />
<text transform="translate(193 729.6) scale(0.95 1)" font-size="10.0" text-anchor="start" fill="#1a1a1a" >200</text>
<line x1="190.6" y1="710.67" x2="189" y2="710.67" stroke="#7aa3dc" stroke-width="1.0" />
<line x1="190.6" y1="695.35" x2="188.2" y2="695.35" stroke="#7aa3dc" stroke-width="1.0" />
<text transform="translate(193 698.95) scale(0.95 1)" font-size="10.0" text-anchor="start" fill="#1a1a1a" >300</text>
<line x1="190.6" y1="680.02" x2="189" y2="680.02" stroke="#7aa3dc" stroke-width="1.0" />
<line x1="190.6" y1="664.7" x2="188.2" y2="664.7" stroke="#7aa3dc" stroke-width="1.0" />
<text transform="translate(193 668.3) scale(0.95 1)" font-size="10.0" text-anchor="start" fill="#1a1a1a" >400</text>
<line x1="42.3" y1="787.3" x2="42.3" y2="784.5" stroke="#1a1a1a" stroke-width="1.0" />
<text transform="translate(42.3 798) scale(0.95 1)" font-size="10.0" text-anchor="middle" fill="#1a1a1a" >100</text>
<line x1="53.73" y1="787.3" x2="53.73" y2="785.5" stroke="#1a1a1a" stroke-width="1.0" />
<line x1="65.17" y1="787.3" x2="65.17" y2="784.5" stroke="#1a1a1a" stroke-width="1.0" />
<text transform="translate(65.17 798) scale(0.95 1)" font-size="10.0" text-anchor="middle" fill="#1a1a1a" >200</text>
<line x1="76.6" y1="787.3" x2="76.6" y2="785.5" stroke="#1a1a1a" stroke-width="1.0" />
<line x1="88.04" y1="787.3" x2="88.04" y2="784.5" stroke="#1a1a1a" stroke-width="1.0" />
<text transform="translate(88.04 798) scale(0.95 1)" font-size="10.0" text-anchor="middle" fill="#1a1a1a" >300</text>
<line x1="99.47" y1="787.3" x2="99.47" y2="785.5" stroke="#1a1a1a" stroke-width="1.0" />
<line x1="110.91" y1="787.3" x2="110.91" y2="784.5" stroke="#1a1a1a" stroke-width="1.0" />
<text transform="translate(110.91 798) scale(0.95 1)" font-size="10.0" text-anchor="middle" fill="#1a1a1a" >400</text>
<line x1="122.34" y1="787.3" x2="122.34" y2="785.5" stroke="#1a1a1a" stroke-width="1.0" />
<line x1="133.78" y1="787.3" x2="133.78" y2="784.5" stroke="#1a1a1a" stroke-width="1.0" />
<text transform="translate(133.78 798) scale(0.95 1)" font-size="10.0" text-anchor="middle" fill="#1a1a1a" >500</text>
<line x1="145.21" y1="787.3" x2="145.21" y2="785.5" stroke="#1a1a1a" stroke-width="1.0" />
<line x1="156.65" y1="787.3" x2="156.65" y2="784.5" stroke="#1a1a1a" stroke-width="1.0" />
<text transform="translate(156.65 798) scale(0.95 1)" font-size="10.0" text-anchor="middle" fill="#1a1a1a" >600</text>
<line x1="168.08" y1="787.3" x2="168.08" y2="785.5" stroke="#1a1a1a" stroke-width="1.0" />
<line x1="179.52" y1="787.3" x2="179.52" y2="784.5" stroke="#1a1a1a" stroke-width="1.0" />
<text transform="translate(179.52 798) scale(0.95 1)" font-size="10.0" text-anchor="middle" fill="#1a1a1a" >700</text>
<text x="111.9" y="808.8" font-size="10" text-anchor="middle" fill="#1a1a1a" >Channel number</text>
<text transform="translate(14.1 725) rotate(-90)" x="0" y="0" font-size="10" text-anchor="middle" fill="#1a1a1a">Relative error <tspan font-style="italic">&#949;</tspan></text>
<text transform="translate(218.1 724.9) rotate(-90)" x="0" y="0" font-size="10" text-anchor="middle" fill="#1a1a1a">Computing time (s)</text>
<text x="1.5" y="664.9" font-size="16" text-anchor="start" fill="#000" font-weight="bold" >f</text>
<line x1="296.6" y1="665.9" x2="296.6" y2="785.9" stroke="#d8d8d8" stroke-width="0.6" stroke-dasharray="1 1.5" />
<line x1="322.66" y1="665.9" x2="322.66" y2="785.9" stroke="#d8d8d8" stroke-width="0.6" stroke-dasharray="1 1.5" />
<line x1="348.72" y1="665.9" x2="348.72" y2="785.9" stroke="#d8d8d8" stroke-width="0.6" stroke-dasharray="1 1.5" />
<line x1="374.78" y1="665.9" x2="374.78" y2="785.9" stroke="#d8d8d8" stroke-width="0.6" stroke-dasharray="1 1.5" />
<line x1="400.84" y1="665.9" x2="400.84" y2="785.9" stroke="#d8d8d8" stroke-width="0.6" stroke-dasharray="1 1.5" />
<line x1="426.9" y1="665.9" x2="426.9" y2="785.9" stroke="#d8d8d8" stroke-width="0.6" stroke-dasharray="1 1.5" />
<line x1="452.96" y1="665.9" x2="452.96" y2="785.9" stroke="#d8d8d8" stroke-width="0.6" stroke-dasharray="1 1.5" />
<line x1="479.02" y1="665.9" x2="479.02" y2="785.9" stroke="#d8d8d8" stroke-width="0.6" stroke-dasharray="1 1.5" />
<line x1="505.08" y1="665.9" x2="505.08" y2="785.9" stroke="#d8d8d8" stroke-width="0.6" stroke-dasharray="1 1.5" />
<line x1="531.14" y1="665.9" x2="531.14" y2="785.9" stroke="#d8d8d8" stroke-width="0.6" stroke-dasharray="1 1.5" />
<line x1="271.8" y1="782.4" x2="531.4" y2="782.4" stroke="#d8d8d8" stroke-width="0.6" stroke-dasharray="1 1.5" />
<line x1="271.8" y1="754.4" x2="531.4" y2="754.4" stroke="#d8d8d8" stroke-width="0.6" stroke-dasharray="1 1.5" />
<line x1="271.8" y1="726.4" x2="531.4" y2="726.4" stroke="#d8d8d8" stroke-width="0.6" stroke-dasharray="1 1.5" />
<line x1="271.8" y1="698.4" x2="531.4" y2="698.4" stroke="#d8d8d8" stroke-width="0.6" stroke-dasharray="1 1.5" />
<line x1="271.8" y1="670.4" x2="531.4" y2="670.4" stroke="#d8d8d8" stroke-width="0.6" stroke-dasharray="1 1.5" />
<path d="M271.5 751.89 L271.88 752.29 L272.26 751.06 L272.64 750.28 L273.02 747.57 L273.4 740.16 L273.76 739.36 L274.11 738.96 L274.47 735.55 L274.83 731.87 L275.19 727.81 L275.54 721.51 L275.9 710.97 L276.37 739.8 L276.83 754.98 L277.3 758.37 L277.66 760.43 L278.01 760.28 L278.37 757.6 L278.73 754.26 L279.09 749.64 L279.44 743.22 L279.8 735.87 L280.23 746.13 L280.67 750.01 L281.1 750.89 L281.57 750.71 L282.03 743.21 L282.5 735.81 L282.88 744.14 L283.25 748.05 L283.62 750.74 L284 752.74 L284.5 747.54 L285 740.13 L285.36 745.33 L285.73 749.7 L286.09 754.12 L286.45 758.46 L286.81 758.98 L287.18 758.2 L287.54 759.33 L287.9 759.14 L288.28 757.08 L288.65 753.51 L289.03 745.1 L289.4 729.01 L289.78 735.18 L290.17 741.57 L290.55 744.08 L290.93 747.13 L291.32 751.47 L291.7 751.8 L292.06 752.81 L292.43 754.99 L292.79 755.69 L293.15 754.33 L293.51 756.54 L293.88 758.17 L294.24 758.99 L294.6 759.19 L294.98 758.87 L295.36 755.98 L295.74 750.04 L296.12 745.71 L296.5 738.65 L296.86 742.39 L297.23 747.07 L297.59 751.18 L297.95 750.74 L298.31 751.43 L298.68 753.39 L299.04 753.92 L299.4 753.48 L299.75 755.23 L300.11 755.84 L300.46 753.52 L300.82 750.72 L301.17 749.88 L301.53 746.96 L301.88 743.94 L302.24 742.14 L302.59 740.5 L302.95 734.48 L303.3 729.39 L303.68 740.96 L304.06 747.9 L304.44 752.57 L304.82 758.29 L305.2 759.49 L305.56 758.3 L305.91 757.61 L306.27 754.91 L306.63 749.41 L306.99 744.78 L307.34 741.32 L307.7 735.02 L308.07 740.64 L308.43 747.24 L308.8 752.1 L309.17 753.19 L309.53 755.93 L309.9 759.13 L310.27 760.68 L310.63 762.35 L311 764.01 L311.36 763.05 L311.73 760.31 L312.09 760.28 L312.45 758.66 L312.81 756.75 L313.18 756.22 L313.54 755.15 L313.9 751.93 L314.26 750.49 L314.62 749.77 L314.99 748.09 L315.35 744.68 L315.71 744.04 L316.08 742.65 L316.44 738.84 L316.8 733.37 L317.18 745.79 L317.56 753.53 L317.94 758.24 L318.32 763.47 L318.7 765.02 L319.06 764.34 L319.43 764.46 L319.79 762.92 L320.15 758.61 L320.51 755.33 L320.88 753.29 L321.24 749.74 L321.6 745.31 L321.96 749.15 L322.33 750.86 L322.69 750.16 L323.05 750.8 L323.41 752.52 L323.77 753.04 L324.14 754.24 L324.5 756.4 L324.86 758.58 L325.23 759.2 L325.59 760.77 L325.95 762.37 L326.31 762.47 L326.68 764.03 L327.04 766.35 L327.4 766.61 L327.78 764.52 L328.16 763.63 L328.54 760.86 L328.92 756.13 L329.3 752.92 L329.68 749.51 L330.06 741.63 L330.44 733.28 L330.82 723.36 L331.2 710.79 L331.56 723.14 L331.93 736.48 L332.29 746.17 L332.65 753.35 L333.01 759.52 L333.38 763.09 L333.74 762.38 L334.1 762.54 L334.45 763.89 L334.81 763.97 L335.16 763.44 L335.52 765.08 L335.87 764.73 L336.23 761.78 L336.58 760.43 L336.94 760.14 L337.29 758.25 L337.65 757.1 L338 757.41 L338.38 760.68 L338.76 760.82 L339.14 761.75 L339.52 763.28 L339.9 763.21 L340.28 765.11 L340.66 767.56 L341.04 768 L341.42 767.21 L341.8 767.63 L342.15 766 L342.5 764.14 L342.85 764.31 L343.2 763.95 L343.55 761.04 L343.9 757.01 L344.25 753.62 L344.6 747.66 L344.95 740.22 L345.3 734.05 L345.68 745.39 L346.07 752.58 L346.45 758.43 L346.83 763.29 L347.22 763.04 L347.6 762.13 L347.98 762.53 L348.36 760.11 L348.74 755.39 L349.12 750.17 L349.5 740.16 L349.86 745.31 L350.23 750.75 L350.59 755.99 L350.95 758.87 L351.31 762.14 L351.68 766.71 L352.04 766.77 L352.4 765.87 L352.75 765.72 L353.11 765.1 L353.46 762.85 L353.82 763.25 L354.17 763.82 L354.53 762.03 L354.88 759.72 L355.24 757.37 L355.59 754.38 L355.95 749.21 L356.3 746.28 L356.8 763.96 L357.3 767.66 L357.65 767.92 L358 767.15 L358.35 763.06 L358.7 759.41 L359.05 757 L359.4 753.21 L359.75 747.5 L360.1 742.57 L360.46 749.19 L360.83 751.95 L361.19 754.95 L361.55 759.53 L361.91 761.06 L362.27 762.88 L362.64 766.17 L363 766.95 L363.37 764.58 L363.74 764.1 L364.11 763.94 L364.48 761.57 L364.85 760.94 L365.22 761.6 L365.58 759.89 L365.95 756.96 L366.32 754.09 L366.69 751 L367.06 746.07 L367.43 743.18 L367.8 740.91 L368.15 747.28 L368.51 751.88 L368.86 757.07 L369.22 759.86 L369.57 761.87 L369.93 764.94 L370.28 768.57 L370.64 770.25 L370.99 771.33 L371.35 773.44 L371.7 772.39 L372.07 769.43 L372.43 767.82 L372.8 764.46 L373.17 756.98 L373.53 749.63 L373.9 739.69 L374.27 725.13 L374.63 706.98 L375 688.04 L375.36 712.11 L375.71 731.22 L376.07 749.01 L376.43 761.55 L376.79 768.33 L377.14 771.18 L377.5 772.73 L377.86 771.75 L378.23 770.5 L378.59 770.93 L378.95 771.81 L379.31 768.89 L379.68 766.46 L380.04 763.85 L380.4 759.06 L380.76 757.98 L381.12 758.94 L381.49 758.73 L381.85 756.48 L382.21 754.06 L382.58 750.32 L382.94 744.1 L383.3 738.05 L383.68 750.04 L384.06 757.99 L384.44 762.71 L384.82 766.49 L385.2 767.46 L385.56 765.39 L385.93 765.67 L386.29 766.99 L386.65 766.82 L387.01 767.59 L387.38 770.01 L387.74 769.17 L388.1 767.26 L388.48 767.02 L388.87 764.33 L389.25 759.71 L389.63 756.06 L390.02 749.43 L390.4 738.97 L390.76 746.72 L391.11 753.75 L391.47 757.91 L391.83 761.59 L392.19 766.31 L392.54 768.59 L392.9 768.56 L393.25 769.66 L393.61 770.85 L393.96 769.85 L394.32 769.22 L394.67 771.69 L395.03 773.59 L395.38 773.05 L395.74 774.11 L396.09 775.4 L396.45 773.65 L396.8 772.01 L397.17 772.27 L397.53 772.58 L397.9 770.87 L398.27 769.74 L398.63 766.81 L399 759.86 L399.37 753.91 L399.73 747.7 L400.1 740.26 L400.46 747.81 L400.81 755.63 L401.17 760.63 L401.53 762.54 L401.89 764.64 L402.24 765.53 L402.6 765.2 L402.95 764.59 L403.3 765.6 L403.65 765.39 L404 761.35 L404.35 757.7 L404.7 753.78 L405.05 746.79 L405.4 739.69 L405.75 734.66 L406.1 727.91 L406.5 740.58 L406.9 750.81 L407.3 758.42 L407.7 761.06 L408.1 764.32 L408.5 766.67 L408.86 766.68 L409.23 766.15 L409.59 765.82 L409.95 763.1 L410.31 758.28 L410.68 756.13 L411.04 752.89 L411.4 748.37 L411.9 760.98 L412.4 763.75 L412.8 760.41 L413.2 757.26 L413.6 749.89 L414 739.81 L414.4 751.07 L414.8 758.51 L415.2 762.2 L415.6 765.84 L416 767.42 L416.4 766.25 L416.76 768.15 L417.12 769.45 L417.49 767.54 L417.85 766.42 L418.21 764.66 L418.58 761.06 L418.94 757.61 L419.3 755.88 L419.7 756.76 L420.1 752.58 L420.5 747.03 L420.9 737.44 L421.3 721.59 L421.7 706.26 L422.07 729.76 L422.43 747.55 L422.8 762.31 L423.17 772.25 L423.53 775.22 L423.9 774.65 L424.26 775.54 L424.62 774.34 L424.99 771.86 L425.35 769.58 L425.71 766.92 L426.08 759.56 L426.44 751.2 L426.8 743.35 L427.2 747.35 L427.6 750.33 L428 755.08 L428.4 756.48 L428.8 756.02 L429.17 758.74 L429.53 760.48 L429.9 760.55 L430.27 763.54 L430.63 766.54 L431 767.27 L431.37 767.6 L431.73 768.61 L432.1 766.97 L432.48 766.79 L432.85 769.52 L433.23 772.11 L433.6 772.64 L433.98 774.96 L434.35 775.5 L434.73 773.75 L435.1 772.24 L435.47 773.17 L435.84 771.23 L436.21 766.92 L436.59 762.13 L436.96 753.22 L437.33 739.61 L437.7 725.8 L438.08 741.17 L438.47 752.38 L438.85 762.38 L439.23 770.54 L439.62 772.01 L440 771.76 L440.36 772.41 L440.73 771.7 L441.09 771.39 L441.45 773.57 L441.82 775.39 L442.18 774.25 L442.55 774.84 L442.91 774.61 L443.27 773.4 L443.64 772.49 L444 774.42 L444.38 774.68 L444.77 772.64 L445.15 769.23 L445.53 763.81 L445.92 754.01 L446.3 745.46 L446.67 755.5 L447.04 761.89 L447.41 768.04 L447.79 773.23 L448.16 774.65 L448.53 774.09 L448.9 775.37 L449.26 776.23 L449.61 775.39 L449.97 776.8 L450.33 778.35 L450.69 776.82 L451.04 775.7 L451.4 776.02 L451.8 773.79 L452.2 768.89 L452.6 763.12 L453 751.27 L453.4 732.34 L453.8 710.41 L454.2 730.9 L454.6 745.12 L455 759.1 L455.4 769.29 L455.8 772.54 L456.2 773.77 L456.56 773.57 L456.93 770.86 L457.29 768.53 L457.65 767.58 L458.01 764.08 L458.38 759.25 L458.74 755.28 L459.1 747.61 L459.5 756.63 L459.9 763.69 L460.3 768.98 L460.7 769.71 L461.08 771.21 L461.45 771.43 L461.83 768.79 L462.2 766.49 L462.58 765.48 L462.95 762.82 L463.33 760.44 L463.7 760.35 L464.06 761.27 L464.43 760.8 L464.79 761.23 L465.15 762.09 L465.51 761.04 L465.88 762.04 L466.24 764.37 L466.6 764.99 L466.98 763.96 L467.36 763.37 L467.73 761.8 L468.11 758.11 L468.49 757.12 L468.87 756.87 L469.24 753.33 L469.62 749.8 L470 745.78 L470.36 752.1 L470.71 757.3 L471.07 763.9 L471.43 768.22 L471.79 770.59 L472.14 773.22 L472.5 773.84 L472.88 771.38 L473.25 768.85 L473.62 767.28 L474 764.35 L474.38 759.57 L474.75 754.88 L475.12 747.32 L475.5 736.14 L475.9 746.97 L476.3 755.77 L476.7 761.66 L477.1 767.74 L477.5 771.51 L477.9 770.55 L478.26 770.25 L478.61 769.41 L478.97 767.37 L479.33 765.59 L479.69 765.9 L480.04 764.53 L480.4 761.05 L480.78 764.97 L481.15 768.66 L481.53 769.28 L481.9 771.4 L482.28 774.87 L482.65 776.47 L483.03 776.67 L483.4 777.7 L483.75 776.72 L484.11 772.55 L484.46 769.45 L484.82 765.62 L485.17 758.78 L485.53 750.11 L485.88 741.51 L486.24 728.12 L486.59 711.11 L486.95 694.07 L487.3 676.08 L487.68 701.5 L488.05 724.34 L488.43 743.87 L488.8 757.03 L489.18 766.16 L489.55 773.05 L489.93 776.02 L490.3 776.22 L490.66 777.83 L491.03 779.38 L491.39 778.14 L491.75 776.3 L492.11 774.78 L492.48 771.32 L492.84 768.1 L493.2 767.06 L493.58 768.23 L493.95 766.25 L494.33 764.97 L494.7 762.31 L495.08 756.16 L495.45 750.04 L495.83 746.09 L496.2 738.95 L496.6 753.94 L497 765.76 L497.4 772.05 L497.8 773.75 L498.2 775.21 L498.56 776.65 L498.93 777.54 L499.29 779.19 L499.65 780.51 L500.01 778.96 L500.38 778.16 L500.74 778.98 L501.1 778.33 L501.46 778.13 L501.82 778.54 L502.18 776.73 L502.54 772.12 L502.9 766.16 L503.26 759.83 L503.62 751.78 L503.98 741.67 L504.34 733.76 L504.7 722.68 L505.08 740.13 L505.47 754.13 L505.85 764.23 L506.23 769.39 L506.62 773.65 L507 777.1 L507.38 776.79 L507.75 776.77 L508.12 776.57 L508.5 774.3 L508.88 771.34 L509.25 771.68 L509.62 770.88 L510 768.65 L510.4 773.61 L510.8 776.48 L511.2 775.7 L511.6 776.93 L512 777.8 L512.38 776.9 L512.75 777.77 L513.12 778.73 L513.5 776.89 L513.88 774 L514.25 771.95 L514.62 769.68 L515 766.17 L515.38 765.44 L515.75 763.21 L516.12 757.61 L516.5 752.86 L516.88 760.93 L517.27 765.65 L517.65 771.33 L518.03 777.01 L518.42 778.51 L518.8 778.58 L519.16 778.85 L519.52 776.86 L519.88 774.1 L520.24 773.33 L520.6 772.75 L520.96 769.82 L521.32 766.26 L521.68 763.38 L522.04 756.87 L522.4 749.3 L522.8 757.58 L523.2 764.03 L523.6 767.56 L524 771.55 L524.4 771.84 L524.77 769.5 L525.13 768.06 L525.5 766.6 L525.87 762.88 L526.23 759.42 L526.6 756.48 L526.97 750.15 L527.33 741.22 L527.7 732.8 L528.1 748.45 L528.5 758.96 L528.9 769.32 L529.3 774.64 L529.7 774.98 L530.17 769.33 L530.63 750.43 L531.1 715.42 L531.48 733.42 L531.85 744.81 L532.23 749.74 L532.6 752.06" stroke="#f7c65c" stroke-width="0.8" fill="none" stroke-dasharray="1.2 1.2" />
<path d="M271.2 751.89 L271.58 752.29 L271.96 751.06 L272.34 750.28 L272.72 747.57 L273.1 740.16 L273.46 739.36 L273.81 738.96 L274.17 735.55 L274.53 731.87 L274.89 727.81 L275.24 721.51 L275.6 710.97 L276.07 739.8 L276.53 754.98 L277 758.37 L277.36 760.43 L277.71 760.28 L278.07 757.6 L278.43 754.26 L278.79 749.64 L279.14 743.22 L279.5 735.87 L279.93 746.13 L280.37 750.01 L280.8 750.89 L281.27 750.71 L281.73 743.21 L282.2 735.81 L282.57 744.14 L282.95 748.05 L283.32 750.74 L283.7 752.74 L284.2 747.54 L284.7 740.13 L285.06 745.33 L285.43 749.7 L285.79 754.12 L286.15 758.46 L286.51 758.98 L286.88 758.2 L287.24 759.33 L287.6 759.14 L287.98 757.08 L288.35 753.51 L288.73 745.1 L289.1 729.01 L289.48 735.18 L289.87 741.57 L290.25 744.08 L290.63 747.13 L291.02 751.47 L291.4 751.8 L291.76 752.81 L292.13 754.99 L292.49 755.69 L292.85 754.33 L293.21 756.54 L293.57 758.17 L293.94 758.99 L294.3 759.19 L294.68 758.87 L295.06 755.98 L295.44 750.04 L295.82 745.71 L296.2 738.65 L296.56 742.39 L296.93 747.07 L297.29 751.18 L297.65 750.74 L298.01 751.43 L298.38 753.39 L298.74 753.92 L299.1 753.48 L299.45 755.23 L299.81 755.84 L300.16 753.52 L300.52 750.72 L300.87 749.88 L301.23 746.96 L301.58 743.94 L301.94 742.14 L302.29 740.5 L302.65 734.48 L303 729.39 L303.38 740.96 L303.76 747.9 L304.14 752.57 L304.52 758.29 L304.9 759.49 L305.26 758.3 L305.61 757.61 L305.97 754.91 L306.33 749.41 L306.69 744.78 L307.04 741.32 L307.4 735.02 L307.77 740.64 L308.13 747.24 L308.5 752.1 L308.87 753.19 L309.23 755.93 L309.6 759.13 L309.97 760.68 L310.33 762.35 L310.7 764.01 L311.06 763.05 L311.43 760.31 L311.79 760.28 L312.15 758.66 L312.51 756.75 L312.88 756.22 L313.24 755.15 L313.6 751.93 L313.96 750.49 L314.32 749.77 L314.69 748.09 L315.05 744.68 L315.41 744.04 L315.78 742.65 L316.14 738.84 L316.5 733.37 L316.88 745.79 L317.26 753.53 L317.64 758.24 L318.02 763.47 L318.4 765.02 L318.76 764.34 L319.13 764.46 L319.49 762.92 L319.85 758.61 L320.21 755.33 L320.57 753.29 L320.94 749.74 L321.3 745.31 L321.66 749.15 L322.03 750.86 L322.39 750.16 L322.75 750.8 L323.11 752.52 L323.47 753.04 L323.84 754.24 L324.2 756.4 L324.56 758.58 L324.93 759.2 L325.29 760.77 L325.65 762.37 L326.01 762.47 L326.38 764.03 L326.74 766.35 L327.1 766.61 L327.48 764.52 L327.86 763.63 L328.24 760.86 L328.62 756.13 L329 752.92 L329.38 749.51 L329.76 741.63 L330.14 733.28 L330.52 723.36 L330.9 710.79 L331.26 723.14 L331.63 736.48 L331.99 746.17 L332.35 753.35 L332.71 759.52 L333.07 763.09 L333.44 762.38 L333.8 762.54 L334.15 763.89 L334.51 763.97 L334.86 763.44 L335.22 765.08 L335.57 764.73 L335.93 761.78 L336.28 760.43 L336.64 760.14 L336.99 758.25 L337.35 757.1 L337.7 757.41 L338.08 760.68 L338.46 760.82 L338.84 761.75 L339.22 763.28 L339.6 763.21 L339.98 765.11 L340.36 767.56 L340.74 768 L341.12 767.21 L341.5 767.63 L341.85 766 L342.2 764.14 L342.55 764.31 L342.9 763.95 L343.25 761.04 L343.6 757.01 L343.95 753.62 L344.3 747.66 L344.65 740.22 L345 734.05 L345.38 745.39 L345.77 752.58 L346.15 758.43 L346.53 763.29 L346.92 763.04 L347.3 762.13 L347.68 762.53 L348.06 760.11 L348.44 755.39 L348.82 750.17 L349.2 740.16 L349.56 745.31 L349.93 750.75 L350.29 755.99 L350.65 758.87 L351.01 762.14 L351.38 766.71 L351.74 766.77 L352.1 765.87 L352.45 765.72 L352.81 765.1 L353.16 762.85 L353.52 763.25 L353.87 763.82 L354.23 762.03 L354.58 759.72 L354.94 757.37 L355.29 754.38 L355.65 749.21 L356 746.28 L356.5 763.96 L357 767.66 L357.35 767.92 L357.7 767.15 L358.05 763.06 L358.4 759.41 L358.75 757 L359.1 753.21 L359.45 747.5 L359.8 742.57 L360.16 749.19 L360.53 751.95 L360.89 754.95 L361.25 759.53 L361.61 761.06 L361.97 762.88 L362.34 766.17 L362.7 766.95 L363.07 764.58 L363.44 764.1 L363.81 763.94 L364.18 761.57 L364.55 760.94 L364.92 761.6 L365.28 759.89 L365.65 756.96 L366.02 754.09 L366.39 751 L366.76 746.07 L367.13 743.18 L367.5 740.91 L367.85 747.28 L368.21 751.88 L368.56 757.07 L368.92 759.86 L369.27 761.87 L369.63 764.94 L369.98 768.57 L370.34 770.25 L370.69 771.33 L371.05 773.44 L371.4 772.39 L371.77 769.43 L372.13 767.82 L372.5 764.46 L372.87 756.98 L373.23 749.63 L373.6 739.69 L373.97 725.13 L374.33 706.98 L374.7 688.04 L375.06 712.11 L375.41 731.22 L375.77 749.01 L376.13 761.55 L376.49 768.33 L376.84 771.18 L377.2 772.73 L377.56 771.75 L377.93 770.5 L378.29 770.93 L378.65 771.81 L379.01 768.89 L379.38 766.46 L379.74 763.85 L380.1 759.06 L380.46 757.98 L380.82 758.94 L381.19 758.73 L381.55 756.48 L381.91 754.06 L382.28 750.32 L382.64 744.1 L383 738.05 L383.38 750.04 L383.76 757.99 L384.14 762.71 L384.52 766.49 L384.9 767.46 L385.26 765.39 L385.63 765.67 L385.99 766.99 L386.35 766.82 L386.71 767.59 L387.07 770.01 L387.44 769.17 L387.8 767.26 L388.18 767.02 L388.57 764.33 L388.95 759.71 L389.33 756.06 L389.72 749.43 L390.1 738.97 L390.46 746.72 L390.81 753.75 L391.17 757.91 L391.53 761.59 L391.89 766.31 L392.24 768.59 L392.6 768.56 L392.95 769.66 L393.31 770.85 L393.66 769.85 L394.02 769.22 L394.37 771.69 L394.73 773.59 L395.08 773.05 L395.44 774.11 L395.79 775.4 L396.15 773.65 L396.5 772.01 L396.87 772.27 L397.23 772.58 L397.6 770.87 L397.97 769.74 L398.33 766.81 L398.7 759.86 L399.07 753.91 L399.43 747.7 L399.8 740.26 L400.16 747.81 L400.51 755.63 L400.87 760.63 L401.23 762.54 L401.59 764.64 L401.94 765.53 L402.3 765.2 L402.65 764.59 L403 765.6 L403.35 765.39 L403.7 761.35 L404.05 757.7 L404.4 753.78 L404.75 746.79 L405.1 739.69 L405.45 734.66 L405.8 727.91 L406.2 740.58 L406.6 750.81 L407 758.42 L407.4 761.06 L407.8 764.32 L408.2 766.67 L408.56 766.68 L408.93 766.15 L409.29 765.82 L409.65 763.1 L410.01 758.28 L410.38 756.13 L410.74 752.89 L411.1 748.37 L411.6 760.98 L412.1 763.75 L412.5 760.41 L412.9 757.26 L413.3 749.89 L413.7 739.81 L414.1 751.07 L414.5 758.51 L414.9 762.2 L415.3 765.84 L415.7 767.42 L416.1 766.25 L416.46 768.15 L416.82 769.45 L417.19 767.54 L417.55 766.42 L417.91 764.66 L418.28 761.06 L418.64 757.61 L419 755.88 L419.4 756.76 L419.8 752.58 L420.2 747.03 L420.6 737.44 L421 721.59 L421.4 706.26 L421.77 729.76 L422.13 747.55 L422.5 762.31 L422.87 772.25 L423.23 775.22 L423.6 774.65 L423.96 775.54 L424.32 774.34 L424.69 771.86 L425.05 769.58 L425.41 766.92 L425.78 759.56 L426.14 751.2 L426.5 743.35 L426.9 747.35 L427.3 750.33 L427.7 755.08 L428.1 756.48 L428.5 756.02 L428.87 758.74 L429.23 760.48 L429.6 760.55 L429.97 763.54 L430.33 766.54 L430.7 767.27 L431.07 767.6 L431.43 768.61 L431.8 766.97 L432.18 766.79 L432.55 769.52 L432.93 772.11 L433.3 772.64 L433.68 774.96 L434.05 775.5 L434.43 773.75 L434.8 772.24 L435.17 773.17 L435.54 771.23 L435.91 766.92 L436.29 762.13 L436.66 753.22 L437.03 739.61 L437.4 725.8 L437.78 741.17 L438.17 752.38 L438.55 762.38 L438.93 770.54 L439.32 772.01 L439.7 771.76 L440.06 772.41 L440.43 771.7 L440.79 771.39 L441.15 773.57 L441.52 775.39 L441.88 774.25 L442.25 774.84 L442.61 774.61 L442.97 773.4 L443.34 772.49 L443.7 774.42 L444.08 774.68 L444.47 772.64 L444.85 769.23 L445.23 763.81 L445.62 754.01 L446 745.46 L446.37 755.5 L446.74 761.89 L447.11 768.04 L447.49 773.23 L447.86 774.65 L448.23 774.09 L448.6 775.37 L448.96 776.23 L449.31 775.39 L449.67 776.8 L450.03 778.35 L450.39 776.82 L450.74 775.7 L451.1 776.02 L451.5 773.79 L451.9 768.89 L452.3 763.12 L452.7 751.27 L453.1 732.34 L453.5 710.41 L453.9 730.9 L454.3 745.12 L454.7 759.1 L455.1 769.29 L455.5 772.54 L455.9 773.77 L456.26 773.57 L456.63 770.86 L456.99 768.53 L457.35 767.58 L457.71 764.08 L458.07 759.25 L458.44 755.28 L458.8 747.61 L459.2 756.63 L459.6 763.69 L460 768.98 L460.4 769.71 L460.78 771.21 L461.15 771.43 L461.53 768.79 L461.9 766.49 L462.28 765.48 L462.65 762.82 L463.03 760.44 L463.4 760.35 L463.76 761.27 L464.13 760.8 L464.49 761.23 L464.85 762.09 L465.21 761.04 L465.57 762.04 L465.94 764.37 L466.3 764.99 L466.68 763.96 L467.06 763.37 L467.43 761.8 L467.81 758.11 L468.19 757.12 L468.57 756.87 L468.94 753.33 L469.32 749.8 L469.7 745.78 L470.06 752.1 L470.41 757.3 L470.77 763.9 L471.13 768.22 L471.49 770.59 L471.84 773.22 L472.2 773.84 L472.57 771.38 L472.95 768.85 L473.32 767.28 L473.7 764.35 L474.07 759.57 L474.45 754.88 L474.82 747.32 L475.2 736.14 L475.6 746.97 L476 755.77 L476.4 761.66 L476.8 767.74 L477.2 771.51 L477.6 770.55 L477.96 770.25 L478.31 769.41 L478.67 767.37 L479.03 765.59 L479.39 765.9 L479.74 764.53 L480.1 761.05 L480.48 764.97 L480.85 768.66 L481.23 769.28 L481.6 771.4 L481.98 774.87 L482.35 776.47 L482.73 776.67 L483.1 777.7 L483.45 776.72 L483.81 772.55 L484.16 769.45 L484.52 765.62 L484.87 758.78 L485.23 750.11 L485.58 741.51 L485.94 728.12 L486.29 711.11 L486.65 694.07 L487 676.08 L487.38 701.5 L487.75 724.34 L488.12 743.87 L488.5 757.03 L488.88 766.16 L489.25 773.05 L489.62 776.02 L490 776.22 L490.36 777.83 L490.73 779.38 L491.09 778.14 L491.45 776.3 L491.81 774.78 L492.18 771.32 L492.54 768.1 L492.9 767.06 L493.28 768.23 L493.65 766.25 L494.03 764.97 L494.4 762.31 L494.78 756.16 L495.15 750.04 L495.53 746.09 L495.9 738.95 L496.3 753.94 L496.7 765.76 L497.1 772.05 L497.5 773.75 L497.9 775.21 L498.26 776.65 L498.63 777.54 L498.99 779.19 L499.35 780.51 L499.71 778.96 L500.07 778.16 L500.44 778.98 L500.8 778.33 L501.16 778.13 L501.52 778.54 L501.88 776.73 L502.24 772.12 L502.6 766.16 L502.96 759.83 L503.32 751.78 L503.68 741.67 L504.04 733.76 L504.4 722.68 L504.78 740.13 L505.17 754.13 L505.55 764.23 L505.93 769.39 L506.32 773.65 L506.7 777.1 L507.07 776.79 L507.45 776.77 L507.82 776.57 L508.2 774.3 L508.57 771.34 L508.95 771.68 L509.32 770.88 L509.7 768.65 L510.1 773.61 L510.5 776.48 L510.9 775.7 L511.3 776.93 L511.7 777.8 L512.07 776.9 L512.45 777.77 L512.82 778.73 L513.2 776.89 L513.57 774 L513.95 771.95 L514.32 769.68 L514.7 766.17 L515.07 765.44 L515.45 763.21 L515.82 757.61 L516.2 752.86 L516.58 760.93 L516.97 765.65 L517.35 771.33 L517.73 777.01 L518.12 778.51 L518.5 778.58 L518.86 778.85 L519.22 776.86 L519.58 774.1 L519.94 773.33 L520.3 772.75 L520.66 769.82 L521.02 766.26 L521.38 763.38 L521.74 756.87 L522.1 749.3 L522.5 757.58 L522.9 764.03 L523.3 767.56 L523.7 771.55 L524.1 771.84 L524.47 769.5 L524.83 768.06 L525.2 766.6 L525.57 762.88 L525.93 759.42 L526.3 756.48 L526.67 750.15 L527.03 741.22 L527.4 732.8 L527.8 748.45 L528.2 758.96 L528.6 769.32 L529 774.64 L529.4 774.98 L529.87 769.33 L530.33 750.43 L530.8 715.42 L531.17 733.42 L531.55 744.81 L531.92 749.74 L532.3 752.06" stroke="#f6a07a" stroke-width="0.8" fill="none" stroke-dasharray="2.2 1.4" />
<path d="M270.9 751.89 L271.28 752.29 L271.66 751.06 L272.04 750.28 L272.42 747.57 L272.8 740.16 L273.16 739.36 L273.51 738.96 L273.87 735.55 L274.23 731.87 L274.59 727.81 L274.94 721.51 L275.3 710.97 L275.77 739.8 L276.23 754.98 L276.7 758.37 L277.06 760.43 L277.41 760.28 L277.77 757.6 L278.13 754.26 L278.49 749.64 L278.84 743.22 L279.2 735.87 L279.63 746.13 L280.07 750.01 L280.5 750.89 L280.97 750.71 L281.43 743.21 L281.9 735.81 L282.27 744.14 L282.65 748.05 L283.02 750.74 L283.4 752.74 L283.9 747.54 L284.4 740.13 L284.76 745.33 L285.12 749.7 L285.49 754.12 L285.85 758.46 L286.21 758.98 L286.57 758.2 L286.94 759.33 L287.3 759.14 L287.68 757.08 L288.05 753.51 L288.43 745.1 L288.8 729.01 L289.18 735.18 L289.57 741.57 L289.95 744.08 L290.33 747.13 L290.72 751.47 L291.1 751.8 L291.46 752.81 L291.83 754.99 L292.19 755.69 L292.55 754.33 L292.91 756.54 L293.27 758.17 L293.64 758.99 L294 759.19 L294.38 758.87 L294.76 755.98 L295.14 750.04 L295.52 745.71 L295.9 738.65 L296.26 742.39 L296.62 747.07 L296.99 751.18 L297.35 750.74 L297.71 751.43 L298.07 753.39 L298.44 753.92 L298.8 753.48 L299.15 755.23 L299.51 755.84 L299.86 753.52 L300.22 750.72 L300.57 749.88 L300.93 746.96 L301.28 743.94 L301.64 742.14 L301.99 740.5 L302.35 734.48 L302.7 729.39 L303.08 740.96 L303.46 747.9 L303.84 752.57 L304.22 758.29 L304.6 759.49 L304.96 758.3 L305.31 757.61 L305.67 754.91 L306.03 749.41 L306.39 744.78 L306.74 741.32 L307.1 735.02 L307.47 740.64 L307.83 747.24 L308.2 752.1 L308.57 753.19 L308.93 755.93 L309.3 759.13 L309.67 760.68 L310.03 762.35 L310.4 764.01 L310.76 763.05 L311.12 760.31 L311.49 760.28 L311.85 758.66 L312.21 756.75 L312.57 756.22 L312.94 755.15 L313.3 751.93 L313.66 750.49 L314.02 749.77 L314.39 748.09 L314.75 744.68 L315.11 744.04 L315.48 742.65 L315.84 738.84 L316.2 733.37 L316.58 745.79 L316.96 753.53 L317.34 758.24 L317.72 763.47 L318.1 765.02 L318.46 764.34 L318.83 764.46 L319.19 762.92 L319.55 758.61 L319.91 755.33 L320.27 753.29 L320.64 749.74 L321 745.31 L321.36 749.15 L321.73 750.86 L322.09 750.16 L322.45 750.8 L322.81 752.52 L323.17 753.04 L323.54 754.24 L323.9 756.4 L324.26 758.58 L324.62 759.2 L324.99 760.77 L325.35 762.37 L325.71 762.47 L326.07 764.03 L326.44 766.35 L326.8 766.61 L327.18 764.52 L327.56 763.63 L327.94 760.86 L328.32 756.13 L328.7 752.92 L329.08 749.51 L329.46 741.63 L329.84 733.28 L330.22 723.36 L330.6 710.79 L330.96 723.14 L331.33 736.48 L331.69 746.17 L332.05 753.35 L332.41 759.52 L332.77 763.09 L333.14 762.38 L333.5 762.54 L333.85 763.89 L334.21 763.97 L334.56 763.44 L334.92 765.08 L335.27 764.73 L335.63 761.78 L335.98 760.43 L336.34 760.14 L336.69 758.25 L337.05 757.1 L337.4 757.41 L337.78 760.68 L338.16 760.82 L338.54 761.75 L338.92 763.28 L339.3 763.21 L339.68 765.11 L340.06 767.56 L340.44 768 L340.82 767.21 L341.2 767.63 L341.55 766 L341.9 764.14 L342.25 764.31 L342.6 763.95 L342.95 761.04 L343.3 757.01 L343.65 753.62 L344 747.66 L344.35 740.22 L344.7 734.05 L345.08 745.39 L345.47 752.58 L345.85 758.43 L346.23 763.29 L346.62 763.04 L347 762.13 L347.38 762.53 L347.76 760.11 L348.14 755.39 L348.52 750.17 L348.9 740.16 L349.26 745.31 L349.62 750.75 L349.99 755.99 L350.35 758.87 L350.71 762.14 L351.07 766.71 L351.44 766.77 L351.8 765.87 L352.15 765.72 L352.51 765.1 L352.86 762.85 L353.22 763.25 L353.57 763.82 L353.93 762.03 L354.28 759.72 L354.64 757.37 L354.99 754.38 L355.35 749.21 L355.7 746.28 L356.2 763.96 L356.7 767.66 L357.05 767.92 L357.4 767.15 L357.75 763.06 L358.1 759.41 L358.45 757 L358.8 753.21 L359.15 747.5 L359.5 742.57 L359.86 749.19 L360.23 751.95 L360.59 754.95 L360.95 759.53 L361.31 761.06 L361.67 762.88 L362.04 766.17 L362.4 766.95 L362.77 764.58 L363.14 764.1 L363.51 763.94 L363.88 761.57 L364.25 760.94 L364.62 761.6 L364.98 759.89 L365.35 756.96 L365.72 754.09 L366.09 751 L366.46 746.07 L366.83 743.18 L367.2 740.91 L367.55 747.28 L367.91 751.88 L368.26 757.07 L368.62 759.86 L368.97 761.87 L369.33 764.94 L369.68 768.57 L370.04 770.25 L370.39 771.33 L370.75 773.44 L371.1 772.39 L371.47 769.43 L371.83 767.82 L372.2 764.46 L372.57 756.98 L372.93 749.63 L373.3 739.69 L373.67 725.13 L374.03 706.98 L374.4 688.04 L374.76 712.11 L375.11 731.22 L375.47 749.01 L375.83 761.55 L376.19 768.33 L376.54 771.18 L376.9 772.73 L377.26 771.75 L377.62 770.5 L377.99 770.93 L378.35 771.81 L378.71 768.89 L379.07 766.46 L379.44 763.85 L379.8 759.06 L380.16 757.98 L380.52 758.94 L380.89 758.73 L381.25 756.48 L381.61 754.06 L381.98 750.32 L382.34 744.1 L382.7 738.05 L383.08 750.04 L383.46 757.99 L383.84 762.71 L384.22 766.49 L384.6 767.46 L384.96 765.39 L385.33 765.67 L385.69 766.99 L386.05 766.82 L386.41 767.59 L386.77 770.01 L387.14 769.17 L387.5 767.26 L387.88 767.02 L388.27 764.33 L388.65 759.71 L389.03 756.06 L389.42 749.43 L389.8 738.97 L390.16 746.72 L390.51 753.75 L390.87 757.91 L391.23 761.59 L391.59 766.31 L391.94 768.59 L392.3 768.56 L392.65 769.66 L393.01 770.85 L393.36 769.85 L393.72 769.22 L394.07 771.69 L394.43 773.59 L394.78 773.05 L395.14 774.11 L395.49 775.4 L395.85 773.65 L396.2 772.01 L396.57 772.27 L396.93 772.58 L397.3 770.87 L397.67 769.74 L398.03 766.81 L398.4 759.86 L398.77 753.91 L399.13 747.7 L399.5 740.26 L399.86 747.81 L400.21 755.63 L400.57 760.63 L400.93 762.54 L401.29 764.64 L401.64 765.53 L402 765.2 L402.35 764.59 L402.7 765.6 L403.05 765.39 L403.4 761.35 L403.75 757.7 L404.1 753.78 L404.45 746.79 L404.8 739.69 L405.15 734.66 L405.5 727.91 L405.9 740.58 L406.3 750.81 L406.7 758.42 L407.1 761.06 L407.5 764.32 L407.9 766.67 L408.26 766.68 L408.62 766.15 L408.99 765.82 L409.35 763.1 L409.71 758.28 L410.07 756.13 L410.44 752.89 L410.8 748.37 L411.3 760.98 L411.8 763.75 L412.2 760.41 L412.6 757.26 L413 749.89 L413.4 739.81 L413.8 751.07 L414.2 758.51 L414.6 762.2 L415 765.84 L415.4 767.42 L415.8 766.25 L416.16 768.15 L416.52 769.45 L416.89 767.54 L417.25 766.42 L417.61 764.66 L417.98 761.06 L418.34 757.61 L418.7 755.88 L419.1 756.76 L419.5 752.58 L419.9 747.03 L420.3 737.44 L420.7 721.59 L421.1 706.26 L421.47 729.76 L421.83 747.55 L422.2 762.31 L422.57 772.25 L422.93 775.22 L423.3 774.65 L423.66 775.54 L424.02 774.34 L424.39 771.86 L424.75 769.58 L425.11 766.92 L425.48 759.56 L425.84 751.2 L426.2 743.35 L426.6 747.35 L427 750.33 L427.4 755.08 L427.8 756.48 L428.2 756.02 L428.57 758.74 L428.93 760.48 L429.3 760.55 L429.67 763.54 L430.03 766.54 L430.4 767.27 L430.77 767.6 L431.13 768.61 L431.5 766.97 L431.88 766.79 L432.25 769.52 L432.62 772.11 L433 772.64 L433.38 774.96 L433.75 775.5 L434.12 773.75 L434.5 772.24 L434.87 773.17 L435.24 771.23 L435.61 766.92 L435.99 762.13 L436.36 753.22 L436.73 739.61 L437.1 725.8 L437.48 741.17 L437.87 752.38 L438.25 762.38 L438.63 770.54 L439.02 772.01 L439.4 771.76 L439.76 772.41 L440.13 771.7 L440.49 771.39 L440.85 773.57 L441.22 775.39 L441.58 774.25 L441.95 774.84 L442.31 774.61 L442.67 773.4 L443.04 772.49 L443.4 774.42 L443.78 774.68 L444.17 772.64 L444.55 769.23 L444.93 763.81 L445.32 754.01 L445.7 745.46 L446.07 755.5 L446.44 761.89 L446.81 768.04 L447.19 773.23 L447.56 774.65 L447.93 774.09 L448.3 775.37 L448.66 776.23 L449.01 775.39 L449.37 776.8 L449.73 778.35 L450.09 776.82 L450.44 775.7 L450.8 776.02 L451.2 773.79 L451.6 768.89 L452 763.12 L452.4 751.27 L452.8 732.34 L453.2 710.41 L453.6 730.9 L454 745.12 L454.4 759.1 L454.8 769.29 L455.2 772.54 L455.6 773.77 L455.96 773.57 L456.33 770.86 L456.69 768.53 L457.05 767.58 L457.41 764.08 L457.77 759.25 L458.14 755.28 L458.5 747.61 L458.9 756.63 L459.3 763.69 L459.7 768.98 L460.1 769.71 L460.48 771.21 L460.85 771.43 L461.23 768.79 L461.6 766.49 L461.98 765.48 L462.35 762.82 L462.73 760.44 L463.1 760.35 L463.46 761.27 L463.83 760.8 L464.19 761.23 L464.55 762.09 L464.91 761.04 L465.27 762.04 L465.64 764.37 L466 764.99 L466.38 763.96 L466.76 763.37 L467.13 761.8 L467.51 758.11 L467.89 757.12 L468.27 756.87 L468.64 753.33 L469.02 749.8 L469.4 745.78 L469.76 752.1 L470.11 757.3 L470.47 763.9 L470.83 768.22 L471.19 770.59 L471.54 773.22 L471.9 773.84 L472.27 771.38 L472.65 768.85 L473.02 767.28 L473.4 764.35 L473.77 759.57 L474.15 754.88 L474.52 747.32 L474.9 736.14 L475.3 746.97 L475.7 755.77 L476.1 761.66 L476.5 767.74 L476.9 771.51 L477.3 770.55 L477.66 770.25 L478.01 769.41 L478.37 767.37 L478.73 765.59 L479.09 765.9 L479.44 764.53 L479.8 761.05 L480.18 764.97 L480.55 768.66 L480.93 769.28 L481.3 771.4 L481.68 774.87 L482.05 776.47 L482.43 776.67 L482.8 777.7 L483.15 776.72 L483.51 772.55 L483.86 769.45 L484.22 765.62 L484.57 758.78 L484.93 750.11 L485.28 741.51 L485.64 728.12 L485.99 711.11 L486.35 694.07 L486.7 676.08 L487.07 701.5 L487.45 724.34 L487.82 743.87 L488.2 757.03 L488.57 766.16 L488.95 773.05 L489.32 776.02 L489.7 776.22 L490.06 777.83 L490.43 779.38 L490.79 778.14 L491.15 776.3 L491.51 774.78 L491.88 771.32 L492.24 768.1 L492.6 767.06 L492.98 768.23 L493.35 766.25 L493.73 764.97 L494.1 762.31 L494.48 756.16 L494.85 750.04 L495.23 746.09 L495.6 738.95 L496 753.94 L496.4 765.76 L496.8 772.05 L497.2 773.75 L497.6 775.21 L497.96 776.65 L498.33 777.54 L498.69 779.19 L499.05 780.51 L499.41 778.96 L499.77 778.16 L500.14 778.98 L500.5 778.33 L500.86 778.13 L501.22 778.54 L501.58 776.73 L501.94 772.12 L502.3 766.16 L502.66 759.83 L503.02 751.78 L503.38 741.67 L503.74 733.76 L504.1 722.68 L504.48 740.13 L504.87 754.13 L505.25 764.23 L505.63 769.39 L506.02 773.65 L506.4 777.1 L506.77 776.79 L507.15 776.77 L507.52 776.57 L507.9 774.3 L508.27 771.34 L508.65 771.68 L509.02 770.88 L509.4 768.65 L509.8 773.61 L510.2 776.48 L510.6 775.7 L511 776.93 L511.4 777.8 L511.77 776.9 L512.15 777.77 L512.52 778.73 L512.9 776.89 L513.27 774 L513.65 771.95 L514.02 769.68 L514.4 766.17 L514.77 765.44 L515.15 763.21 L515.52 757.61 L515.9 752.86 L516.28 760.93 L516.67 765.65 L517.05 771.33 L517.43 777.01 L517.82 778.51 L518.2 778.58 L518.56 778.85 L518.92 776.86 L519.28 774.1 L519.64 773.33 L520 772.75 L520.36 769.82 L520.72 766.26 L521.08 763.38 L521.44 756.87 L521.8 749.3 L522.2 757.58 L522.6 764.03 L523 767.56 L523.4 771.55 L523.8 771.84 L524.17 769.5 L524.53 768.06 L524.9 766.6 L525.27 762.88 L525.63 759.42 L526 756.48 L526.37 750.15 L526.73 741.22 L527.1 732.8 L527.5 748.45 L527.9 758.96 L528.3 769.32 L528.7 774.64 L529.1 774.98 L529.57 769.33 L530.03 750.43 L530.5 715.42 L530.88 733.42 L531.25 744.81 L531.62 749.74 L532 752.06" stroke="#ea6a44" stroke-width="0.65" fill="none" />
<rect x="323.7" y="706.9" width="13.7" height="70.7" stroke="#555" stroke-width="1.3" fill="none" stroke-dasharray="4.5 2.8"/>
<rect x="445.4" y="706.4" width="14.3" height="71.9" stroke="#555" stroke-width="1.3" fill="none" stroke-dasharray="4.5 2.8"/>
<line x1="337.4" y1="706.9" x2="556.94" y2="681.98" stroke="#555" stroke-width="1.3" stroke-dasharray="5 3.2" />
<path d="M562.9 681.3 L557.23 684.56 L556.65 679.39 Z" stroke="none" stroke-width="0" fill="#555" />
<line x1="459.7" y1="706.4" x2="556.38" y2="737.27" stroke="#555" stroke-width="1.3" stroke-dasharray="5 3.2" />
<path d="M562.1 739.1 L555.59 739.75 L557.18 734.8 Z" stroke="none" stroke-width="0" fill="#555" />
<line x1="270.3" y1="664.9" x2="533" y2="664.9" stroke="#6b6b6b" stroke-width="1.5" />
<line x1="270.8" y1="664.9" x2="270.8" y2="787.5" stroke="#333" stroke-width="1.3" />
<line x1="532.4" y1="664.9" x2="532.4" y2="787.5" stroke="#333" stroke-width="1.3" />
<line x1="270.8" y1="786.9" x2="532.4" y2="786.9" stroke="#333" stroke-width="1.3" />
<line x1="270.8" y1="782.4" x2="273.8" y2="782.4" stroke="#333" stroke-width="1.0" />
<text transform="translate(267.8 786) scale(0.95 1)" font-size="10.0" text-anchor="end" fill="#1a1a1a" >0.0</text>
<line x1="270.8" y1="754.4" x2="272.8" y2="754.4" stroke="#333" stroke-width="1.0" />
<line x1="270.8" y1="726.4" x2="273.8" y2="726.4" stroke="#333" stroke-width="1.0" />
<text transform="translate(267.8 730) scale(0.95 1)" font-size="10.0" text-anchor="end" fill="#1a1a1a" >0.5</text>
<line x1="270.8" y1="698.4" x2="272.8" y2="698.4" stroke="#333" stroke-width="1.0" />
<line x1="270.8" y1="670.4" x2="273.8" y2="670.4" stroke="#333" stroke-width="1.0" />
<text transform="translate(267.8 674) scale(0.95 1)" font-size="10.0" text-anchor="end" fill="#1a1a1a" >1.0</text>
<line x1="296.6" y1="786.9" x2="296.6" y2="783.9" stroke="#333" stroke-width="1.0" />
<text transform="translate(296.6 798.4) scale(0.95 1)" font-size="10.0" text-anchor="middle" fill="#1a1a1a" >1430</text>
<line x1="322.66" y1="786.9" x2="322.66" y2="784.9" stroke="#333" stroke-width="1.0" />
<line x1="348.72" y1="786.9" x2="348.72" y2="783.9" stroke="#333" stroke-width="1.0" />
<text transform="translate(348.72 798.4) scale(0.95 1)" font-size="10.0" text-anchor="middle" fill="#1a1a1a" >1470</text>
<line x1="374.78" y1="786.9" x2="374.78" y2="784.9" stroke="#333" stroke-width="1.0" />
<line x1="400.84" y1="786.9" x2="400.84" y2="783.9" stroke="#333" stroke-width="1.0" />
<text transform="translate(400.84 798.4) scale(0.95 1)" font-size="10.0" text-anchor="middle" fill="#1a1a1a" >1510</text>
<line x1="426.9" y1="786.9" x2="426.9" y2="784.9" stroke="#333" stroke-width="1.0" />
<line x1="452.96" y1="786.9" x2="452.96" y2="783.9" stroke="#333" stroke-width="1.0" />
<text transform="translate(452.96 798.4) scale(0.95 1)" font-size="10.0" text-anchor="middle" fill="#1a1a1a" >1550</text>
<line x1="479.02" y1="786.9" x2="479.02" y2="784.9" stroke="#333" stroke-width="1.0" />
<line x1="505.08" y1="786.9" x2="505.08" y2="783.9" stroke="#333" stroke-width="1.0" />
<text transform="translate(505.08 798.4) scale(0.95 1)" font-size="10.0" text-anchor="middle" fill="#1a1a1a" >1590</text>
<line x1="531.14" y1="786.9" x2="531.14" y2="784.9" stroke="#333" stroke-width="1.0" />
<text x="399" y="808.8" font-size="10" text-anchor="middle" fill="#1a1a1a" >Wavelength (nm)</text>
<text transform="translate(252.2 726) rotate(-90)" x="0" y="0" font-size="10" text-anchor="middle" fill="#1a1a1a">Normalized intensity</text>
<text x="241.3" y="665.1" font-size="16" text-anchor="start" fill="#000" font-weight="bold" >g</text>
<line x1="283.8" y1="674.8" x2="296" y2="674.8" stroke="#e0602e" stroke-width="1.6" />
<line x1="283.2" y1="685" x2="296.2" y2="685" stroke="#f8a880" stroke-width="1.6" stroke-dasharray="4 3" />
<line x1="283.2" y1="694.9" x2="296.2" y2="694.9" stroke="#f0c850" stroke-width="1.6" stroke-dasharray="2.6 1.8" />
<text x="300.6" y="677.64" font-size="7.9" text-anchor="start" fill="#3a3a3a" font-style="italic" >10<tspan dx="0.3">&#176;</tspan><tspan dx="-0.7" font-style="normal">C</tspan></text>
<text x="300.6" y="687.84" font-size="7.9" text-anchor="start" fill="#3a3a3a" font-style="italic" >20<tspan dx="0.3">&#176;</tspan><tspan dx="-0.7" font-style="normal">C</tspan></text>
<text x="300.6" y="697.74" font-size="7.9" text-anchor="start" fill="#3a3a3a" font-style="italic" >30<tspan dx="0.3">&#176;</tspan><tspan dx="-0.7" font-style="normal">C</tspan></text>
<line x1="583.43" y1="665.9" x2="583.43" y2="718.8" stroke="#e0e0e0" stroke-width="0.6" stroke-dasharray="1 1.5" />
<line x1="613.65" y1="665.9" x2="613.65" y2="718.8" stroke="#e0e0e0" stroke-width="0.6" stroke-dasharray="1 1.5" />
<line x1="643.88" y1="665.9" x2="643.88" y2="718.8" stroke="#e0e0e0" stroke-width="0.6" stroke-dasharray="1 1.5" />
<line x1="554.2" y1="714.5" x2="673.1" y2="714.5" stroke="#e0e0e0" stroke-width="0.6" stroke-dasharray="1 1.5" />
<line x1="554.2" y1="706.8" x2="673.1" y2="706.8" stroke="#e0e0e0" stroke-width="0.6" stroke-dasharray="1 1.5" />
<line x1="554.2" y1="699.1" x2="673.1" y2="699.1" stroke="#e0e0e0" stroke-width="0.6" stroke-dasharray="1 1.5" />
<line x1="554.2" y1="691.4" x2="673.1" y2="691.4" stroke="#e0e0e0" stroke-width="0.6" stroke-dasharray="1 1.5" />
<line x1="554.2" y1="683.7" x2="673.1" y2="683.7" stroke="#e0e0e0" stroke-width="0.6" stroke-dasharray="1 1.5" />
<line x1="554.2" y1="676" x2="673.1" y2="676" stroke="#e0e0e0" stroke-width="0.6" stroke-dasharray="1 1.5" />
<line x1="554.2" y1="668.3" x2="673.1" y2="668.3" stroke="#e0e0e0" stroke-width="0.6" stroke-dasharray="1 1.5" />
<clipPath id="clip664"><rect x="553.2" y="664.9" width="120.89999999999998" height="54.89999999999998"/></clipPath>
<g clip-path="url(#clip664)">
<path d="M556.9 701.8 C557.37 701.08 558.82 698.53 559.7 697.5 C560.58 696.47 561.37 696.12 562.2 695.6 C563.03 695.08 563.88 694.65 564.7 694.4 C565.52 694.15 566.3 693.97 567.1 694.1 C567.9 694.23 568.7 694.52 569.5 695.2 C570.3 695.88 571.1 697.27 571.9 698.2 C572.7 699.13 573.5 700.2 574.3 700.8 C575.1 701.4 575.72 701.78 576.7 701.8 C577.68 701.82 579 701.18 580.2 700.9 C581.4 700.62 582.88 700.15 583.9 700.1 C584.92 700.05 585.5 700.32 586.3 700.6 C587.1 700.88 587.72 700.97 588.7 701.8 C589.68 702.63 590.98 704.4 592.2 705.6 C593.42 706.8 594.57 708.23 596 709 C597.43 709.77 598.8 710.15 600.8 710.2 C602.8 710.25 605.4 709.5 608 709.3 C610.6 709.1 614.62 709.33 616.4 709 C618.18 708.67 617.93 708.63 618.7 707.3 C619.47 705.97 620.33 703.55 621 701 C621.67 698.45 622.12 695 622.7 692 C623.28 689 623.87 685.63 624.5 683 C625.13 680.37 625.83 677.68 626.5 676.2 C627.17 674.72 627.8 674.2 628.5 674.1 C629.2 674 629.9 674.4 630.7 675.6 C631.5 676.8 632.47 678.9 633.3 681.3 C634.13 683.7 634.9 687.18 635.7 690 C636.5 692.82 637.27 696.03 638.1 698.2 C638.93 700.37 639.7 701.72 640.7 703 C641.7 704.28 642.33 705.1 644.1 705.9 C645.87 706.7 649.28 707.18 651.3 707.8 C653.32 708.42 654.58 709.2 656.2 709.6 C657.82 710 659.58 710.4 661 710.2 C662.42 710 663.5 709 664.7 708.4 C665.9 707.8 667.03 706.97 668.2 706.6 C669.37 706.23 670.62 706.13 671.7 706.2 C672.78 706.27 673.68 706.73 674.7 707 C675.72 707.27 677.28 707.67 677.8 707.8" stroke="#f9d780" stroke-width="1.0" fill="none" stroke-dasharray="1.4 1.4" />
<path d="M555.05 701.8 C555.52 701.08 556.97 698.53 557.85 697.5 C558.73 696.47 559.52 696.12 560.35 695.6 C561.18 695.08 562.03 694.65 562.85 694.4 C563.67 694.15 564.45 693.97 565.25 694.1 C566.05 694.23 566.85 694.52 567.65 695.2 C568.45 695.88 569.25 697.27 570.05 698.2 C570.85 699.13 571.65 700.2 572.45 700.8 C573.25 701.4 573.87 701.78 574.85 701.8 C575.83 701.82 577.15 701.18 578.35 700.9 C579.55 700.62 581.03 700.15 582.05 700.1 C583.07 700.05 583.65 700.32 584.45 700.6 C585.25 700.88 585.87 700.97 586.85 701.8 C587.83 702.63 589.13 704.4 590.35 705.6 C591.57 706.8 592.72 708.23 594.15 709 C595.58 709.77 596.95 710.15 598.95 710.2 C600.95 710.25 603.55 709.5 606.15 709.3 C608.75 709.1 612.77 709.33 614.55 709 C616.33 708.67 616.08 708.63 616.85 707.3 C617.62 705.97 618.48 703.55 619.15 701 C619.82 698.45 620.27 695 620.85 692 C621.43 689 622.02 685.63 622.65 683 C623.28 680.37 623.98 677.68 624.65 676.2 C625.32 674.72 625.95 674.2 626.65 674.1 C627.35 674 628.05 674.4 628.85 675.6 C629.65 676.8 630.62 678.9 631.45 681.3 C632.28 683.7 633.05 687.18 633.85 690 C634.65 692.82 635.42 696.03 636.25 698.2 C637.08 700.37 637.85 701.72 638.85 703 C639.85 704.28 640.48 705.1 642.25 705.9 C644.02 706.7 647.43 707.18 649.45 707.8 C651.47 708.42 652.73 709.2 654.35 709.6 C655.97 710 657.73 710.4 659.15 710.2 C660.57 710 661.65 709 662.85 708.4 C664.05 707.8 665.18 706.97 666.35 706.6 C667.52 706.23 668.77 706.13 669.85 706.2 C670.93 706.27 671.83 706.73 672.85 707 C673.87 707.27 675.43 707.67 675.95 707.8" stroke="#f7b08e" stroke-width="1.0" fill="none" stroke-dasharray="2 1.6" />
<path d="M553.2 701.8 C553.67 701.08 555.12 698.53 556 697.5 C556.88 696.47 557.67 696.12 558.5 695.6 C559.33 695.08 560.18 694.65 561 694.4 C561.82 694.15 562.6 693.97 563.4 694.1 C564.2 694.23 565 694.52 565.8 695.2 C566.6 695.88 567.4 697.27 568.2 698.2 C569 699.13 569.8 700.2 570.6 700.8 C571.4 701.4 572.02 701.78 573 701.8 C573.98 701.82 575.3 701.18 576.5 700.9 C577.7 700.62 579.18 700.15 580.2 700.1 C581.22 700.05 581.8 700.32 582.6 700.6 C583.4 700.88 584.02 700.97 585 701.8 C585.98 702.63 587.28 704.4 588.5 705.6 C589.72 706.8 590.87 708.23 592.3 709 C593.73 709.77 595.1 710.15 597.1 710.2 C599.1 710.25 601.7 709.5 604.3 709.3 C606.9 709.1 610.92 709.33 612.7 709 C614.48 708.67 614.23 708.63 615 707.3 C615.77 705.97 616.63 703.55 617.3 701 C617.97 698.45 618.42 695 619 692 C619.58 689 620.17 685.63 620.8 683 C621.43 680.37 622.13 677.68 622.8 676.2 C623.47 674.72 624.1 674.2 624.8 674.1 C625.5 674 626.2 674.4 627 675.6 C627.8 676.8 628.77 678.9 629.6 681.3 C630.43 683.7 631.2 687.18 632 690 C632.8 692.82 633.57 696.03 634.4 698.2 C635.23 700.37 636 701.72 637 703 C638 704.28 638.63 705.1 640.4 705.9 C642.17 706.7 645.58 707.18 647.6 707.8 C649.62 708.42 650.88 709.2 652.5 709.6 C654.12 710 655.88 710.4 657.3 710.2 C658.72 710 659.8 709 661 708.4 C662.2 707.8 663.33 706.97 664.5 706.6 C665.67 706.23 666.92 706.13 668 706.2 C669.08 706.27 669.98 706.73 671 707 C672.02 707.27 673.58 707.67 674.1 707.8" stroke="#e85a45" stroke-width="1.0" fill="none" />
</g>
<rect x="553.2" y="664.9" width="120.9" height="54.9" stroke="#555" stroke-width="1.3" fill="none"/>
<line x1="553.2" y1="706.8" x2="555.7" y2="706.8" stroke="#333" stroke-width="1.0" />
<text transform="translate(551.2 710.4) scale(0.95 1)" font-size="10.0" text-anchor="end" fill="#1a1a1a" >0.2</text>
<line x1="553.2" y1="691.4" x2="555.7" y2="691.4" stroke="#333" stroke-width="1.0" />
<text transform="translate(551.2 695) scale(0.95 1)" font-size="10.0" text-anchor="end" fill="#1a1a1a" >0.4</text>
<line x1="553.2" y1="676" x2="555.7" y2="676" stroke="#333" stroke-width="1.0" />
<text transform="translate(551.2 679.6) scale(0.95 1)" font-size="10.0" text-anchor="end" fill="#1a1a1a" >0.6</text>
<line x1="553.2" y1="719.8" x2="553.2" y2="717.3" stroke="#333" stroke-width="1.0" />
<text transform="translate(556.7 729.5) scale(0.95 1)" font-size="10.0" text-anchor="middle" fill="#1a1a1a" >1450</text>
<line x1="613.65" y1="719.8" x2="613.65" y2="717.3" stroke="#333" stroke-width="1.0" />
<text transform="translate(613.65 729.5) scale(0.95 1)" font-size="10.0" text-anchor="middle" fill="#1a1a1a" >1455</text>
<line x1="674.1" y1="719.8" x2="674.1" y2="717.3" stroke="#333" stroke-width="1.0" />
<text transform="translate(671.5 729.5) scale(0.95 1)" font-size="10.0" text-anchor="middle" fill="#1a1a1a" >1460</text>
<line x1="623.6" y1="671.2" x2="631.2" y2="671.2" stroke="#333" stroke-width="0.8" stroke-dasharray="1.6 1" />
<path d="M634.4 671.2 L631.2 672.8 L631.2 669.6 Z" stroke="none" stroke-width="0" fill="#333" />
<text x="637.3" y="674.26" font-size="8.5" text-anchor="start" fill="#3a3a3a" font-style="italic" >0.31 nm</text>
<line x1="583.43" y1="734.1" x2="583.43" y2="786.3" stroke="#e0e0e0" stroke-width="0.6" stroke-dasharray="1 1.5" />
<line x1="613.65" y1="734.1" x2="613.65" y2="786.3" stroke="#e0e0e0" stroke-width="0.6" stroke-dasharray="1 1.5" />
<line x1="643.88" y1="734.1" x2="643.88" y2="786.3" stroke="#e0e0e0" stroke-width="0.6" stroke-dasharray="1 1.5" />
<line x1="554.2" y1="782.4" x2="673.1" y2="782.4" stroke="#e0e0e0" stroke-width="0.6" stroke-dasharray="1 1.5" />
<line x1="554.2" y1="774.7" x2="673.1" y2="774.7" stroke="#e0e0e0" stroke-width="0.6" stroke-dasharray="1 1.5" />
<line x1="554.2" y1="767" x2="673.1" y2="767" stroke="#e0e0e0" stroke-width="0.6" stroke-dasharray="1 1.5" />
<line x1="554.2" y1="759.3" x2="673.1" y2="759.3" stroke="#e0e0e0" stroke-width="0.6" stroke-dasharray="1 1.5" />
<line x1="554.2" y1="751.6" x2="673.1" y2="751.6" stroke="#e0e0e0" stroke-width="0.6" stroke-dasharray="1 1.5" />
<line x1="554.2" y1="743.9" x2="673.1" y2="743.9" stroke="#e0e0e0" stroke-width="0.6" stroke-dasharray="1 1.5" />
<line x1="554.2" y1="736.2" x2="673.1" y2="736.2" stroke="#e0e0e0" stroke-width="0.6" stroke-dasharray="1 1.5" />
<clipPath id="clip733"><rect x="553.2" y="733.1" width="120.89999999999998" height="54.19999999999993"/></clipPath>
<g clip-path="url(#clip733)">
<path d="M556.9 770.4 C557.37 770.25 558.82 769.67 559.7 769.5 C560.58 769.33 561.28 769.07 562.2 769.4 C563.12 769.73 564.18 770.53 565.2 771.5 C566.22 772.47 567.13 773.82 568.3 775.2 C569.47 776.58 570.8 778.38 572.2 779.8 C573.6 781.22 575.12 782.88 576.7 783.7 C578.28 784.52 580.1 784.5 581.7 784.7 C583.3 784.9 583.52 784.87 586.3 784.9 C589.08 784.93 595.92 785.13 598.4 784.9 C600.88 784.67 600.4 784.3 601.2 783.5 C602 782.7 602.48 781.85 603.2 780.1 C603.92 778.35 604.7 775.82 605.5 773 C606.3 770.18 607.08 767.03 608 763.2 C608.92 759.37 610 753.62 611 750 C612 746.38 613.08 742.58 614 741.5 C614.92 740.42 615.7 742.3 616.5 743.5 C617.3 744.7 618.1 746.45 618.8 748.7 C619.5 750.95 620.1 754.18 620.7 757 C621.3 759.82 621.73 762.93 622.4 765.6 C623.07 768.27 623.88 770.78 624.7 773 C625.52 775.22 626.3 777.48 627.3 778.9 C628.3 780.32 629.5 780.9 630.7 781.5 C631.9 782.1 631.47 782.33 634.5 782.5 C637.53 782.67 645.98 783.08 648.9 782.5 C651.82 781.92 650.98 780.62 652 779 C653.02 777.38 653.88 774.72 655 772.8 C656.12 770.88 657.38 768.7 658.7 767.5 C660.02 766.3 661.73 765.43 662.9 765.6 C664.07 765.77 664.82 767.3 665.7 768.5 C666.58 769.7 667.28 771.25 668.2 772.8 C669.12 774.35 670.2 776.38 671.2 777.8 C672.2 779.22 673.1 780.6 674.2 781.3 C675.3 782 677.2 781.88 677.8 782" stroke="#f9d780" stroke-width="1.0" fill="none" stroke-dasharray="1.4 1.4" />
<path d="M555.05 770.4 C555.52 770.25 556.97 769.67 557.85 769.5 C558.73 769.33 559.43 769.07 560.35 769.4 C561.27 769.73 562.33 770.53 563.35 771.5 C564.37 772.47 565.28 773.82 566.45 775.2 C567.62 776.58 568.95 778.38 570.35 779.8 C571.75 781.22 573.27 782.88 574.85 783.7 C576.43 784.52 578.25 784.5 579.85 784.7 C581.45 784.9 581.67 784.87 584.45 784.9 C587.23 784.93 594.07 785.13 596.55 784.9 C599.03 784.67 598.55 784.3 599.35 783.5 C600.15 782.7 600.63 781.85 601.35 780.1 C602.07 778.35 602.85 775.82 603.65 773 C604.45 770.18 605.23 767.03 606.15 763.2 C607.07 759.37 608.15 753.62 609.15 750 C610.15 746.38 611.23 742.58 612.15 741.5 C613.07 740.42 613.85 742.3 614.65 743.5 C615.45 744.7 616.25 746.45 616.95 748.7 C617.65 750.95 618.25 754.18 618.85 757 C619.45 759.82 619.88 762.93 620.55 765.6 C621.22 768.27 622.03 770.78 622.85 773 C623.67 775.22 624.45 777.48 625.45 778.9 C626.45 780.32 627.65 780.9 628.85 781.5 C630.05 782.1 629.62 782.33 632.65 782.5 C635.68 782.67 644.13 783.08 647.05 782.5 C649.97 781.92 649.13 780.62 650.15 779 C651.17 777.38 652.03 774.72 653.15 772.8 C654.27 770.88 655.53 768.7 656.85 767.5 C658.17 766.3 659.88 765.43 661.05 765.6 C662.22 765.77 662.97 767.3 663.85 768.5 C664.73 769.7 665.43 771.25 666.35 772.8 C667.27 774.35 668.35 776.38 669.35 777.8 C670.35 779.22 671.25 780.6 672.35 781.3 C673.45 782 675.35 781.88 675.95 782" stroke="#f7b08e" stroke-width="1.0" fill="none" stroke-dasharray="2 1.6" />
<path d="M553.2 770.4 C553.67 770.25 555.12 769.67 556 769.5 C556.88 769.33 557.58 769.07 558.5 769.4 C559.42 769.73 560.48 770.53 561.5 771.5 C562.52 772.47 563.43 773.82 564.6 775.2 C565.77 776.58 567.1 778.38 568.5 779.8 C569.9 781.22 571.42 782.88 573 783.7 C574.58 784.52 576.4 784.5 578 784.7 C579.6 784.9 579.82 784.87 582.6 784.9 C585.38 784.93 592.22 785.13 594.7 784.9 C597.18 784.67 596.7 784.3 597.5 783.5 C598.3 782.7 598.78 781.85 599.5 780.1 C600.22 778.35 601 775.82 601.8 773 C602.6 770.18 603.38 767.03 604.3 763.2 C605.22 759.37 606.3 753.62 607.3 750 C608.3 746.38 609.38 742.58 610.3 741.5 C611.22 740.42 612 742.3 612.8 743.5 C613.6 744.7 614.4 746.45 615.1 748.7 C615.8 750.95 616.4 754.18 617 757 C617.6 759.82 618.03 762.93 618.7 765.6 C619.37 768.27 620.18 770.78 621 773 C621.82 775.22 622.6 777.48 623.6 778.9 C624.6 780.32 625.8 780.9 627 781.5 C628.2 782.1 627.77 782.33 630.8 782.5 C633.83 782.67 642.28 783.08 645.2 782.5 C648.12 781.92 647.28 780.62 648.3 779 C649.32 777.38 650.18 774.72 651.3 772.8 C652.42 770.88 653.68 768.7 655 767.5 C656.32 766.3 658.03 765.43 659.2 765.6 C660.37 765.77 661.12 767.3 662 768.5 C662.88 769.7 663.58 771.25 664.5 772.8 C665.42 774.35 666.5 776.38 667.5 777.8 C668.5 779.22 669.4 780.6 670.5 781.3 C671.6 782 673.5 781.88 674.1 782" stroke="#e85a45" stroke-width="1.0" fill="none" />
</g>
<rect x="553.2" y="733.1" width="120.9" height="54.2" stroke="#555" stroke-width="1.3" fill="none"/>
<line x1="553.2" y1="774.7" x2="555.7" y2="774.7" stroke="#333" stroke-width="1.0" />
<text transform="translate(551.2 778.3) scale(0.95 1)" font-size="10.0" text-anchor="end" fill="#1a1a1a" >0.2</text>
<line x1="553.2" y1="759.3" x2="555.7" y2="759.3" stroke="#333" stroke-width="1.0" />
<text transform="translate(551.2 762.9) scale(0.95 1)" font-size="10.0" text-anchor="end" fill="#1a1a1a" >0.4</text>
<line x1="553.2" y1="743.9" x2="555.7" y2="743.9" stroke="#333" stroke-width="1.0" />
<text transform="translate(551.2 747.5) scale(0.95 1)" font-size="10.0" text-anchor="end" fill="#1a1a1a" >0.6</text>
<line x1="553.2" y1="787.3" x2="553.2" y2="784.8" stroke="#333" stroke-width="1.0" />
<text transform="translate(556.5 798.1) scale(0.95 1)" font-size="10.0" text-anchor="middle" fill="#1a1a1a" >1545</text>
<line x1="613.65" y1="787.3" x2="613.65" y2="784.8" stroke="#333" stroke-width="1.0" />
<text transform="translate(614.55 798.1) scale(0.95 1)" font-size="10.0" text-anchor="middle" fill="#1a1a1a" >1550</text>
<line x1="674.1" y1="787.3" x2="674.1" y2="784.8" stroke="#333" stroke-width="1.0" />
<text transform="translate(671.5 798.1) scale(0.95 1)" font-size="10.0" text-anchor="middle" fill="#1a1a1a" >1555</text>
<line x1="607.9" y1="738.4" x2="615.5" y2="738.4" stroke="#333" stroke-width="0.8" stroke-dasharray="1.6 1" />
<path d="M618.7 738.4 L615.5 740 L615.5 736.8 Z" stroke="none" stroke-width="0" fill="#333" />
<text x="621.6" y="741.46" font-size="8.5" text-anchor="start" fill="#3a3a3a" font-style="italic" >0.31 nm</text>
</svg></body></html>
